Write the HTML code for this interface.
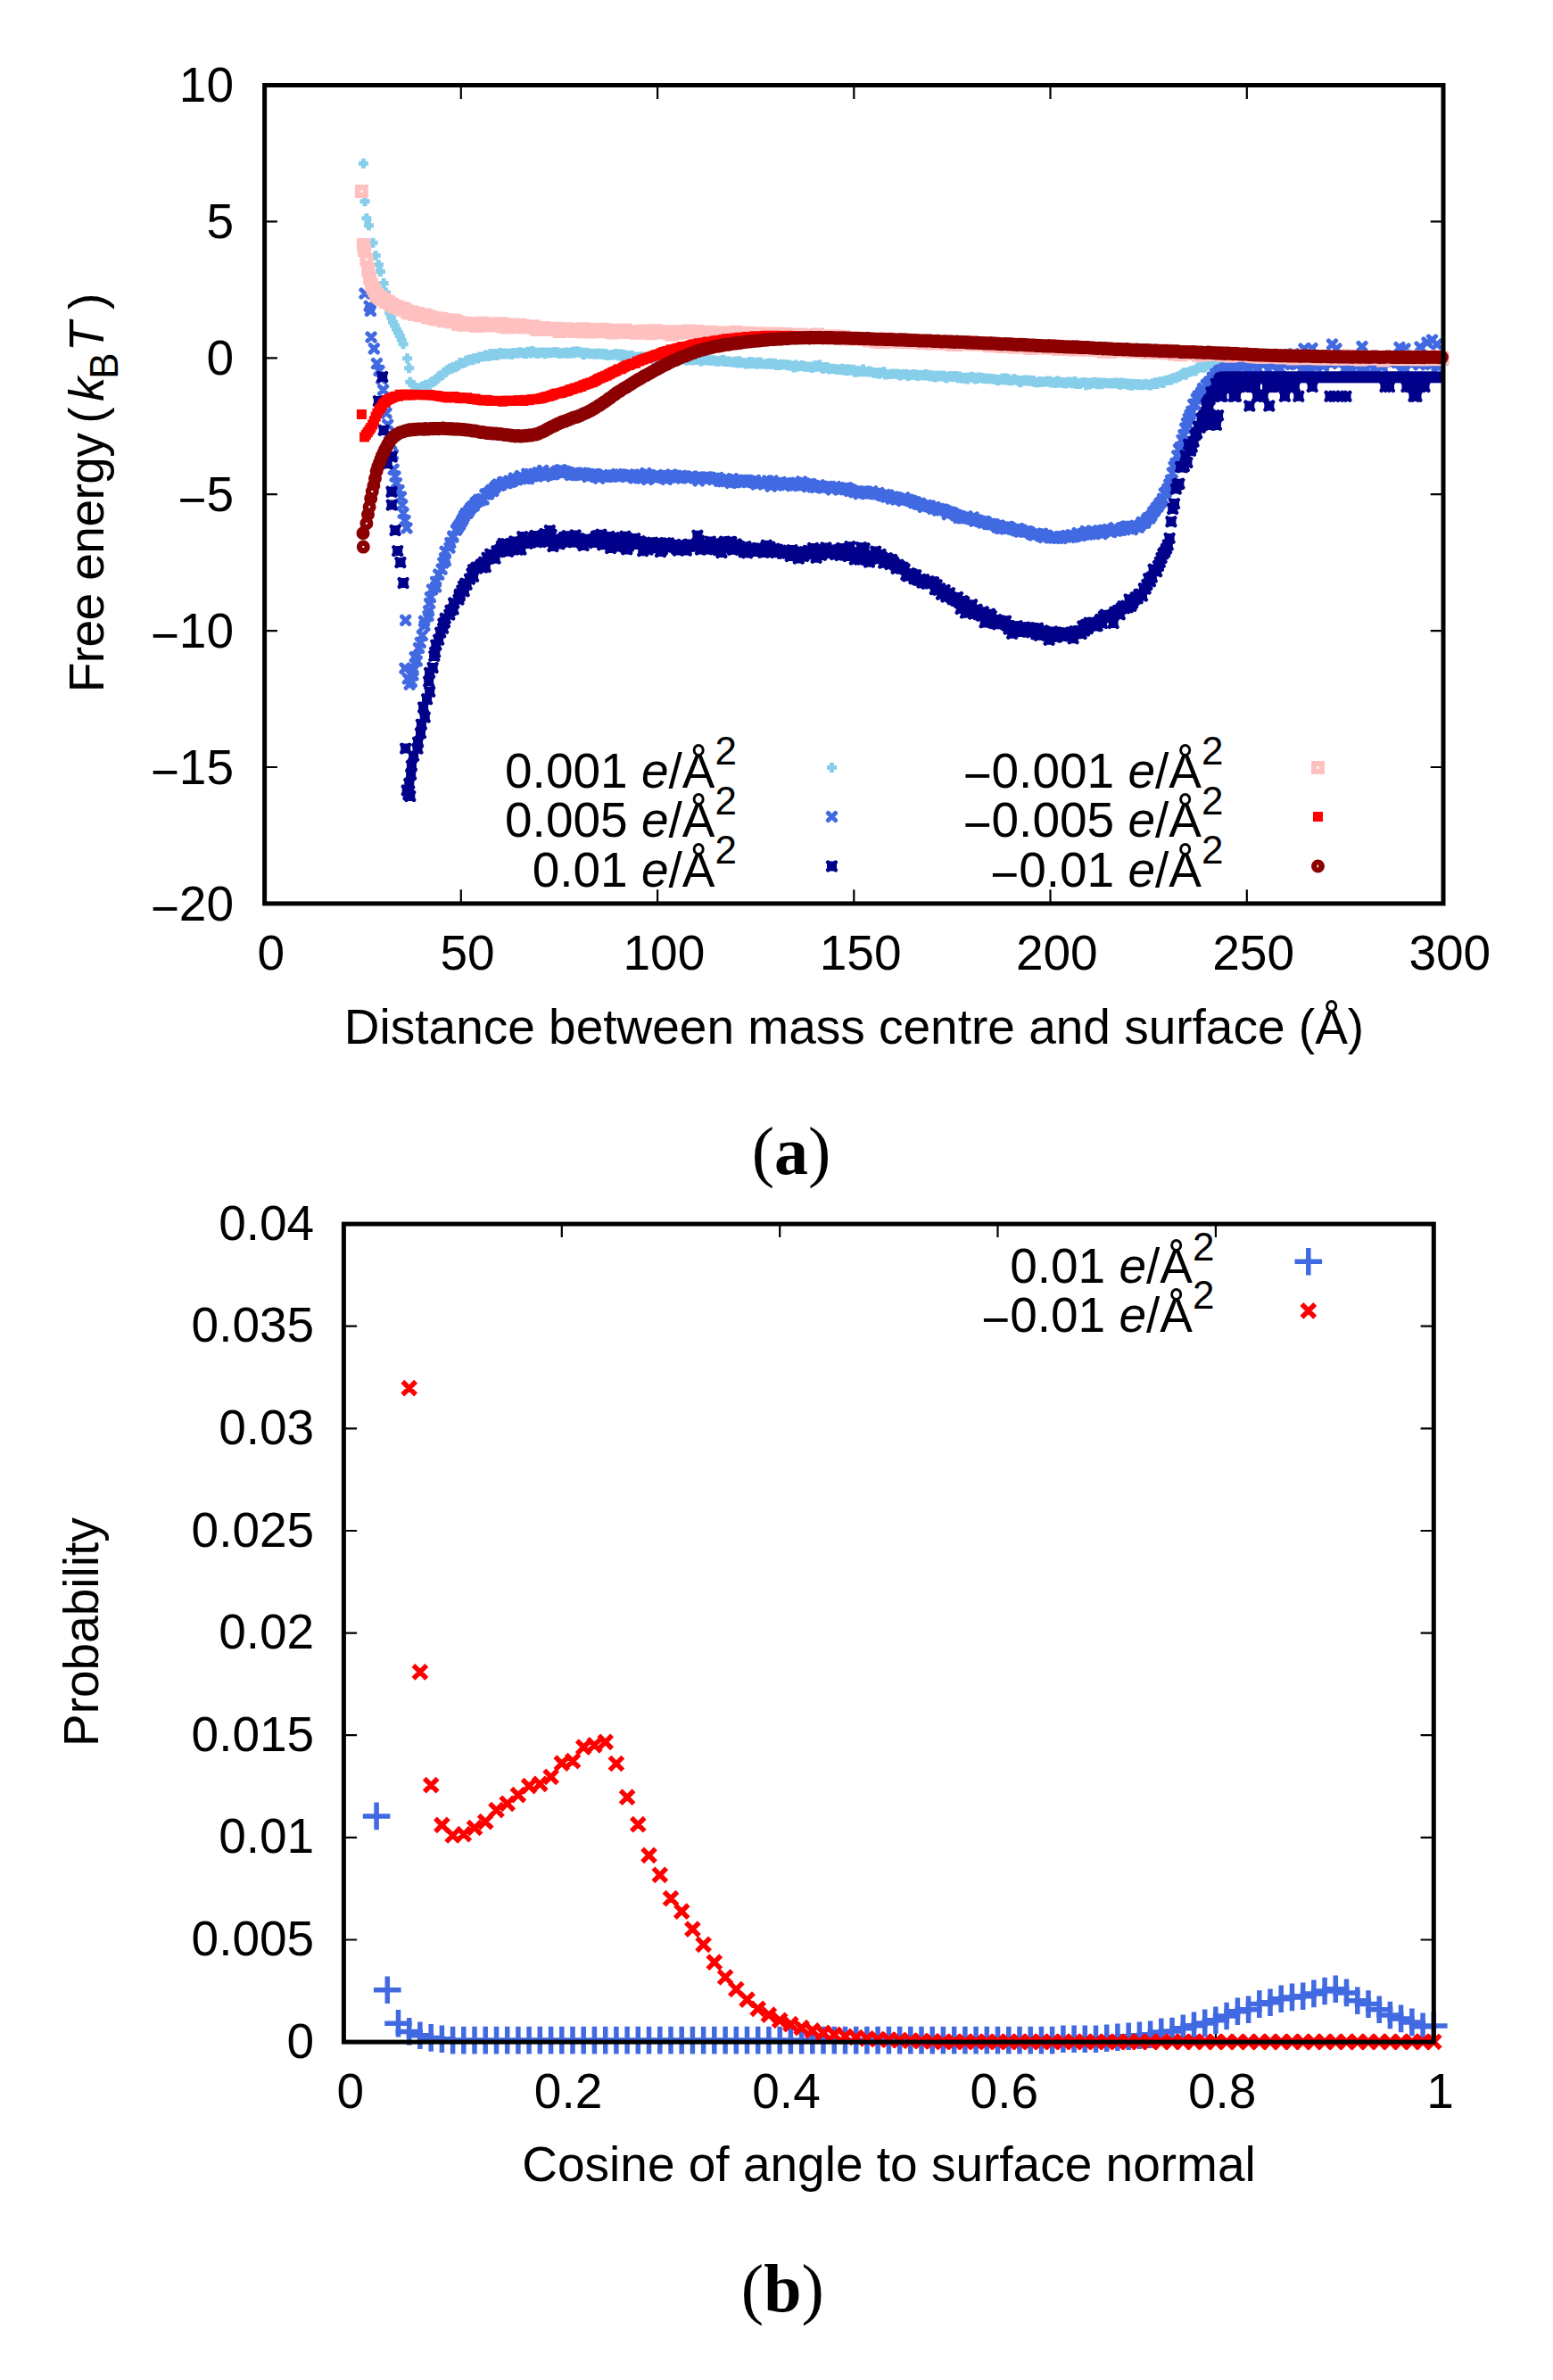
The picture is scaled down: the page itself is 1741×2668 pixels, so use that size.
<!DOCTYPE html>
<html lang="en"><head><meta charset="utf-8"><title>Free energy profiles and orientation distribution</title>
<style>html,body{margin:0;padding:0;background:#fff}svg{display:block}text{font-family:"Liberation Sans",Arial,Helvetica,sans-serif;font-size:55px;fill:#000}.i{font-style:italic}.s{font-size:44px}.cap{font-family:"Liberation Serif","DejaVu Serif",serif;font-size:76px}.b{font-weight:bold}</style></head><body>
<svg width="1741" height="2668" viewBox="0 0 1741 2668">
<rect width="1741" height="2668" fill="#fff"/>
<path stroke="#000" fill="none" stroke-width="2.2" d="M516.8 1012.9v-15.6 M516.8 95.5v15.6M737.1 1012.9v-15.6 M737.1 95.5v15.6M957.3 1012.9v-15.6 M957.3 95.5v15.6M1177.5 1012.9v-15.6 M1177.5 95.5v15.6M1397.8 1012.9v-15.6 M1397.8 95.5v15.6M296.6 248.4h14.3 M1618 248.4h-14.3M296.6 401.3h14.3 M1618 401.3h-14.3M296.6 554.2h14.3 M1618 554.2h-14.3M296.6 707.1h14.3 M1618 707.1h-14.3M296.6 860h14.3 M1618 860h-14.3"/>
<path stroke="#000" fill="none" stroke-width="2.2" d="M629.8 2289.1v-14.9 M629.8 1372.1v14.9M874.2 2289.1v-14.9 M874.2 1372.1v14.9M1118.5 2289.1v-14.9 M1118.5 1372.1v14.9M1362.9 2289.1v-14.9 M1362.9 1372.1v14.9M385.4 2174.5h14.7 M1607.3 2174.5h-14.7M385.4 2059.8h14.7 M1607.3 2059.8h-14.7M385.4 1945.2h14.7 M1607.3 1945.2h-14.7M385.4 1830.6h14.7 M1607.3 1830.6h-14.7M385.4 1716h14.7 M1607.3 1716h-14.7M385.4 1601.3h14.7 M1607.3 1601.3h-14.7M385.4 1486.7h14.7 M1607.3 1486.7h-14.7"/>
<g fill="none">
<path stroke="#87ceeb" stroke-width="5" d="M401.9 183.2h11m-5.5 -5.5v11M403.5 225.7h11m-5.5 -5.5v11M405.4 244.7h11m-5.5 -5.5v11M408 252.8h11m-5.5 -5.5v11M412.5 272.3h11m-5.5 -5.5v11M415.7 286.5h11m-5.5 -5.5v11M418.9 296.8h11m-5.5 -5.5v11M420.9 304.5h11m-5.5 -5.5v11M424.7 317.4h11m-5.5 -5.5v11M427 328h11m-5.5 -5.5v11M429 340h11m-5.5 -5.5v11M431.2 350.9h11m-5.5 -5.5v11M433.1 356h11m-5.5 -5.5v11M435 361.2h11m-5.5 -5.5v11M437 365h11m-5.5 -5.5v11M438.9 368.9h11m-5.5 -5.5v11M440.9 372.8h11m-5.5 -5.5v11M442.8 376.6h11m-5.5 -5.5v11M444.7 381h11m-5.5 -5.5v11M446.6 385.7h11m-5.5 -5.5v11M451.1 401.8h11m-5.5 -5.5v11M453.1 412.7h11m-5.5 -5.5v11M454.3 428.2h11m-5.5 -5.5v11M458.2 432h11m-5.5 -5.5v11M460.5 434.5h11m-5.5 -5.5v11M463.4 435.9h11m-5.5 -5.5v11M465.2 435.5h11m-5.5 -5.5v11M467 434.3h11m-5.5 -5.5v11M468.8 433h11m-5.5 -5.5v11M470.6 432.6h11m-5.5 -5.5v11M472.4 431.3h11m-5.5 -5.5v11M474.2 431.4h11m-5.5 -5.5v11M476 431.6h11m-5.5 -5.5v11M477.8 428.9h11m-5.5 -5.5v11M479.6 427.6h11m-5.5 -5.5v11M481.4 427.3h11m-5.5 -5.5v11M483.2 425.8h11m-5.5 -5.5v11M485 424.1h11m-5.5 -5.5v11M486.8 421.8h11m-5.5 -5.5v11M488.6 421.2h11m-5.5 -5.5v11M490.4 420.6h11m-5.5 -5.5v11M492.2 417.6h11m-5.5 -5.5v11M494 417.3h11m-5.5 -5.5v11M495.8 414.9h11m-5.5 -5.5v11M497.6 414.3h11m-5.5 -5.5v11M499.4 412.8h11m-5.5 -5.5v11M501.2 413.2h11m-5.5 -5.5v11M503 411.3h11m-5.5 -5.5v11M504.8 411.7h11m-5.5 -5.5v11M506.6 410.7h11m-5.5 -5.5v11M508.4 409.5h11m-5.5 -5.5v11M510.2 406.5h11m-5.5 -5.5v11M512 407.4h11m-5.5 -5.5v11M513.8 407h11m-5.5 -5.5v11M515.6 406.4h11m-5.5 -5.5v11M517.4 404.1h11m-5.5 -5.5v11M519.2 404.4h11m-5.5 -5.5v11M521 403.2h11m-5.5 -5.5v11M522.8 402.7h11m-5.5 -5.5v11M524.6 403.7h11m-5.5 -5.5v11M526.4 401.4h11m-5.5 -5.5v11M528.2 401.6h11m-5.5 -5.5v11M530 401.9h11m-5.5 -5.5v11M531.8 400.1h11m-5.5 -5.5v11M533.6 400.1h11m-5.5 -5.5v11M535.4 399.9h11m-5.5 -5.5v11M537.2 399.5h11m-5.5 -5.5v11M539 398h11m-5.5 -5.5v11M540.8 398.8h11m-5.5 -5.5v11M542.6 399.6h11m-5.5 -5.5v11M544.4 396.6h11m-5.5 -5.5v11M546.2 398.4h11m-5.5 -5.5v11M548 397.4h11m-5.5 -5.5v11M549.8 396.4h11m-5.5 -5.5v11M551.6 398.6h11m-5.5 -5.5v11M553.4 397.3h11m-5.5 -5.5v11M555.2 395.4h11m-5.5 -5.5v11M557 396.5h11m-5.5 -5.5v11M558.8 396.9h11m-5.5 -5.5v11M560.6 396.1h11m-5.5 -5.5v11M562.4 396.9h11m-5.5 -5.5v11M564.2 396.2h11m-5.5 -5.5v11M566 396.8h11m-5.5 -5.5v11M567.8 397.5h11m-5.5 -5.5v11M569.6 395.5h11m-5.5 -5.5v11M571.4 396.3h11m-5.5 -5.5v11M573.2 395.6h11m-5.5 -5.5v11M575 396.1h11m-5.5 -5.5v11M576.8 394.8h11m-5.5 -5.5v11M578.6 395.3h11m-5.5 -5.5v11M580.4 395.5h11m-5.5 -5.5v11M582.2 396.4h11m-5.5 -5.5v11M584 396.5h11m-5.5 -5.5v11M585.8 394.2h11m-5.5 -5.5v11M587.6 394.7h11m-5.5 -5.5v11M589.4 396h11m-5.5 -5.5v11M591.2 393.6h11m-5.5 -5.5v11M593 395h11m-5.5 -5.5v11M594.8 395.3h11m-5.5 -5.5v11M596.6 396.5h11m-5.5 -5.5v11M598.4 396h11m-5.5 -5.5v11M600.2 395.1h11m-5.5 -5.5v11M602 395.1h11m-5.5 -5.5v11M603.8 395.2h11m-5.5 -5.5v11M605.6 396.8h11m-5.5 -5.5v11M607.4 395h11m-5.5 -5.5v11M609.2 395.1h11m-5.5 -5.5v11M611 395.7h11m-5.5 -5.5v11M612.8 395.3h11m-5.5 -5.5v11M614.6 395.2h11m-5.5 -5.5v11M616.4 394.4h11m-5.5 -5.5v11M618.2 395.4h11m-5.5 -5.5v11M620 395h11m-5.5 -5.5v11M621.8 396.4h11m-5.5 -5.5v11M623.6 396h11m-5.5 -5.5v11M625.4 395.4h11m-5.5 -5.5v11M627.2 396h11m-5.5 -5.5v11M629 395.1h11m-5.5 -5.5v11M630.8 396.3h11m-5.5 -5.5v11M632.6 395.4h11m-5.5 -5.5v11M634.4 395.9h11m-5.5 -5.5v11M636.2 394.3h11m-5.5 -5.5v11M638 395.8h11m-5.5 -5.5v11M639.8 394h11m-5.5 -5.5v11M641.6 393.7h11m-5.5 -5.5v11M643.4 395.3h11m-5.5 -5.5v11M645.2 394.8h11m-5.5 -5.5v11M647 395.9h11m-5.5 -5.5v11M648.8 397.8h11m-5.5 -5.5v11M650.6 395.2h11m-5.5 -5.5v11M652.4 395.4h11m-5.5 -5.5v11M654.2 396.3h11m-5.5 -5.5v11M656 396.7h11m-5.5 -5.5v11M657.8 396.2h11m-5.5 -5.5v11M659.6 396.3h11m-5.5 -5.5v11M661.4 397.2h11m-5.5 -5.5v11M663.2 397.2h11m-5.5 -5.5v11M665 395.9h11m-5.5 -5.5v11M666.8 396.9h11m-5.5 -5.5v11M668.6 397.2h11m-5.5 -5.5v11M670.4 396.3h11m-5.5 -5.5v11M672.2 397.7h11m-5.5 -5.5v11M674 396.8h11m-5.5 -5.5v11M675.8 398.6h11m-5.5 -5.5v11M677.6 398h11m-5.5 -5.5v11M679.4 398.1h11m-5.5 -5.5v11M681.2 397.6h11m-5.5 -5.5v11M683 398.1h11m-5.5 -5.5v11M684.8 396.6h11m-5.5 -5.5v11M686.6 397.5h11m-5.5 -5.5v11M688.4 398.9h11m-5.5 -5.5v11M690.2 396.8h11m-5.5 -5.5v11M692 399.6h11m-5.5 -5.5v11M693.8 397.4h11m-5.5 -5.5v11M695.6 399.8h11m-5.5 -5.5v11M697.4 398.4h11m-5.5 -5.5v11M699.2 400h11m-5.5 -5.5v11M701 399.6h11m-5.5 -5.5v11M702.8 398.2h11m-5.5 -5.5v11M704.6 400.9h11m-5.5 -5.5v11M706.4 401.2h11m-5.5 -5.5v11M708.2 399.9h11m-5.5 -5.5v11M710 399.9h11m-5.5 -5.5v11M711.8 400.1h11m-5.5 -5.5v11M713.6 399.5h11m-5.5 -5.5v11M715.4 401.5h11m-5.5 -5.5v11M717.2 400.2h11m-5.5 -5.5v11M719 400.8h11m-5.5 -5.5v11M720.8 400.2h11m-5.5 -5.5v11M722.6 400.5h11m-5.5 -5.5v11M724.4 400.1h11m-5.5 -5.5v11M726.2 402.5h11m-5.5 -5.5v11M728 401.4h11m-5.5 -5.5v11M729.8 402.5h11m-5.5 -5.5v11M731.6 401.8h11m-5.5 -5.5v11M733.4 401.3h11m-5.5 -5.5v11M735.2 401.7h11m-5.5 -5.5v11M737 401.6h11m-5.5 -5.5v11M738.8 402.2h11m-5.5 -5.5v11M740.6 402h11m-5.5 -5.5v11M742.4 402.2h11m-5.5 -5.5v11M744.2 401.3h11m-5.5 -5.5v11M746 401.9h11m-5.5 -5.5v11M747.8 404.3h11m-5.5 -5.5v11M749.6 402.3h11m-5.5 -5.5v11M751.4 402h11m-5.5 -5.5v11M753.2 403.3h11m-5.5 -5.5v11M755 404.4h11m-5.5 -5.5v11M756.8 401.9h11m-5.5 -5.5v11M758.6 403.1h11m-5.5 -5.5v11M760.4 402.7h11m-5.5 -5.5v11M762.2 401.8h11m-5.5 -5.5v11M764 404.1h11m-5.5 -5.5v11M765.8 403.4h11m-5.5 -5.5v11M767.6 403.6h11m-5.5 -5.5v11M769.4 402.9h11m-5.5 -5.5v11M771.2 404h11m-5.5 -5.5v11M773 403.2h11m-5.5 -5.5v11M774.8 403.6h11m-5.5 -5.5v11M776.6 402.7h11m-5.5 -5.5v11M778.4 402.7h11m-5.5 -5.5v11M780.2 405h11m-5.5 -5.5v11M782 403.4h11m-5.5 -5.5v11M783.8 404.1h11m-5.5 -5.5v11M785.6 403.9h11m-5.5 -5.5v11M787.4 403.6h11m-5.5 -5.5v11M789.2 403.5h11m-5.5 -5.5v11M791 404.6h11m-5.5 -5.5v11M792.8 403.8h11m-5.5 -5.5v11M794.6 404h11m-5.5 -5.5v11M796.4 404.2h11m-5.5 -5.5v11M798.2 405.3h11m-5.5 -5.5v11M800 404.9h11m-5.5 -5.5v11M801.8 404.7h11m-5.5 -5.5v11M803.6 403.9h11m-5.5 -5.5v11M805.4 403.3h11m-5.5 -5.5v11M807.2 405.5h11m-5.5 -5.5v11M809 405.6h11m-5.5 -5.5v11M810.8 404.7h11m-5.5 -5.5v11M812.6 405.4h11m-5.5 -5.5v11M814.4 405.8h11m-5.5 -5.5v11M816.2 406h11m-5.5 -5.5v11M818 406.2h11m-5.5 -5.5v11M819.8 405.1h11m-5.5 -5.5v11M821.6 407h11m-5.5 -5.5v11M823.4 404.7h11m-5.5 -5.5v11M825.2 406.7h11m-5.5 -5.5v11M827 406.6h11m-5.5 -5.5v11M828.8 407.1h11m-5.5 -5.5v11M830.6 408.1h11m-5.5 -5.5v11M832.4 407.9h11m-5.5 -5.5v11M834.2 405.7h11m-5.5 -5.5v11M836 405.4h11m-5.5 -5.5v11M837.8 407.8h11m-5.5 -5.5v11M839.6 406.3h11m-5.5 -5.5v11M841.4 407.3h11m-5.5 -5.5v11M843.2 408.2h11m-5.5 -5.5v11M845 406.1h11m-5.5 -5.5v11M846.8 405.9h11m-5.5 -5.5v11M848.6 408.1h11m-5.5 -5.5v11M850.4 408h11m-5.5 -5.5v11M852.2 407.9h11m-5.5 -5.5v11M854 408.3h11m-5.5 -5.5v11M855.8 407.6h11m-5.5 -5.5v11M857.6 407.1h11m-5.5 -5.5v11M859.4 408.4h11m-5.5 -5.5v11M861.2 407.8h11m-5.5 -5.5v11M863 407.3h11m-5.5 -5.5v11M864.8 409.4h11m-5.5 -5.5v11M866.6 409h11m-5.5 -5.5v11M868.4 409.5h11m-5.5 -5.5v11M870.2 408.3h11m-5.5 -5.5v11M872 408.8h11m-5.5 -5.5v11M873.8 408.6h11m-5.5 -5.5v11M875.6 408.8h11m-5.5 -5.5v11M877.4 409.8h11m-5.5 -5.5v11M879.2 409.1h11m-5.5 -5.5v11M881 410.2h11m-5.5 -5.5v11M882.8 410.3h11m-5.5 -5.5v11M884.6 411.9h11m-5.5 -5.5v11M886.4 409h11m-5.5 -5.5v11M888.2 411.1h11m-5.5 -5.5v11M890 410.4h11m-5.5 -5.5v11M891.8 410.5h11m-5.5 -5.5v11M893.6 409.4h11m-5.5 -5.5v11M895.4 410.4h11m-5.5 -5.5v11M897.2 411.6h11m-5.5 -5.5v11M899 410.9h11m-5.5 -5.5v11M900.8 411.2h11m-5.5 -5.5v11M902.6 411h11m-5.5 -5.5v11M904.4 412.4h11m-5.5 -5.5v11M906.2 411.5h11m-5.5 -5.5v11M908 409.7h11m-5.5 -5.5v11M909.8 411.2h11m-5.5 -5.5v11M911.6 410.2h11m-5.5 -5.5v11M913.4 409.1h11m-5.5 -5.5v11M915.2 411.7h11m-5.5 -5.5v11M917 413.6h11m-5.5 -5.5v11M918.8 412.6h11m-5.5 -5.5v11M920.6 411.6h11m-5.5 -5.5v11M922.4 412h11m-5.5 -5.5v11M924.2 414h11m-5.5 -5.5v11M926 413.3h11m-5.5 -5.5v11M927.8 413.3h11m-5.5 -5.5v11M929.6 413.4h11m-5.5 -5.5v11M931.4 413.7h11m-5.5 -5.5v11M933.2 414.5h11m-5.5 -5.5v11M935 414.4h11m-5.5 -5.5v11M936.8 414.3h11m-5.5 -5.5v11M938.6 413.3h11m-5.5 -5.5v11M940.4 414.9h11m-5.5 -5.5v11M942.2 414h11m-5.5 -5.5v11M944 415.8h11m-5.5 -5.5v11M945.8 413.8h11m-5.5 -5.5v11M947.6 415h11m-5.5 -5.5v11M949.4 415.3h11m-5.5 -5.5v11M951.2 414.3h11m-5.5 -5.5v11M953 417.2h11m-5.5 -5.5v11M954.8 417.1h11m-5.5 -5.5v11M956.6 415.5h11m-5.5 -5.5v11M958.4 416.8h11m-5.5 -5.5v11M960.2 416.6h11m-5.5 -5.5v11M962 414.1h11m-5.5 -5.5v11M963.8 416.8h11m-5.5 -5.5v11M965.6 416.7h11m-5.5 -5.5v11M967.4 417h11m-5.5 -5.5v11M969.2 416.1h11m-5.5 -5.5v11M971 417h11m-5.5 -5.5v11M972.8 417.2h11m-5.5 -5.5v11M974.6 418.6h11m-5.5 -5.5v11M976.4 418h11m-5.5 -5.5v11M978.2 417.8h11m-5.5 -5.5v11M980 419.3h11m-5.5 -5.5v11M981.8 417.6h11m-5.5 -5.5v11M983.6 417.9h11m-5.5 -5.5v11M985.4 416.7h11m-5.5 -5.5v11M987.2 419.9h11m-5.5 -5.5v11M989 419.5h11m-5.5 -5.5v11M990.8 419.6h11m-5.5 -5.5v11M992.6 419.5h11m-5.5 -5.5v11M994.4 419.1h11m-5.5 -5.5v11M996.2 419.3h11m-5.5 -5.5v11M998 419h11m-5.5 -5.5v11M999.8 419.1h11m-5.5 -5.5v11M1001.6 419.5h11m-5.5 -5.5v11M1003.4 420.9h11m-5.5 -5.5v11M1005.2 420.1h11m-5.5 -5.5v11M1007 419.7h11m-5.5 -5.5v11M1008.8 419.3h11m-5.5 -5.5v11M1010.6 419.4h11m-5.5 -5.5v11M1012.4 421.5h11m-5.5 -5.5v11M1014.2 420.6h11m-5.5 -5.5v11M1016 420.3h11m-5.5 -5.5v11M1017.8 420h11m-5.5 -5.5v11M1019.6 419.4h11m-5.5 -5.5v11M1021.4 420.4h11m-5.5 -5.5v11M1023.2 421.4h11m-5.5 -5.5v11M1025 420.3h11m-5.5 -5.5v11M1026.8 420.5h11m-5.5 -5.5v11M1028.6 420.6h11m-5.5 -5.5v11M1030.4 421h11m-5.5 -5.5v11M1032.2 419.6h11m-5.5 -5.5v11M1034 420.9h11m-5.5 -5.5v11M1035.8 420.4h11m-5.5 -5.5v11M1037.6 422.1h11m-5.5 -5.5v11M1039.4 420.7h11m-5.5 -5.5v11M1041.2 422h11m-5.5 -5.5v11M1043 422.9h11m-5.5 -5.5v11M1044.8 421.3h11m-5.5 -5.5v11M1046.6 421.1h11m-5.5 -5.5v11M1048.4 421.9h11m-5.5 -5.5v11M1050.2 421.8h11m-5.5 -5.5v11M1052 421h11m-5.5 -5.5v11M1053.8 422.4h11m-5.5 -5.5v11M1055.6 423.9h11m-5.5 -5.5v11M1057.4 421.9h11m-5.5 -5.5v11M1059.2 422.1h11m-5.5 -5.5v11M1061 421.4h11m-5.5 -5.5v11M1062.8 422.7h11m-5.5 -5.5v11M1064.6 421.4h11m-5.5 -5.5v11M1066.4 421.6h11m-5.5 -5.5v11M1068.2 423.8h11m-5.5 -5.5v11M1070 421.9h11m-5.5 -5.5v11M1071.8 423.8h11m-5.5 -5.5v11M1073.6 424.3h11m-5.5 -5.5v11M1075.4 423.3h11m-5.5 -5.5v11M1077.2 423.6h11m-5.5 -5.5v11M1079 425h11m-5.5 -5.5v11M1080.8 423.1h11m-5.5 -5.5v11M1082.6 422.9h11m-5.5 -5.5v11M1084.4 422.3h11m-5.5 -5.5v11M1086.2 423.6h11m-5.5 -5.5v11M1088 425h11m-5.5 -5.5v11M1089.8 424.6h11m-5.5 -5.5v11M1091.6 423h11m-5.5 -5.5v11M1093.4 423.2h11m-5.5 -5.5v11M1095.2 423.6h11m-5.5 -5.5v11M1097 424.4h11m-5.5 -5.5v11M1098.8 424.1h11m-5.5 -5.5v11M1100.6 424.6h11m-5.5 -5.5v11M1102.4 424.8h11m-5.5 -5.5v11M1104.2 424.3h11m-5.5 -5.5v11M1106 424.7h11m-5.5 -5.5v11M1107.8 425h11m-5.5 -5.5v11M1109.6 424.9h11m-5.5 -5.5v11M1111.4 425.5h11m-5.5 -5.5v11M1113.2 426.8h11m-5.5 -5.5v11M1115 425.8h11m-5.5 -5.5v11M1116.8 425.4h11m-5.5 -5.5v11M1118.6 424h11m-5.5 -5.5v11M1120.4 426h11m-5.5 -5.5v11M1122.2 424h11m-5.5 -5.5v11M1124 424.6h11m-5.5 -5.5v11M1125.8 426.7h11m-5.5 -5.5v11M1127.6 426.7h11m-5.5 -5.5v11M1129.4 426h11m-5.5 -5.5v11M1131.2 424.7h11m-5.5 -5.5v11M1133 426.1h11m-5.5 -5.5v11M1134.8 425.9h11m-5.5 -5.5v11M1136.6 427.2h11m-5.5 -5.5v11M1138.4 428.8h11m-5.5 -5.5v11M1140.2 427h11m-5.5 -5.5v11M1142 426.2h11m-5.5 -5.5v11M1143.8 426h11m-5.5 -5.5v11M1145.6 427.1h11m-5.5 -5.5v11M1147.4 427.1h11m-5.5 -5.5v11M1149.2 426.3h11m-5.5 -5.5v11M1151 427.5h11m-5.5 -5.5v11M1152.8 426.5h11m-5.5 -5.5v11M1154.6 428.6h11m-5.5 -5.5v11M1156.4 428.7h11m-5.5 -5.5v11M1158.2 428.8h11m-5.5 -5.5v11M1160 427.5h11m-5.5 -5.5v11M1161.8 428.4h11m-5.5 -5.5v11M1163.6 427.9h11m-5.5 -5.5v11M1165.4 427.8h11m-5.5 -5.5v11M1167.2 427.9h11m-5.5 -5.5v11M1169 427.1h11m-5.5 -5.5v11M1170.8 427h11m-5.5 -5.5v11M1172.6 429.1h11m-5.5 -5.5v11M1174.4 428.3h11m-5.5 -5.5v11M1176.2 428.7h11m-5.5 -5.5v11M1178 429.5h11m-5.5 -5.5v11M1179.8 427.1h11m-5.5 -5.5v11M1181.6 428h11m-5.5 -5.5v11M1183.4 428.9h11m-5.5 -5.5v11M1185.2 429.2h11m-5.5 -5.5v11M1187 428.5h11m-5.5 -5.5v11M1188.8 429.9h11m-5.5 -5.5v11M1190.6 429.2h11m-5.5 -5.5v11M1192.4 427.9h11m-5.5 -5.5v11M1194.2 428.2h11m-5.5 -5.5v11M1196 429.8h11m-5.5 -5.5v11M1197.8 429.6h11m-5.5 -5.5v11M1199.6 427.5h11m-5.5 -5.5v11M1201.4 430.5h11m-5.5 -5.5v11M1203.2 429.8h11m-5.5 -5.5v11M1205 430.5h11m-5.5 -5.5v11M1206.8 429h11m-5.5 -5.5v11M1208.6 429.1h11m-5.5 -5.5v11M1210.4 428.4h11m-5.5 -5.5v11M1212.2 431.8h11m-5.5 -5.5v11M1214 429.4h11m-5.5 -5.5v11M1215.8 431h11m-5.5 -5.5v11M1217.6 429h11m-5.5 -5.5v11M1219.4 429.8h11m-5.5 -5.5v11M1221.2 428.2h11m-5.5 -5.5v11M1223 429.4h11m-5.5 -5.5v11M1224.8 430.7h11m-5.5 -5.5v11M1226.6 428.7h11m-5.5 -5.5v11M1228.4 430.8h11m-5.5 -5.5v11M1230.2 430.2h11m-5.5 -5.5v11M1232 429h11m-5.5 -5.5v11M1233.8 429.5h11m-5.5 -5.5v11M1235.6 429.6h11m-5.5 -5.5v11M1237.4 430h11m-5.5 -5.5v11M1239.2 429.6h11m-5.5 -5.5v11M1241 429.4h11m-5.5 -5.5v11M1242.8 429.9h11m-5.5 -5.5v11M1244.6 429.3h11m-5.5 -5.5v11M1246.4 429.1h11m-5.5 -5.5v11M1248.2 430.3h11m-5.5 -5.5v11M1250 431.2h11m-5.5 -5.5v11M1251.8 429h11m-5.5 -5.5v11M1253.6 430.5h11m-5.5 -5.5v11M1255.4 429.9h11m-5.5 -5.5v11M1257.2 429.7h11m-5.5 -5.5v11M1259 431.4h11m-5.5 -5.5v11M1260.8 430.3h11m-5.5 -5.5v11M1262.6 432.2h11m-5.5 -5.5v11M1264.4 430.2h11m-5.5 -5.5v11M1266.2 431.3h11m-5.5 -5.5v11M1268 430.9h11m-5.5 -5.5v11M1269.8 430.4h11m-5.5 -5.5v11M1271.6 431.7h11m-5.5 -5.5v11M1273.4 431.1h11m-5.5 -5.5v11M1275.2 431.8h11m-5.5 -5.5v11M1277 431.3h11m-5.5 -5.5v11M1278.8 430.3h11m-5.5 -5.5v11M1280.6 431.2h11m-5.5 -5.5v11M1282.4 431.2h11m-5.5 -5.5v11M1284.2 431.9h11m-5.5 -5.5v11M1286 430h11m-5.5 -5.5v11M1287.8 430.5h11m-5.5 -5.5v11M1289.6 428.7h11m-5.5 -5.5v11M1291.4 430.6h11m-5.5 -5.5v11M1293.2 428.7h11m-5.5 -5.5v11M1295 427.7h11m-5.5 -5.5v11M1296.8 429h11m-5.5 -5.5v11M1298.6 429.6h11m-5.5 -5.5v11M1300.4 426.8h11m-5.5 -5.5v11M1302.2 426.6h11m-5.5 -5.5v11M1304 426.3h11m-5.5 -5.5v11M1305.8 425.3h11m-5.5 -5.5v11M1307.6 425.9h11m-5.5 -5.5v11M1309.4 424.1h11m-5.5 -5.5v11M1311.2 423.4h11m-5.5 -5.5v11M1313 423.9h11m-5.5 -5.5v11M1314.8 421.9h11m-5.5 -5.5v11M1316.6 422.3h11m-5.5 -5.5v11M1318.4 420.2h11m-5.5 -5.5v11M1320.2 419.2h11m-5.5 -5.5v11M1322 417.8h11m-5.5 -5.5v11M1323.8 420.3h11m-5.5 -5.5v11M1325.6 417.6h11m-5.5 -5.5v11M1327.4 417.3h11m-5.5 -5.5v11M1329.2 416.3h11m-5.5 -5.5v11M1331 415.8h11m-5.5 -5.5v11M1332.8 415.1h11m-5.5 -5.5v11M1334.6 416.1h11m-5.5 -5.5v11M1336.4 412.9h11m-5.5 -5.5v11M1338.2 411.8h11m-5.5 -5.5v11M1340 411.7h11m-5.5 -5.5v11M1341.8 410.9h11m-5.5 -5.5v11M1343.6 412.2h11m-5.5 -5.5v11M1345.4 411.7h11m-5.5 -5.5v11M1347.2 409.6h11m-5.5 -5.5v11M1349 408.8h11m-5.5 -5.5v11M1350.8 409.2h11m-5.5 -5.5v11M1352.6 410.3h11m-5.5 -5.5v11M1354.4 406.1h11m-5.5 -5.5v11M1356.2 408.7h11m-5.5 -5.5v11M1358 406.9h11m-5.5 -5.5v11M1359.8 408.4h11m-5.5 -5.5v11M1361.6 406.1h11m-5.5 -5.5v11M1363.4 406.5h11m-5.5 -5.5v11M1365.2 405.1h11m-5.5 -5.5v11M1367 405.2h11m-5.5 -5.5v11M1368.8 407.1h11m-5.5 -5.5v11M1370.6 406.3h11m-5.5 -5.5v11M1372.4 405h11m-5.5 -5.5v11M1374.2 404.3h11m-5.5 -5.5v11M1376 403.1h11m-5.5 -5.5v11M1377.8 404.2h11m-5.5 -5.5v11M1379.6 404.3h11m-5.5 -5.5v11M1381.4 404.1h11m-5.5 -5.5v11M1383.2 403.8h11m-5.5 -5.5v11M1385 402.7h11m-5.5 -5.5v11M1386.8 403.5h11m-5.5 -5.5v11M1388.6 403.4h11m-5.5 -5.5v11M1390.4 404.4h11m-5.5 -5.5v11M1392.2 404.8h11m-5.5 -5.5v11M1394 402.9h11m-5.5 -5.5v11M1395.8 402.2h11m-5.5 -5.5v11M1397.6 402.8h11m-5.5 -5.5v11M1399.4 402.2h11m-5.5 -5.5v11M1401.2 402h11m-5.5 -5.5v11M1403 402.5h11m-5.5 -5.5v11M1404.8 401.6h11m-5.5 -5.5v11M1406.6 403h11m-5.5 -5.5v11M1408.4 402.3h11m-5.5 -5.5v11M1410.2 402.5h11m-5.5 -5.5v11M1412 402.1h11m-5.5 -5.5v11M1413.8 401.5h11m-5.5 -5.5v11M1415.6 401.2h11m-5.5 -5.5v11M1417.4 401.8h11m-5.5 -5.5v11M1419.2 401.5h11m-5.5 -5.5v11M1421 402.1h11m-5.5 -5.5v11M1422.8 401.9h11m-5.5 -5.5v11M1424.6 400.6h11m-5.5 -5.5v11M1426.4 401.8h11m-5.5 -5.5v11M1428.2 400.5h11m-5.5 -5.5v11M1430 401.1h11m-5.5 -5.5v11M1431.8 401.4h11m-5.5 -5.5v11M1433.6 399.8h11m-5.5 -5.5v11M1435.4 401.7h11m-5.5 -5.5v11M1437.2 401.7h11m-5.5 -5.5v11M1439 401.4h11m-5.5 -5.5v11M1440.8 401.1h11m-5.5 -5.5v11M1442.6 401.2h11m-5.5 -5.5v11M1444.4 400.6h11m-5.5 -5.5v11M1446.2 401.2h11m-5.5 -5.5v11M1448 401h11m-5.5 -5.5v11M1449.8 401.5h11m-5.5 -5.5v11M1451.6 400.4h11m-5.5 -5.5v11M1453.4 401.7h11m-5.5 -5.5v11M1455.2 401.6h11m-5.5 -5.5v11M1457 401.3h11m-5.5 -5.5v11M1458.8 401h11m-5.5 -5.5v11M1460.6 401.9h11m-5.5 -5.5v11M1462.4 399.9h11m-5.5 -5.5v11M1464.2 401.8h11m-5.5 -5.5v11M1466 401.6h11m-5.5 -5.5v11M1467.8 401.6h11m-5.5 -5.5v11M1469.6 401.7h11m-5.5 -5.5v11M1471.4 400.8h11m-5.5 -5.5v11M1473.2 401.1h11m-5.5 -5.5v11M1475 401.9h11m-5.5 -5.5v11M1476.8 401.7h11m-5.5 -5.5v11M1478.6 401.5h11m-5.5 -5.5v11M1480.4 399.9h11m-5.5 -5.5v11M1482.2 401.8h11m-5.5 -5.5v11M1484 402.3h11m-5.5 -5.5v11M1485.8 402.2h11m-5.5 -5.5v11M1487.6 401.5h11m-5.5 -5.5v11M1489.4 399.9h11m-5.5 -5.5v11M1491.2 402.1h11m-5.5 -5.5v11M1493 401.1h11m-5.5 -5.5v11M1494.8 399h11m-5.5 -5.5v11M1496.6 401.6h11m-5.5 -5.5v11M1498.4 399.9h11m-5.5 -5.5v11M1500.2 400h11m-5.5 -5.5v11M1502 400.6h11m-5.5 -5.5v11M1503.8 402.3h11m-5.5 -5.5v11M1505.6 400.9h11m-5.5 -5.5v11M1507.4 401.4h11m-5.5 -5.5v11M1509.2 402.8h11m-5.5 -5.5v11M1511 402.6h11m-5.5 -5.5v11M1512.8 401.1h11m-5.5 -5.5v11M1514.6 400.9h11m-5.5 -5.5v11M1516.4 400h11m-5.5 -5.5v11M1518.2 400.5h11m-5.5 -5.5v11M1520 401.5h11m-5.5 -5.5v11M1521.8 401.5h11m-5.5 -5.5v11M1523.6 401.2h11m-5.5 -5.5v11M1525.4 402h11m-5.5 -5.5v11M1527.2 400.4h11m-5.5 -5.5v11M1529 401.1h11m-5.5 -5.5v11M1530.8 401.8h11m-5.5 -5.5v11M1532.6 401.6h11m-5.5 -5.5v11M1534.4 402.1h11m-5.5 -5.5v11M1536.2 401.5h11m-5.5 -5.5v11M1538 400.8h11m-5.5 -5.5v11M1539.8 401.4h11m-5.5 -5.5v11M1541.6 400.2h11m-5.5 -5.5v11M1543.4 399.6h11m-5.5 -5.5v11M1545.2 401.6h11m-5.5 -5.5v11M1547 401h11m-5.5 -5.5v11M1548.8 401.3h11m-5.5 -5.5v11M1550.6 399.5h11m-5.5 -5.5v11M1552.4 400.7h11m-5.5 -5.5v11M1554.2 400.5h11m-5.5 -5.5v11M1556 400.3h11m-5.5 -5.5v11M1557.8 399h11m-5.5 -5.5v11M1559.6 400.7h11m-5.5 -5.5v11M1561.4 401.8h11m-5.5 -5.5v11M1563.2 401.4h11m-5.5 -5.5v11M1565 400.5h11m-5.5 -5.5v11M1566.8 401h11m-5.5 -5.5v11M1568.6 401.7h11m-5.5 -5.5v11M1570.4 398.5h11m-5.5 -5.5v11M1572.2 400.9h11m-5.5 -5.5v11M1574 401.5h11m-5.5 -5.5v11M1575.8 401.6h11m-5.5 -5.5v11M1577.6 402.5h11m-5.5 -5.5v11M1579.4 402h11m-5.5 -5.5v11M1581.2 401.3h11m-5.5 -5.5v11M1583 401.3h11m-5.5 -5.5v11M1584.8 401.7h11m-5.5 -5.5v11M1586.6 400.5h11m-5.5 -5.5v11M1588.4 401h11m-5.5 -5.5v11M1590.2 401.8h11m-5.5 -5.5v11M1592 402.8h11m-5.5 -5.5v11M1593.8 400.9h11m-5.5 -5.5v11M1595.6 401h11m-5.5 -5.5v11M1597.4 401.2h11m-5.5 -5.5v11M1599.2 402.2h11m-5.5 -5.5v11M1601 401h11m-5.5 -5.5v11M1602.8 402.3h11m-5.5 -5.5v11M1604.6 400.1h11m-5.5 -5.5v11M1606.4 400.8h11m-5.5 -5.5v11M1608.2 400.8h11m-5.5 -5.5v11M1610 401.7h11m-5.5 -5.5v11M1611.8 401.9h11m-5.5 -5.5v11M927 860.5h11m-5.5 -5.5v11"/>
<path stroke="#4169e1" stroke-width="5" stroke-linecap="round" d="M404.9 324.9l8.2 8.2m0 -8.2l-8.2 8.2M410 339.1l8.2 8.2m0 -8.2l-8.2 8.2M411.3 344.2l8.2 8.2m0 -8.2l-8.2 8.2M412 373.9l8.2 8.2m0 -8.2l-8.2 8.2M415.2 386.7l8.2 8.2m0 -8.2l-8.2 8.2M418.4 403.5l8.2 8.2m0 -8.2l-8.2 8.2M420.9 411.4l8.2 8.2m0 -8.2l-8.2 8.2M423.5 420.2l8.2 8.2m0 -8.2l-8.2 8.2M425.5 433.1l8.2 8.2m0 -8.2l-8.2 8.2M427.4 445.9l8.2 8.2m0 -8.2l-8.2 8.2M428.9 458.9l8.2 8.2m0 -8.2l-8.2 8.2M430.6 471.9l8.2 8.2m0 -8.2l-8.2 8.2M432.4 482.9l8.2 8.2m0 -8.2l-8.2 8.2M434.4 493.9l8.2 8.2m0 -8.2l-8.2 8.2M436.4 505.4l8.2 8.2m0 -8.2l-8.2 8.2M437.1 522.1l8.2 8.2m0 -8.2l-8.2 8.2M438.9 529.9l8.2 8.2m0 -8.2l-8.2 8.2M440.3 537.6l8.2 8.2m0 -8.2l-8.2 8.2M442.9 545.4l8.2 8.2m0 -8.2l-8.2 8.2M445.4 553l8.2 8.2m0 -8.2l-8.2 8.2M446.7 561.9l8.2 8.2m0 -8.2l-8.2 8.2M448 571l8.2 8.2m0 -8.2l-8.2 8.2M449.9 579.4l8.2 8.2m0 -8.2l-8.2 8.2M451.9 587.8l8.2 8.2m0 -8.2l-8.2 8.2M450.6 691.2l8.2 8.2m0 -8.2l-8.2 8.2M449.9 745.1l8.2 8.2m0 -8.2l-8.2 8.2M453.2 756.7l8.2 8.2m0 -8.2l-8.2 8.2M455.1 763.1l8.2 8.2m0 -8.2l-8.2 8.2M457.3 760.2l8.2 8.2m0 -8.2l-8.2 8.2M458.8 752.9l8.2 8.2m0 -8.2l-8.2 8.2M459.1 747.2l8.2 8.2m0 -8.2l-8.2 8.2M463.3 736.9l8.2 8.2m0 -8.2l-8.2 8.2M461.1 732.4l8.2 8.2m0 -8.2l-8.2 8.2M465.4 722.4l8.2 8.2m0 -8.2l-8.2 8.2M467.2 716.3l8.2 8.2m0 -8.2l-8.2 8.2M469.2 708.2l8.2 8.2m0 -8.2l-8.2 8.2M471.9 697.2l8.2 8.2m0 -8.2l-8.2 8.2M471.4 692.2l8.2 8.2m0 -8.2l-8.2 8.2M475.9 686.2l8.2 8.2m0 -8.2l-8.2 8.2M476.5 680.8l8.2 8.2m0 -8.2l-8.2 8.2M477.6 672.3l8.2 8.2m0 -8.2l-8.2 8.2M478.3 665.6l8.2 8.2m0 -8.2l-8.2 8.2M480.4 656.8l8.2 8.2m0 -8.2l-8.2 8.2M484.5 653.9l8.2 8.2m0 -8.2l-8.2 8.2M484.4 648.1l8.2 8.2m0 -8.2l-8.2 8.2M487.7 640l8.2 8.2m0 -8.2l-8.2 8.2M491 634l8.2 8.2m0 -8.2l-8.2 8.2M492.7 626.8l8.2 8.2m0 -8.2l-8.2 8.2M495.3 624.5l8.2 8.2m0 -8.2l-8.2 8.2M494.4 621.6l8.2 8.2m0 -8.2l-8.2 8.2M495 614.1l8.2 8.2m0 -8.2l-8.2 8.2M499.9 610l8.2 8.2m0 -8.2l-8.2 8.2M500.7 604.5l8.2 8.2m0 -8.2l-8.2 8.2M503.7 598.1l8.2 8.2m0 -8.2l-8.2 8.2M503.8 596.9l8.2 8.2m0 -8.2l-8.2 8.2M507.4 590.1l8.2 8.2m0 -8.2l-8.2 8.2M508.7 588l8.2 8.2m0 -8.2l-8.2 8.2M510.3 585.6l8.2 8.2m0 -8.2l-8.2 8.2M511.8 583.5l8.2 8.2m0 -8.2l-8.2 8.2M513.4 580.3l8.2 8.2m0 -8.2l-8.2 8.2M514.9 577.8l8.2 8.2m0 -8.2l-8.2 8.2M516.4 574.2l8.2 8.2m0 -8.2l-8.2 8.2M518.2 571.4l8.2 8.2m0 -8.2l-8.2 8.2M520 571.1l8.2 8.2m0 -8.2l-8.2 8.2M521.8 568.2l8.2 8.2m0 -8.2l-8.2 8.2M523.6 565.6l8.2 8.2m0 -8.2l-8.2 8.2M525.4 563.8l8.2 8.2m0 -8.2l-8.2 8.2M527.2 562.9l8.2 8.2m0 -8.2l-8.2 8.2M529 559.4l8.2 8.2m0 -8.2l-8.2 8.2M530.8 558.2l8.2 8.2m0 -8.2l-8.2 8.2M532.6 556.2l8.2 8.2m0 -8.2l-8.2 8.2M534.4 556.8l8.2 8.2m0 -8.2l-8.2 8.2M536.2 555.5l8.2 8.2m0 -8.2l-8.2 8.2M538 555.9l8.2 8.2m0 -8.2l-8.2 8.2M539.8 549.9l8.2 8.2m0 -8.2l-8.2 8.2M541.6 549.4l8.2 8.2m0 -8.2l-8.2 8.2M543.4 549.8l8.2 8.2m0 -8.2l-8.2 8.2M545.2 546.9l8.2 8.2m0 -8.2l-8.2 8.2M547 545.2l8.2 8.2m0 -8.2l-8.2 8.2M548.8 546.4l8.2 8.2m0 -8.2l-8.2 8.2M550.6 542.5l8.2 8.2m0 -8.2l-8.2 8.2M552.4 540.3l8.2 8.2m0 -8.2l-8.2 8.2M554.2 539l8.2 8.2m0 -8.2l-8.2 8.2M556 540.1l8.2 8.2m0 -8.2l-8.2 8.2M557.8 539.3l8.2 8.2m0 -8.2l-8.2 8.2M559.6 536.5l8.2 8.2m0 -8.2l-8.2 8.2M561.4 536.3l8.2 8.2m0 -8.2l-8.2 8.2M563.2 537.6l8.2 8.2m0 -8.2l-8.2 8.2M565 537.1l8.2 8.2m0 -8.2l-8.2 8.2M566.8 535.1l8.2 8.2m0 -8.2l-8.2 8.2M568.6 536.1l8.2 8.2m0 -8.2l-8.2 8.2M570.4 535.4l8.2 8.2m0 -8.2l-8.2 8.2M572.2 531.9l8.2 8.2m0 -8.2l-8.2 8.2M574 533.2l8.2 8.2m0 -8.2l-8.2 8.2M575.8 533.6l8.2 8.2m0 -8.2l-8.2 8.2M577.6 531.8l8.2 8.2m0 -8.2l-8.2 8.2M579.4 529.3l8.2 8.2m0 -8.2l-8.2 8.2M581.2 531.1l8.2 8.2m0 -8.2l-8.2 8.2M583 531.9l8.2 8.2m0 -8.2l-8.2 8.2M584.8 532.4l8.2 8.2m0 -8.2l-8.2 8.2M586.6 527.1l8.2 8.2m0 -8.2l-8.2 8.2M588.4 532.6l8.2 8.2m0 -8.2l-8.2 8.2M590.2 527.4l8.2 8.2m0 -8.2l-8.2 8.2M592 529.6l8.2 8.2m0 -8.2l-8.2 8.2M593.8 529.5l8.2 8.2m0 -8.2l-8.2 8.2M595.6 528.9l8.2 8.2m0 -8.2l-8.2 8.2M597.4 527.6l8.2 8.2m0 -8.2l-8.2 8.2M599.2 525.7l8.2 8.2m0 -8.2l-8.2 8.2M601 527.7l8.2 8.2m0 -8.2l-8.2 8.2M602.8 525.8l8.2 8.2m0 -8.2l-8.2 8.2M604.6 523.3l8.2 8.2m0 -8.2l-8.2 8.2M606.4 529.8l8.2 8.2m0 -8.2l-8.2 8.2M608.2 527l8.2 8.2m0 -8.2l-8.2 8.2M610 528.2l8.2 8.2m0 -8.2l-8.2 8.2M611.8 524.7l8.2 8.2m0 -8.2l-8.2 8.2M613.6 527.5l8.2 8.2m0 -8.2l-8.2 8.2M615.4 527.5l8.2 8.2m0 -8.2l-8.2 8.2M617.2 527.3l8.2 8.2m0 -8.2l-8.2 8.2M619 525.3l8.2 8.2m0 -8.2l-8.2 8.2M620.8 523.8l8.2 8.2m0 -8.2l-8.2 8.2M622.6 525.1l8.2 8.2m0 -8.2l-8.2 8.2M624.4 522.6l8.2 8.2m0 -8.2l-8.2 8.2M626.2 523.3l8.2 8.2m0 -8.2l-8.2 8.2M628 525.6l8.2 8.2m0 -8.2l-8.2 8.2M629.8 524.4l8.2 8.2m0 -8.2l-8.2 8.2M631.6 525.5l8.2 8.2m0 -8.2l-8.2 8.2M633.4 525.7l8.2 8.2m0 -8.2l-8.2 8.2M635.2 528.4l8.2 8.2m0 -8.2l-8.2 8.2M637 527.8l8.2 8.2m0 -8.2l-8.2 8.2M638.8 526.4l8.2 8.2m0 -8.2l-8.2 8.2M640.6 528.2l8.2 8.2m0 -8.2l-8.2 8.2M642.4 526l8.2 8.2m0 -8.2l-8.2 8.2M644.2 526.8l8.2 8.2m0 -8.2l-8.2 8.2M646 528.6l8.2 8.2m0 -8.2l-8.2 8.2M647.8 526.1l8.2 8.2m0 -8.2l-8.2 8.2M649.6 527.5l8.2 8.2m0 -8.2l-8.2 8.2M651.4 526.4l8.2 8.2m0 -8.2l-8.2 8.2M653.2 528.4l8.2 8.2m0 -8.2l-8.2 8.2M655 530.4l8.2 8.2m0 -8.2l-8.2 8.2M656.8 527.6l8.2 8.2m0 -8.2l-8.2 8.2M658.6 529l8.2 8.2m0 -8.2l-8.2 8.2M660.4 527.7l8.2 8.2m0 -8.2l-8.2 8.2M662.2 527.5l8.2 8.2m0 -8.2l-8.2 8.2M664 527.5l8.2 8.2m0 -8.2l-8.2 8.2M665.8 530.9l8.2 8.2m0 -8.2l-8.2 8.2M667.6 532.1l8.2 8.2m0 -8.2l-8.2 8.2M669.4 529.8l8.2 8.2m0 -8.2l-8.2 8.2M671.2 528.4l8.2 8.2m0 -8.2l-8.2 8.2M673 530.2l8.2 8.2m0 -8.2l-8.2 8.2M674.8 528.9l8.2 8.2m0 -8.2l-8.2 8.2M676.6 530.4l8.2 8.2m0 -8.2l-8.2 8.2M678.4 529.8l8.2 8.2m0 -8.2l-8.2 8.2M680.2 529.8l8.2 8.2m0 -8.2l-8.2 8.2M682 530.2l8.2 8.2m0 -8.2l-8.2 8.2M683.8 528.8l8.2 8.2m0 -8.2l-8.2 8.2M685.6 529l8.2 8.2m0 -8.2l-8.2 8.2M687.4 527.4l8.2 8.2m0 -8.2l-8.2 8.2M689.2 529l8.2 8.2m0 -8.2l-8.2 8.2M691 527.8l8.2 8.2m0 -8.2l-8.2 8.2M692.8 529.5l8.2 8.2m0 -8.2l-8.2 8.2M694.6 528.5l8.2 8.2m0 -8.2l-8.2 8.2M696.4 529.8l8.2 8.2m0 -8.2l-8.2 8.2M698.2 530.3l8.2 8.2m0 -8.2l-8.2 8.2M700 527.9l8.2 8.2m0 -8.2l-8.2 8.2M701.8 528.7l8.2 8.2m0 -8.2l-8.2 8.2M703.6 528.6l8.2 8.2m0 -8.2l-8.2 8.2M705.4 530.7l8.2 8.2m0 -8.2l-8.2 8.2M707.2 531.9l8.2 8.2m0 -8.2l-8.2 8.2M709 530.9l8.2 8.2m0 -8.2l-8.2 8.2M710.8 529.4l8.2 8.2m0 -8.2l-8.2 8.2M712.6 531.7l8.2 8.2m0 -8.2l-8.2 8.2M714.4 528l8.2 8.2m0 -8.2l-8.2 8.2M716.2 531.8l8.2 8.2m0 -8.2l-8.2 8.2M718 529.1l8.2 8.2m0 -8.2l-8.2 8.2M719.8 526.5l8.2 8.2m0 -8.2l-8.2 8.2M721.6 533.3l8.2 8.2m0 -8.2l-8.2 8.2M723.4 532l8.2 8.2m0 -8.2l-8.2 8.2M725.2 528.8l8.2 8.2m0 -8.2l-8.2 8.2M727 530.3l8.2 8.2m0 -8.2l-8.2 8.2M728.8 529.8l8.2 8.2m0 -8.2l-8.2 8.2M730.6 530.2l8.2 8.2m0 -8.2l-8.2 8.2M732.4 528.3l8.2 8.2m0 -8.2l-8.2 8.2M734.2 529.3l8.2 8.2m0 -8.2l-8.2 8.2M736 530.7l8.2 8.2m0 -8.2l-8.2 8.2M737.8 530.5l8.2 8.2m0 -8.2l-8.2 8.2M739.6 531.7l8.2 8.2m0 -8.2l-8.2 8.2M741.4 530.3l8.2 8.2m0 -8.2l-8.2 8.2M743.2 533.2l8.2 8.2m0 -8.2l-8.2 8.2M745 529.4l8.2 8.2m0 -8.2l-8.2 8.2M746.8 530.6l8.2 8.2m0 -8.2l-8.2 8.2M748.6 527.9l8.2 8.2m0 -8.2l-8.2 8.2M750.4 528.8l8.2 8.2m0 -8.2l-8.2 8.2M752.2 532l8.2 8.2m0 -8.2l-8.2 8.2M754 529.2l8.2 8.2m0 -8.2l-8.2 8.2M755.8 531.1l8.2 8.2m0 -8.2l-8.2 8.2M757.6 530.4l8.2 8.2m0 -8.2l-8.2 8.2M759.4 529.2l8.2 8.2m0 -8.2l-8.2 8.2M761.2 530.1l8.2 8.2m0 -8.2l-8.2 8.2M763 530l8.2 8.2m0 -8.2l-8.2 8.2M764.8 530.1l8.2 8.2m0 -8.2l-8.2 8.2M766.6 531.7l8.2 8.2m0 -8.2l-8.2 8.2M768.4 531.7l8.2 8.2m0 -8.2l-8.2 8.2M770.2 530.2l8.2 8.2m0 -8.2l-8.2 8.2M772 529.9l8.2 8.2m0 -8.2l-8.2 8.2M773.8 531.5l8.2 8.2m0 -8.2l-8.2 8.2M775.6 531.1l8.2 8.2m0 -8.2l-8.2 8.2M777.4 532.6l8.2 8.2m0 -8.2l-8.2 8.2M779.2 534.8l8.2 8.2m0 -8.2l-8.2 8.2M781 532.6l8.2 8.2m0 -8.2l-8.2 8.2M782.8 531.7l8.2 8.2m0 -8.2l-8.2 8.2M784.6 531.6l8.2 8.2m0 -8.2l-8.2 8.2M786.4 530.9l8.2 8.2m0 -8.2l-8.2 8.2M788.2 531l8.2 8.2m0 -8.2l-8.2 8.2M790 531l8.2 8.2m0 -8.2l-8.2 8.2M791.8 531.9l8.2 8.2m0 -8.2l-8.2 8.2M793.6 531.9l8.2 8.2m0 -8.2l-8.2 8.2M795.4 533.5l8.2 8.2m0 -8.2l-8.2 8.2M797.2 532.2l8.2 8.2m0 -8.2l-8.2 8.2M799 532.6l8.2 8.2m0 -8.2l-8.2 8.2M800.8 531.5l8.2 8.2m0 -8.2l-8.2 8.2M802.6 535.2l8.2 8.2m0 -8.2l-8.2 8.2M804.4 533.9l8.2 8.2m0 -8.2l-8.2 8.2M806.2 535.6l8.2 8.2m0 -8.2l-8.2 8.2M808 534.5l8.2 8.2m0 -8.2l-8.2 8.2M809.8 535.5l8.2 8.2m0 -8.2l-8.2 8.2M811.6 533.4l8.2 8.2m0 -8.2l-8.2 8.2M813.4 534.8l8.2 8.2m0 -8.2l-8.2 8.2M815.2 537.4l8.2 8.2m0 -8.2l-8.2 8.2M817 532.6l8.2 8.2m0 -8.2l-8.2 8.2M818.8 535.8l8.2 8.2m0 -8.2l-8.2 8.2M820.6 536.6l8.2 8.2m0 -8.2l-8.2 8.2M822.4 535.1l8.2 8.2m0 -8.2l-8.2 8.2M824.2 535.7l8.2 8.2m0 -8.2l-8.2 8.2M826 536.5l8.2 8.2m0 -8.2l-8.2 8.2M827.8 534.2l8.2 8.2m0 -8.2l-8.2 8.2M829.6 535.7l8.2 8.2m0 -8.2l-8.2 8.2M831.4 534.2l8.2 8.2m0 -8.2l-8.2 8.2M833.2 534.6l8.2 8.2m0 -8.2l-8.2 8.2M835 534.8l8.2 8.2m0 -8.2l-8.2 8.2M836.8 535.5l8.2 8.2m0 -8.2l-8.2 8.2M838.6 536l8.2 8.2m0 -8.2l-8.2 8.2M840.4 536.6l8.2 8.2m0 -8.2l-8.2 8.2M842.2 534.3l8.2 8.2m0 -8.2l-8.2 8.2M844 538.8l8.2 8.2m0 -8.2l-8.2 8.2M845.8 537.9l8.2 8.2m0 -8.2l-8.2 8.2M847.6 537.4l8.2 8.2m0 -8.2l-8.2 8.2M849.4 536.2l8.2 8.2m0 -8.2l-8.2 8.2M851.2 536.6l8.2 8.2m0 -8.2l-8.2 8.2M853 537.6l8.2 8.2m0 -8.2l-8.2 8.2M854.8 537.5l8.2 8.2m0 -8.2l-8.2 8.2M856.6 534.9l8.2 8.2m0 -8.2l-8.2 8.2M858.4 538.1l8.2 8.2m0 -8.2l-8.2 8.2M860.2 541l8.2 8.2m0 -8.2l-8.2 8.2M862 535l8.2 8.2m0 -8.2l-8.2 8.2M863.8 538.8l8.2 8.2m0 -8.2l-8.2 8.2M865.6 538.1l8.2 8.2m0 -8.2l-8.2 8.2M867.4 537.5l8.2 8.2m0 -8.2l-8.2 8.2M869.2 539.5l8.2 8.2m0 -8.2l-8.2 8.2M871 536.3l8.2 8.2m0 -8.2l-8.2 8.2M872.8 538.2l8.2 8.2m0 -8.2l-8.2 8.2M874.6 539.9l8.2 8.2m0 -8.2l-8.2 8.2M876.4 537.9l8.2 8.2m0 -8.2l-8.2 8.2M878.2 537.7l8.2 8.2m0 -8.2l-8.2 8.2M880 538.5l8.2 8.2m0 -8.2l-8.2 8.2M881.8 537.9l8.2 8.2m0 -8.2l-8.2 8.2M883.6 540.5l8.2 8.2m0 -8.2l-8.2 8.2M885.4 537.5l8.2 8.2m0 -8.2l-8.2 8.2M887.2 539.8l8.2 8.2m0 -8.2l-8.2 8.2M889 537.2l8.2 8.2m0 -8.2l-8.2 8.2M890.8 539.8l8.2 8.2m0 -8.2l-8.2 8.2M892.6 538.9l8.2 8.2m0 -8.2l-8.2 8.2M894.4 535.8l8.2 8.2m0 -8.2l-8.2 8.2M896.2 539.3l8.2 8.2m0 -8.2l-8.2 8.2M898 538l8.2 8.2m0 -8.2l-8.2 8.2M899.8 539l8.2 8.2m0 -8.2l-8.2 8.2M901.6 541.6l8.2 8.2m0 -8.2l-8.2 8.2M903.4 538.4l8.2 8.2m0 -8.2l-8.2 8.2M905.2 538.6l8.2 8.2m0 -8.2l-8.2 8.2M907 541.9l8.2 8.2m0 -8.2l-8.2 8.2M908.8 540.4l8.2 8.2m0 -8.2l-8.2 8.2M910.6 542.4l8.2 8.2m0 -8.2l-8.2 8.2M912.4 541l8.2 8.2m0 -8.2l-8.2 8.2M914.2 539.6l8.2 8.2m0 -8.2l-8.2 8.2M916 540.9l8.2 8.2m0 -8.2l-8.2 8.2M917.8 542.7l8.2 8.2m0 -8.2l-8.2 8.2M919.6 542.6l8.2 8.2m0 -8.2l-8.2 8.2M921.4 541.6l8.2 8.2m0 -8.2l-8.2 8.2M923.2 541.8l8.2 8.2m0 -8.2l-8.2 8.2M925 541.9l8.2 8.2m0 -8.2l-8.2 8.2M926.8 541.5l8.2 8.2m0 -8.2l-8.2 8.2M928.6 544.9l8.2 8.2m0 -8.2l-8.2 8.2M930.4 542.7l8.2 8.2m0 -8.2l-8.2 8.2M932.2 541.5l8.2 8.2m0 -8.2l-8.2 8.2M934 542.6l8.2 8.2m0 -8.2l-8.2 8.2M935.8 544.4l8.2 8.2m0 -8.2l-8.2 8.2M937.6 544.5l8.2 8.2m0 -8.2l-8.2 8.2M939.4 543.8l8.2 8.2m0 -8.2l-8.2 8.2M941.2 543.3l8.2 8.2m0 -8.2l-8.2 8.2M943 544.5l8.2 8.2m0 -8.2l-8.2 8.2M944.8 542.6l8.2 8.2m0 -8.2l-8.2 8.2M946.6 543.3l8.2 8.2m0 -8.2l-8.2 8.2M948.4 546.2l8.2 8.2m0 -8.2l-8.2 8.2M950.2 544.9l8.2 8.2m0 -8.2l-8.2 8.2M952 546.2l8.2 8.2m0 -8.2l-8.2 8.2M953.8 547.6l8.2 8.2m0 -8.2l-8.2 8.2M955.6 547.1l8.2 8.2m0 -8.2l-8.2 8.2M957.4 546.6l8.2 8.2m0 -8.2l-8.2 8.2M959.2 549.6l8.2 8.2m0 -8.2l-8.2 8.2M961 548l8.2 8.2m0 -8.2l-8.2 8.2M962.8 546.9l8.2 8.2m0 -8.2l-8.2 8.2M964.6 548.6l8.2 8.2m0 -8.2l-8.2 8.2M966.4 548.5l8.2 8.2m0 -8.2l-8.2 8.2M968.2 547.2l8.2 8.2m0 -8.2l-8.2 8.2M970 548.7l8.2 8.2m0 -8.2l-8.2 8.2M971.8 548.7l8.2 8.2m0 -8.2l-8.2 8.2M973.6 546.7l8.2 8.2m0 -8.2l-8.2 8.2M975.4 549.3l8.2 8.2m0 -8.2l-8.2 8.2M977.2 549.5l8.2 8.2m0 -8.2l-8.2 8.2M979 549.6l8.2 8.2m0 -8.2l-8.2 8.2M980.8 548.4l8.2 8.2m0 -8.2l-8.2 8.2M982.6 550.4l8.2 8.2m0 -8.2l-8.2 8.2M984.4 551.1l8.2 8.2m0 -8.2l-8.2 8.2M986.2 551.7l8.2 8.2m0 -8.2l-8.2 8.2M988 550.4l8.2 8.2m0 -8.2l-8.2 8.2M989.8 553l8.2 8.2m0 -8.2l-8.2 8.2M991.6 551l8.2 8.2m0 -8.2l-8.2 8.2M993.4 552.7l8.2 8.2m0 -8.2l-8.2 8.2M995.2 555l8.2 8.2m0 -8.2l-8.2 8.2M997 552.8l8.2 8.2m0 -8.2l-8.2 8.2M998.8 553.4l8.2 8.2m0 -8.2l-8.2 8.2M1000.6 555.8l8.2 8.2m0 -8.2l-8.2 8.2M1002.4 554.4l8.2 8.2m0 -8.2l-8.2 8.2M1004.2 554.9l8.2 8.2m0 -8.2l-8.2 8.2M1006 556l8.2 8.2m0 -8.2l-8.2 8.2M1007.8 557.4l8.2 8.2m0 -8.2l-8.2 8.2M1009.6 553.7l8.2 8.2m0 -8.2l-8.2 8.2M1011.4 555.9l8.2 8.2m0 -8.2l-8.2 8.2M1013.2 556.1l8.2 8.2m0 -8.2l-8.2 8.2M1015 556.5l8.2 8.2m0 -8.2l-8.2 8.2M1016.8 557.2l8.2 8.2m0 -8.2l-8.2 8.2M1018.6 557.7l8.2 8.2m0 -8.2l-8.2 8.2M1020.4 559.6l8.2 8.2m0 -8.2l-8.2 8.2M1022.2 558.6l8.2 8.2m0 -8.2l-8.2 8.2M1024 560.3l8.2 8.2m0 -8.2l-8.2 8.2M1025.8 561.2l8.2 8.2m0 -8.2l-8.2 8.2M1027.6 560.2l8.2 8.2m0 -8.2l-8.2 8.2M1029.4 561.8l8.2 8.2m0 -8.2l-8.2 8.2M1031.2 564.2l8.2 8.2m0 -8.2l-8.2 8.2M1033 563l8.2 8.2m0 -8.2l-8.2 8.2M1034.8 562.3l8.2 8.2m0 -8.2l-8.2 8.2M1036.6 563.5l8.2 8.2m0 -8.2l-8.2 8.2M1038.4 562.9l8.2 8.2m0 -8.2l-8.2 8.2M1040.2 564.9l8.2 8.2m0 -8.2l-8.2 8.2M1042 566.2l8.2 8.2m0 -8.2l-8.2 8.2M1043.8 564.5l8.2 8.2m0 -8.2l-8.2 8.2M1045.6 565.8l8.2 8.2m0 -8.2l-8.2 8.2M1047.4 568l8.2 8.2m0 -8.2l-8.2 8.2M1049.2 566.5l8.2 8.2m0 -8.2l-8.2 8.2M1051 567.9l8.2 8.2m0 -8.2l-8.2 8.2M1052.8 566.9l8.2 8.2m0 -8.2l-8.2 8.2M1054.6 567.7l8.2 8.2m0 -8.2l-8.2 8.2M1056.4 568.6l8.2 8.2m0 -8.2l-8.2 8.2M1058.2 572.6l8.2 8.2m0 -8.2l-8.2 8.2M1060 569.9l8.2 8.2m0 -8.2l-8.2 8.2M1061.8 570.3l8.2 8.2m0 -8.2l-8.2 8.2M1063.6 570.8l8.2 8.2m0 -8.2l-8.2 8.2M1065.4 571.9l8.2 8.2m0 -8.2l-8.2 8.2M1067.2 573.5l8.2 8.2m0 -8.2l-8.2 8.2M1069 573.5l8.2 8.2m0 -8.2l-8.2 8.2M1070.8 576.3l8.2 8.2m0 -8.2l-8.2 8.2M1072.6 574.6l8.2 8.2m0 -8.2l-8.2 8.2M1074.4 576.7l8.2 8.2m0 -8.2l-8.2 8.2M1076.2 575.8l8.2 8.2m0 -8.2l-8.2 8.2M1078 576.7l8.2 8.2m0 -8.2l-8.2 8.2M1079.8 574.7l8.2 8.2m0 -8.2l-8.2 8.2M1081.6 576.9l8.2 8.2m0 -8.2l-8.2 8.2M1083.4 577.4l8.2 8.2m0 -8.2l-8.2 8.2M1085.2 577.7l8.2 8.2m0 -8.2l-8.2 8.2M1087 575.8l8.2 8.2m0 -8.2l-8.2 8.2M1088.8 580.1l8.2 8.2m0 -8.2l-8.2 8.2M1090.6 579l8.2 8.2m0 -8.2l-8.2 8.2M1092.4 579.4l8.2 8.2m0 -8.2l-8.2 8.2M1094.2 580.2l8.2 8.2m0 -8.2l-8.2 8.2M1096 580.7l8.2 8.2m0 -8.2l-8.2 8.2M1097.8 582l8.2 8.2m0 -8.2l-8.2 8.2M1099.6 580.3l8.2 8.2m0 -8.2l-8.2 8.2M1101.4 581.2l8.2 8.2m0 -8.2l-8.2 8.2M1103.2 583.2l8.2 8.2m0 -8.2l-8.2 8.2M1105 583.5l8.2 8.2m0 -8.2l-8.2 8.2M1106.8 583.4l8.2 8.2m0 -8.2l-8.2 8.2M1108.6 583.6l8.2 8.2m0 -8.2l-8.2 8.2M1110.4 583.7l8.2 8.2m0 -8.2l-8.2 8.2M1112.2 585.1l8.2 8.2m0 -8.2l-8.2 8.2M1114 587.1l8.2 8.2m0 -8.2l-8.2 8.2M1115.8 584.8l8.2 8.2m0 -8.2l-8.2 8.2M1117.6 588.4l8.2 8.2m0 -8.2l-8.2 8.2M1119.4 588l8.2 8.2m0 -8.2l-8.2 8.2M1121.2 586.8l8.2 8.2m0 -8.2l-8.2 8.2M1123 588.8l8.2 8.2m0 -8.2l-8.2 8.2M1124.8 586.4l8.2 8.2m0 -8.2l-8.2 8.2M1126.6 586.4l8.2 8.2m0 -8.2l-8.2 8.2M1128.4 587.4l8.2 8.2m0 -8.2l-8.2 8.2M1130.2 588.9l8.2 8.2m0 -8.2l-8.2 8.2M1132 589.3l8.2 8.2m0 -8.2l-8.2 8.2M1133.8 589.5l8.2 8.2m0 -8.2l-8.2 8.2M1135.6 590.7l8.2 8.2m0 -8.2l-8.2 8.2M1137.4 588.3l8.2 8.2m0 -8.2l-8.2 8.2M1139.2 592l8.2 8.2m0 -8.2l-8.2 8.2M1141 590l8.2 8.2m0 -8.2l-8.2 8.2M1142.8 591.4l8.2 8.2m0 -8.2l-8.2 8.2M1144.6 592.1l8.2 8.2m0 -8.2l-8.2 8.2M1146.4 591.6l8.2 8.2m0 -8.2l-8.2 8.2M1148.2 591.7l8.2 8.2m0 -8.2l-8.2 8.2M1150 592.6l8.2 8.2m0 -8.2l-8.2 8.2M1151.8 594.3l8.2 8.2m0 -8.2l-8.2 8.2M1153.6 595.4l8.2 8.2m0 -8.2l-8.2 8.2M1155.4 595.7l8.2 8.2m0 -8.2l-8.2 8.2M1157.2 594.1l8.2 8.2m0 -8.2l-8.2 8.2M1159 594.7l8.2 8.2m0 -8.2l-8.2 8.2M1160.8 594.9l8.2 8.2m0 -8.2l-8.2 8.2M1162.6 596.9l8.2 8.2m0 -8.2l-8.2 8.2M1164.4 594.1l8.2 8.2m0 -8.2l-8.2 8.2M1166.2 598.4l8.2 8.2m0 -8.2l-8.2 8.2M1168 596.4l8.2 8.2m0 -8.2l-8.2 8.2M1169.8 596.2l8.2 8.2m0 -8.2l-8.2 8.2M1171.6 597.8l8.2 8.2m0 -8.2l-8.2 8.2M1173.4 598.7l8.2 8.2m0 -8.2l-8.2 8.2M1175.2 597.9l8.2 8.2m0 -8.2l-8.2 8.2M1177 598.8l8.2 8.2m0 -8.2l-8.2 8.2M1178.8 597.7l8.2 8.2m0 -8.2l-8.2 8.2M1180.6 599l8.2 8.2m0 -8.2l-8.2 8.2M1182.4 599.1l8.2 8.2m0 -8.2l-8.2 8.2M1184.2 597.4l8.2 8.2m0 -8.2l-8.2 8.2M1186 599.3l8.2 8.2m0 -8.2l-8.2 8.2M1187.8 597.7l8.2 8.2m0 -8.2l-8.2 8.2M1189.6 597.6l8.2 8.2m0 -8.2l-8.2 8.2M1191.4 596.3l8.2 8.2m0 -8.2l-8.2 8.2M1193.2 597.1l8.2 8.2m0 -8.2l-8.2 8.2M1195 598.4l8.2 8.2m0 -8.2l-8.2 8.2M1196.8 595.6l8.2 8.2m0 -8.2l-8.2 8.2M1198.6 597.9l8.2 8.2m0 -8.2l-8.2 8.2M1200.4 597.3l8.2 8.2m0 -8.2l-8.2 8.2M1202.2 596.9l8.2 8.2m0 -8.2l-8.2 8.2M1204 593.5l8.2 8.2m0 -8.2l-8.2 8.2M1205.8 595.8l8.2 8.2m0 -8.2l-8.2 8.2M1207.6 596.4l8.2 8.2m0 -8.2l-8.2 8.2M1209.4 594.3l8.2 8.2m0 -8.2l-8.2 8.2M1211.2 595l8.2 8.2m0 -8.2l-8.2 8.2M1213 591.5l8.2 8.2m0 -8.2l-8.2 8.2M1214.8 595l8.2 8.2m0 -8.2l-8.2 8.2M1216.6 593l8.2 8.2m0 -8.2l-8.2 8.2M1218.4 594.6l8.2 8.2m0 -8.2l-8.2 8.2M1220.2 590.9l8.2 8.2m0 -8.2l-8.2 8.2M1222 593.8l8.2 8.2m0 -8.2l-8.2 8.2M1223.8 592.4l8.2 8.2m0 -8.2l-8.2 8.2M1225.6 593.4l8.2 8.2m0 -8.2l-8.2 8.2M1227.4 591l8.2 8.2m0 -8.2l-8.2 8.2M1229.2 591.1l8.2 8.2m0 -8.2l-8.2 8.2M1231 594.5l8.2 8.2m0 -8.2l-8.2 8.2M1232.8 590.4l8.2 8.2m0 -8.2l-8.2 8.2M1234.6 590.3l8.2 8.2m0 -8.2l-8.2 8.2M1236.4 590.6l8.2 8.2m0 -8.2l-8.2 8.2M1238.2 589.4l8.2 8.2m0 -8.2l-8.2 8.2M1240 592l8.2 8.2m0 -8.2l-8.2 8.2M1241.8 592.4l8.2 8.2m0 -8.2l-8.2 8.2M1243.6 589.1l8.2 8.2m0 -8.2l-8.2 8.2M1245.4 587.6l8.2 8.2m0 -8.2l-8.2 8.2M1247.2 591l8.2 8.2m0 -8.2l-8.2 8.2M1249 590.6l8.2 8.2m0 -8.2l-8.2 8.2M1250.8 590l8.2 8.2m0 -8.2l-8.2 8.2M1252.6 590.2l8.2 8.2m0 -8.2l-8.2 8.2M1254.4 587.4l8.2 8.2m0 -8.2l-8.2 8.2M1256.2 587.9l8.2 8.2m0 -8.2l-8.2 8.2M1258 586.1l8.2 8.2m0 -8.2l-8.2 8.2M1259.8 585.8l8.2 8.2m0 -8.2l-8.2 8.2M1261.6 588.6l8.2 8.2m0 -8.2l-8.2 8.2M1263.4 586.2l8.2 8.2m0 -8.2l-8.2 8.2M1265.2 589.6l8.2 8.2m0 -8.2l-8.2 8.2M1267 586.5l8.2 8.2m0 -8.2l-8.2 8.2M1268.8 585.2l8.2 8.2m0 -8.2l-8.2 8.2M1270.6 586.5l8.2 8.2m0 -8.2l-8.2 8.2M1272.4 587.1l8.2 8.2m0 -8.2l-8.2 8.2M1274.2 584.5l8.2 8.2m0 -8.2l-8.2 8.2M1276 581.3l8.2 8.2m0 -8.2l-8.2 8.2M1277.8 582.1l8.2 8.2m0 -8.2l-8.2 8.2M1279.6 582l8.2 8.2m0 -8.2l-8.2 8.2M1281.4 578.2l8.2 8.2m0 -8.2l-8.2 8.2M1283.2 576.3l8.2 8.2m0 -8.2l-8.2 8.2M1285 576.9l8.2 8.2m0 -8.2l-8.2 8.2M1286.8 573.9l8.2 8.2m0 -8.2l-8.2 8.2M1288.6 570.1l8.2 8.2m0 -8.2l-8.2 8.2M1290.4 568.5l8.2 8.2m0 -8.2l-8.2 8.2M1292.2 565.3l8.2 8.2m0 -8.2l-8.2 8.2M1294 563.7l8.2 8.2m0 -8.2l-8.2 8.2M1295.8 560.5l8.2 8.2m0 -8.2l-8.2 8.2M1297.6 558.8l8.2 8.2m0 -8.2l-8.2 8.2M1299.4 555.1l8.2 8.2m0 -8.2l-8.2 8.2M1301.2 548.8l8.2 8.2m0 -8.2l-8.2 8.2M1303 547.6l8.2 8.2m0 -8.2l-8.2 8.2M1304.8 544.1l8.2 8.2m0 -8.2l-8.2 8.2M1306.6 539l8.2 8.2m0 -8.2l-8.2 8.2M1308.4 534.2l8.2 8.2m0 -8.2l-8.2 8.2M1310.2 526l8.2 8.2m0 -8.2l-8.2 8.2M1312 519.1l8.2 8.2m0 -8.2l-8.2 8.2M1313.8 515.3l8.2 8.2m0 -8.2l-8.2 8.2M1315.6 506.8l8.2 8.2m0 -8.2l-8.2 8.2M1317.4 499.4l8.2 8.2m0 -8.2l-8.2 8.2M1319.2 497.3l8.2 8.2m0 -8.2l-8.2 8.2M1321 489.1l8.2 8.2m0 -8.2l-8.2 8.2M1322.8 483.4l8.2 8.2m0 -8.2l-8.2 8.2M1324.6 475.9l8.2 8.2m0 -8.2l-8.2 8.2M1326.4 470.2l8.2 8.2m0 -8.2l-8.2 8.2M1328.2 465.2l8.2 8.2m0 -8.2l-8.2 8.2M1330 461.1l8.2 8.2m0 -8.2l-8.2 8.2M1331.8 457.1l8.2 8.2m0 -8.2l-8.2 8.2M1333.6 449.3l8.2 8.2m0 -8.2l-8.2 8.2M1335.4 449l8.2 8.2m0 -8.2l-8.2 8.2M1337.2 443l8.2 8.2m0 -8.2l-8.2 8.2M1339 440l8.2 8.2m0 -8.2l-8.2 8.2M1340.8 439.3l8.2 8.2m0 -8.2l-8.2 8.2M1342.6 435.8l8.2 8.2m0 -8.2l-8.2 8.2M1344.4 431.5l8.2 8.2m0 -8.2l-8.2 8.2M1346.2 433.3l8.2 8.2m0 -8.2l-8.2 8.2M1348 427.4l8.2 8.2m0 -8.2l-8.2 8.2M1349.8 426.4l8.2 8.2m0 -8.2l-8.2 8.2M1351.6 424l8.2 8.2m0 -8.2l-8.2 8.2M1353.4 423.4l8.2 8.2m0 -8.2l-8.2 8.2M1355.2 419l8.2 8.2m0 -8.2l-8.2 8.2M1357 419.1l8.2 8.2m0 -8.2l-8.2 8.2M1358.8 415.1l8.2 8.2m0 -8.2l-8.2 8.2M1360.6 415.8l8.2 8.2m0 -8.2l-8.2 8.2M1362.4 411.8l8.2 8.2m0 -8.2l-8.2 8.2M1364.2 410.9l8.2 8.2m0 -8.2l-8.2 8.2M1366 412.6l8.2 8.2m0 -8.2l-8.2 8.2M1367.8 409.7l8.2 8.2m0 -8.2l-8.2 8.2M1369.6 408.8l8.2 8.2m0 -8.2l-8.2 8.2M1371.4 410.8l8.2 8.2m0 -8.2l-8.2 8.2M1373.2 407.9l8.2 8.2m0 -8.2l-8.2 8.2M1375 405.9l8.2 8.2m0 -8.2l-8.2 8.2M1376.8 407.3l8.2 8.2m0 -8.2l-8.2 8.2M1378.6 404.4l8.2 8.2m0 -8.2l-8.2 8.2M1380.4 407l8.2 8.2m0 -8.2l-8.2 8.2M1382.2 406.8l8.2 8.2m0 -8.2l-8.2 8.2M1384 404.3l8.2 8.2m0 -8.2l-8.2 8.2M1385.8 404.1l8.2 8.2m0 -8.2l-8.2 8.2M1389.1 402.8l8.2 8.2m0 -8.2l-8.2 8.2M1391.3 405.9l8.2 8.2m0 -8.2l-8.2 8.2M1393.5 399.9l8.2 8.2m0 -8.2l-8.2 8.2M1395.7 408.8l8.2 8.2m0 -8.2l-8.2 8.2M1397.9 401.5l8.2 8.2m0 -8.2l-8.2 8.2M1400.1 405.8l8.2 8.2m0 -8.2l-8.2 8.2M1402.3 401.5l8.2 8.2m0 -8.2l-8.2 8.2M1404.5 400.9l8.2 8.2m0 -8.2l-8.2 8.2M1406.7 410l8.2 8.2m0 -8.2l-8.2 8.2M1408.9 400.7l8.2 8.2m0 -8.2l-8.2 8.2M1411.1 396.8l8.2 8.2m0 -8.2l-8.2 8.2M1413.3 399l8.2 8.2m0 -8.2l-8.2 8.2M1415.5 400.6l8.2 8.2m0 -8.2l-8.2 8.2M1417.7 410.5l8.2 8.2m0 -8.2l-8.2 8.2M1419.9 402.7l8.2 8.2m0 -8.2l-8.2 8.2M1422.1 405.6l8.2 8.2m0 -8.2l-8.2 8.2M1424.3 397.9l8.2 8.2m0 -8.2l-8.2 8.2M1426.5 403.3l8.2 8.2m0 -8.2l-8.2 8.2M1428.7 404.6l8.2 8.2m0 -8.2l-8.2 8.2M1430.9 409.1l8.2 8.2m0 -8.2l-8.2 8.2M1433.1 399.1l8.2 8.2m0 -8.2l-8.2 8.2M1435.3 404.3l8.2 8.2m0 -8.2l-8.2 8.2M1437.5 403.1l8.2 8.2m0 -8.2l-8.2 8.2M1439.7 397.8l8.2 8.2m0 -8.2l-8.2 8.2M1441.9 401.8l8.2 8.2m0 -8.2l-8.2 8.2M1444.1 400.8l8.2 8.2m0 -8.2l-8.2 8.2M1446.3 392.6l8.2 8.2m0 -8.2l-8.2 8.2M1448.5 404.3l8.2 8.2m0 -8.2l-8.2 8.2M1450.7 404.1l8.2 8.2m0 -8.2l-8.2 8.2M1452.9 400.1l8.2 8.2m0 -8.2l-8.2 8.2M1455.1 396.5l8.2 8.2m0 -8.2l-8.2 8.2M1457.3 407.8l8.2 8.2m0 -8.2l-8.2 8.2M1459.5 403l8.2 8.2m0 -8.2l-8.2 8.2M1461.7 406l8.2 8.2m0 -8.2l-8.2 8.2M1463.9 407.5l8.2 8.2m0 -8.2l-8.2 8.2M1466.1 399.8l8.2 8.2m0 -8.2l-8.2 8.2M1468.3 405.1l8.2 8.2m0 -8.2l-8.2 8.2M1470.5 400.9l8.2 8.2m0 -8.2l-8.2 8.2M1472.7 401.6l8.2 8.2m0 -8.2l-8.2 8.2M1474.9 401.6l8.2 8.2m0 -8.2l-8.2 8.2M1477.1 401.9l8.2 8.2m0 -8.2l-8.2 8.2M1479.3 406.4l8.2 8.2m0 -8.2l-8.2 8.2M1481.5 402.4l8.2 8.2m0 -8.2l-8.2 8.2M1483.7 401.3l8.2 8.2m0 -8.2l-8.2 8.2M1485.9 400.8l8.2 8.2m0 -8.2l-8.2 8.2M1488.1 403.3l8.2 8.2m0 -8.2l-8.2 8.2M1490.3 398.3l8.2 8.2m0 -8.2l-8.2 8.2M1492.5 399.9l8.2 8.2m0 -8.2l-8.2 8.2M1494.7 401.7l8.2 8.2m0 -8.2l-8.2 8.2M1496.9 399.6l8.2 8.2m0 -8.2l-8.2 8.2M1499.1 401.4l8.2 8.2m0 -8.2l-8.2 8.2M1501.3 399.5l8.2 8.2m0 -8.2l-8.2 8.2M1503.5 409.9l8.2 8.2m0 -8.2l-8.2 8.2M1505.7 407.2l8.2 8.2m0 -8.2l-8.2 8.2M1507.9 403.7l8.2 8.2m0 -8.2l-8.2 8.2M1510.1 401.7l8.2 8.2m0 -8.2l-8.2 8.2M1512.3 410.7l8.2 8.2m0 -8.2l-8.2 8.2M1514.5 403.2l8.2 8.2m0 -8.2l-8.2 8.2M1516.7 401.6l8.2 8.2m0 -8.2l-8.2 8.2M1518.9 403.1l8.2 8.2m0 -8.2l-8.2 8.2M1521.1 403.1l8.2 8.2m0 -8.2l-8.2 8.2M1523.3 407.5l8.2 8.2m0 -8.2l-8.2 8.2M1525.5 401.8l8.2 8.2m0 -8.2l-8.2 8.2M1527.7 410.3l8.2 8.2m0 -8.2l-8.2 8.2M1529.9 398.4l8.2 8.2m0 -8.2l-8.2 8.2M1532.1 404.7l8.2 8.2m0 -8.2l-8.2 8.2M1534.3 397.9l8.2 8.2m0 -8.2l-8.2 8.2M1536.5 409.2l8.2 8.2m0 -8.2l-8.2 8.2M1538.7 400.6l8.2 8.2m0 -8.2l-8.2 8.2M1540.9 401.7l8.2 8.2m0 -8.2l-8.2 8.2M1543.1 405.6l8.2 8.2m0 -8.2l-8.2 8.2M1545.3 406.9l8.2 8.2m0 -8.2l-8.2 8.2M1547.5 397.5l8.2 8.2m0 -8.2l-8.2 8.2M1549.7 400.5l8.2 8.2m0 -8.2l-8.2 8.2M1551.9 396.3l8.2 8.2m0 -8.2l-8.2 8.2M1554.1 402.4l8.2 8.2m0 -8.2l-8.2 8.2M1556.3 401.5l8.2 8.2m0 -8.2l-8.2 8.2M1558.5 400.5l8.2 8.2m0 -8.2l-8.2 8.2M1560.7 399.2l8.2 8.2m0 -8.2l-8.2 8.2M1562.9 400.4l8.2 8.2m0 -8.2l-8.2 8.2M1565.1 398.9l8.2 8.2m0 -8.2l-8.2 8.2M1567.3 404l8.2 8.2m0 -8.2l-8.2 8.2M1569.5 408l8.2 8.2m0 -8.2l-8.2 8.2M1571.7 394.2l8.2 8.2m0 -8.2l-8.2 8.2M1573.9 401.4l8.2 8.2m0 -8.2l-8.2 8.2M1576.1 400.2l8.2 8.2m0 -8.2l-8.2 8.2M1578.3 403.9l8.2 8.2m0 -8.2l-8.2 8.2M1580.5 398.1l8.2 8.2m0 -8.2l-8.2 8.2M1582.7 401.3l8.2 8.2m0 -8.2l-8.2 8.2M1584.9 397.7l8.2 8.2m0 -8.2l-8.2 8.2M1587.1 404.7l8.2 8.2m0 -8.2l-8.2 8.2M1589.3 402.3l8.2 8.2m0 -8.2l-8.2 8.2M1591.5 401.3l8.2 8.2m0 -8.2l-8.2 8.2M1593.7 403.4l8.2 8.2m0 -8.2l-8.2 8.2M1595.9 400.9l8.2 8.2m0 -8.2l-8.2 8.2M1598.1 395.7l8.2 8.2m0 -8.2l-8.2 8.2M1600.3 404.3l8.2 8.2m0 -8.2l-8.2 8.2M1602.5 403.1l8.2 8.2m0 -8.2l-8.2 8.2M1604.7 401.3l8.2 8.2m0 -8.2l-8.2 8.2M1606.9 405.8l8.2 8.2m0 -8.2l-8.2 8.2M1609.1 406.8l8.2 8.2m0 -8.2l-8.2 8.2M1611.3 397.5l8.2 8.2m0 -8.2l-8.2 8.2M1613.5 398.8l8.2 8.2m0 -8.2l-8.2 8.2M1457.9 386.9l8.2 8.2m0 -8.2l-8.2 8.2M1466.9 386.4l8.2 8.2m0 -8.2l-8.2 8.2M1489.4 381.9l8.2 8.2m0 -8.2l-8.2 8.2M1493.9 386.9l8.2 8.2m0 -8.2l-8.2 8.2M1522.9 384.4l8.2 8.2m0 -8.2l-8.2 8.2M1564.9 385.4l8.2 8.2m0 -8.2l-8.2 8.2M1570.9 386.9l8.2 8.2m0 -8.2l-8.2 8.2M1587.9 384.9l8.2 8.2m0 -8.2l-8.2 8.2M1595.9 379.9l8.2 8.2m0 -8.2l-8.2 8.2M1601.4 377.1l8.2 8.2m0 -8.2l-8.2 8.2M1606.9 381.9l8.2 8.2m0 -8.2l-8.2 8.2M928.4 911.4l8.2 8.2m0 -8.2l-8.2 8.2"/>
<path stroke="#00008b" stroke-width="11" stroke-linecap="square" d="M428.7 422.5h0M424.4 449.6h0M430.2 482.4h0M434.1 519.8h0M439.2 512h0M439 551.3h0M439.2 566.1h0M443.1 594.5h0M445.7 617.6h0M448.9 630.5h0M452.1 653.5h0M454.7 839.1h0M457.9 890.8h0M456.2 886h0M459.8 892.5h0M458.8 878.4h0M460.7 868.3h0M461.4 858.3h0M463.6 847.4h0M468 839.2h0M468.6 832.1h0M471.5 821.9h0M472.4 812.1h0M476.2 804h0M474.6 793h0M478.6 783.8h0M481.7 775.4h0M480.7 764h0M481.6 754.3h0M485.1 748.5h0M486.8 735.4h0M487.7 731.2h0M488.8 723.1h0M491.7 717.2h0M493.7 709.1h0M496.6 704.4h0M496.9 699.2h0M498.4 697.9h0M499.2 693.3h0M503.8 689.1h0M505 684.3h0M508.1 683.1h0M508.6 676.1h0M508.8 676h0M514 672.1h0M515.2 668.2h0M515.3 666.3h0M517.8 661.9h0M520.2 662.9h0M519.5 657.1h0M523.1 655.3h0M521.7 654.1h0M526.5 649.2h0M530.6 646.4h0M529 642.8h0M530.5 638.6h0M534 636.2h0M534.8 637.1h0M538.1 634.6h0M539.5 633h0M540.7 636.2h0M542.5 630.3h0M544.3 635.5h0M546.1 625.2h0M547.9 626.2h0M549.7 621.2h0M551.5 623.2h0M553.3 624.6h0M555.1 626.2h0M556.9 617.8h0M558.7 618.7h0M560.5 616.4h0M562.3 612.5h0M564.1 609.5h0M565.9 614.1h0M567.7 609.7h0M569.5 618.3h0M571.3 616.5h0M573.1 609.6h0M574.9 613.8h0M576.7 607h0M578.5 613.3h0M580.3 616.2h0M582.1 611.2h0M583.9 616.1h0M585.7 601.6h0M587.5 608h0M589.3 606.8h0M591.1 609.4h0M592.9 606.6h0M594.7 608h0M596.5 606h0M598.3 602.4h0M600.1 600.5h0M601.9 607.9h0M603.7 601.9h0M605.5 605.8h0M607.3 604.9h0M609.1 602h0M610.9 598.5h0M612.7 604.2h0M614.5 607.6h0M616.3 594.6h0M618.1 599.3h0M619.9 612.5h0M621.7 604.7h0M623.5 605.7h0M625.3 608.9h0M627.1 609.9h0M628.9 605.7h0M630.7 607.1h0M632.5 602.5h0M634.3 604.7h0M636.1 600.7h0M637.9 607h0M639.7 606.8h0M641.5 607.2h0M643.3 607.8h0M645.1 600h0M646.9 605.7h0M648.7 603.6h0M650.5 605.6h0M652.3 608.5h0M654.1 611.6h0M655.9 606h0M657.7 604.2h0M659.5 605h0M661.3 606.1h0M663.1 605.8h0M664.9 607.1h0M666.7 608.6h0M668.5 601.1h0M670.3 600.8h0M672.1 603.8h0M673.9 599.2h0M675.7 610.8h0M677.5 605.1h0M679.3 609h0M681.1 602.4h0M682.9 601.5h0M684.7 614.6h0M686.5 609.3h0M688.3 602.6h0M690.1 605.7h0M691.9 613h0M693.7 608.1h0M695.5 605.2h0M697.3 610.3h0M699.1 609.1h0M700.9 601.3h0M702.7 615.9h0M704.5 612h0M706.3 608.6h0M708.1 607.4h0M709.9 607h0M711.7 603.6h0M713.5 610.5h0M715.3 608h0M717.1 606.6h0M718.9 608h0M720.7 617.7h0M722.5 608.6h0M724.3 614.6h0M726.1 616h0M727.9 611.6h0M729.7 613.9h0M731.5 608.1h0M733.3 610.5h0M735.1 612.1h0M736.9 608.7h0M738.7 608.9h0M740.5 618.6h0M742.3 616.1h0M744.1 612.1h0M745.9 608.8h0M747.7 612.8h0M749.5 609h0M751.3 611.7h0M753.1 612.6h0M754.9 613.1h0M756.7 610.5h0M758.5 615.2h0M760.3 617h0M762.1 611.5h0M763.9 613.4h0M765.7 611.1h0M767.5 613.4h0M769.3 617.1h0M771.1 610.8h0M772.9 610.2h0M774.7 611.9h0M776.5 611.3h0M778.3 613.1h0M780.1 612.6h0M781.9 600.3h0M783.7 606.1h0M785.5 616h0M787.3 610.9h0M789.1 611.7h0M790.9 610.1h0M792.7 615.9h0M794.5 615.1h0M796.3 607.1h0M798.1 613.4h0M799.9 612.6h0M801.7 609.2h0M803.5 610.8h0M805.3 616.5h0M807.1 613.5h0M808.9 619.5h0M810.7 613.5h0M812.5 607.1h0M814.3 608.2h0M816.1 611.2h0M817.9 607.4h0M819.7 607.5h0M821.5 616.3h0M823.3 615.5h0M825.1 610h0M826.9 611.8h0M828.7 612.7h0M830.5 615.5h0M832.3 614.4h0M834.1 618.8h0M835.9 612.7h0M837.7 619.8h0M839.5 617.2h0M841.3 615.5h0M843.1 615.4h0M844.9 617.1h0M846.7 618.4h0M848.5 614.8h0M850.3 614.5h0M852.1 615.2h0M853.9 615h0M855.7 619.4h0M857.5 618.8h0M859.3 611.3h0M861.1 615.2h0M862.9 613.1h0M864.7 616.4h0M866.5 616h0M868.3 615.1h0M870.1 619.6h0M871.9 616.3h0M873.7 618.6h0M875.5 617.3h0M877.3 620.3h0M879.1 620.3h0M880.9 617.6h0M882.7 620h0M884.5 619.3h0M886.3 623.6h0M888.1 616.6h0M889.9 619.8h0M891.7 619.2h0M893.5 618.8h0M895.3 626.1h0M897.1 620.6h0M898.9 623.1h0M900.7 623.4h0M902.5 620.7h0M904.3 620.9h0M906.1 617.4h0M907.9 617.8h0M909.7 620.2h0M911.5 614.5h0M913.3 617.8h0M915.1 625.3h0M916.9 615.7h0M918.7 621h0M920.5 622.4h0M922.3 617.2h0M924.1 616.5h0M925.9 614h0M927.7 620.6h0M929.5 618.4h0M931.3 619.8h0M933.1 615.9h0M934.9 618.6h0M936.7 621.6h0M938.5 618.7h0M940.3 621h0M942.1 622.5h0M943.9 614.4h0M945.7 620.7h0M947.5 622.2h0M949.3 622.1h0M951.1 623.5h0M952.9 612.7h0M954.7 620.1h0M956.5 619.3h0M958.3 627.1h0M960.1 620.9h0M961.9 622.4h0M963.7 627.2h0M965.5 613.7h0M967.3 620.2h0M969.1 614.6h0M970.9 627.4h0M972.7 626.1h0M974.5 630.2h0M976.3 622.2h0M978.1 624.8h0M979.9 625.8h0M981.7 618.1h0M983.5 623.4h0M985.3 626.3h0M987.1 621.5h0M988.9 625h0M990.7 631.2h0M992.5 630h0M994.3 625.7h0M996.1 627h0M997.9 632.5h0M999.7 627.4h0M1001.5 630.1h0M1003.3 633h0M1005.1 637.3h0M1006.9 633.2h0M1008.7 635h0M1010.5 637.3h0M1012.3 636.3h0M1014.1 637.9h0M1015.9 644.6h0M1017.7 645.9h0M1019.5 642.8h0M1021.3 643.5h0M1023.1 644.3h0M1024.9 648.8h0M1026.7 644.6h0M1028.5 649.9h0M1030.3 650.3h0M1032.1 649.4h0M1033.9 653h0M1035.7 649.8h0M1037.5 653.4h0M1039.3 654.4h0M1041.1 651.6h0M1042.9 654.1h0M1044.7 652.8h0M1046.5 652.6h0M1048.3 660.7h0M1050.1 655.7h0M1051.9 661.3h0M1053.7 659.8h0M1055.5 666.3h0M1057.3 665.3h0M1059.1 661.5h0M1060.9 669h0M1062.7 667.7h0M1064.5 664.7h0M1066.3 669.6h0M1068.1 671.8h0M1069.9 671.3h0M1071.7 673.4h0M1073.5 669.5h0M1075.3 675.3h0M1077.1 682.5h0M1078.9 673.6h0M1080.7 674.7h0M1082.5 687.1h0M1084.3 681.8h0M1086.1 686.4h0M1087.9 685.4h0M1089.7 677.8h0M1091.5 688.2h0M1093.3 685.1h0M1095.1 683.2h0M1096.9 688.7h0M1098.7 688.8h0M1100.5 690.3h0M1102.3 685.8h0M1104.1 697.9h0M1105.9 691.3h0M1107.7 695.8h0M1109.5 688.2h0M1111.3 690.5h0M1113.1 697h0M1114.9 698.7h0M1116.7 694.6h0M1118.5 699.8h0M1120.3 696h0M1122.1 697h0M1123.9 697.2h0M1125.7 696.7h0M1127.5 696.1h0M1129.3 701.4h0M1131.1 705.2h0M1132.9 704.5h0M1134.7 710.3h0M1136.5 702.6h0M1138.3 705.1h0M1140.1 701.7h0M1141.9 705h0M1143.7 708.4h0M1145.5 706.7h0M1147.3 703.4h0M1149.1 703.3h0M1150.9 705.1h0M1152.7 703.8h0M1154.5 703.9h0M1156.3 708.8h0M1158.1 704.4h0M1159.9 706.4h0M1161.7 710.8h0M1163.5 704.1h0M1165.3 712.3h0M1167.1 707.6h0M1168.9 706.9h0M1170.7 710.7h0M1172.5 710.5h0M1174.3 711.5h0M1176.1 717.3h0M1177.9 713.1h0M1179.7 708h0M1181.5 711.5h0M1183.3 714.3h0M1185.1 713.8h0M1186.9 709.8h0M1188.7 711.4h0M1190.5 710.9h0M1192.3 709h0M1194.1 712.8h0M1195.9 710.9h0M1197.7 712.3h0M1199.5 712.8h0M1201.3 709.8h0M1203.1 715.8h0M1204.9 707.7h0M1206.7 709.8h0M1208.5 707.6h0M1210.3 707.5h0M1212.1 710.6h0M1213.9 702h0M1215.7 707h0M1217.5 700.4h0M1219.3 704.7h0M1221.1 698.2h0M1222.9 700.6h0M1224.7 698.3h0M1226.5 698.3h0M1228.3 701.9h0M1230.1 701.5h0M1231.9 697.2h0M1233.7 694.4h0M1235.5 698.5h0M1237.3 691.1h0M1239.1 689.2h0M1240.9 692.7h0M1242.7 691.8h0M1244.5 692h0M1246.3 690.4h0M1248.1 698.6h0M1249.9 686.1h0M1251.7 686.4h0M1253.5 684.5h0M1255.3 688.8h0M1257.1 682.2h0M1258.9 679.8h0M1260.7 681.8h0M1262.5 679.2h0M1264.3 680.8h0M1266.1 671.9h0M1267.9 679.4h0M1269.7 676h0M1271.5 672.3h0M1273.3 669.6h0M1275.1 670.9h0M1276.9 666.5h0M1278.7 666.2h0M1280.5 668.1h0M1282.3 659.7h0M1284.1 660.1h0M1285.9 655.5h0M1287.7 648.7h0M1289.5 651.8h0M1291.3 647h0M1293.1 638.3h0M1294.9 639.1h0M1296.7 640.7h0M1298.5 634.4h0M1300.3 630.3h0M1302.1 625.5h0M1303.9 620.8h0M1305.7 618.8h0M1307.5 615.2h0M1309.3 611h0M1311.1 603.4h0M1312.9 584.8h0M1314.7 570.5h0M1316.5 564.6h0M1318.3 548.1h0M1320.1 543h0M1321.9 542.3h0M1323.7 523.4h0M1325.5 523.9h0M1327.3 522.9h0M1329.1 510.8h0M1330.9 518.5h0M1332.7 498.1h0M1334.5 505.4h0M1336.3 501.2h0M1338.1 495.1h0M1339.9 487.7h0M1341.7 485.7h0M1343.5 478.1h0M1345.3 479.3h0M1347.1 469.4h0M1348.9 467.3h0M1350.7 465.6h0M1352.5 453.5h0M1354.3 450.5h0M1356.1 447.9h0M1357.9 439.8h0M1359.7 444.2h0M1361.5 438.7h0M1363.3 430.1h0M1365.1 431.5h0M1366.9 426.4h0M1368.7 424h0M1348 476.4h0M1350.2 465.7h0M1352.4 465.7h0M1354.6 455h0M1356.8 476.4h0M1359 444.3h0M1361.2 465.7h0M1363.4 476.4h0M1365.6 465.7h0M1367.8 444.3h0M1370 444.3h0M1372.2 422.9h0M1372.2 433.6h0M1374.4 422.9h0M1374.4 433.6h0M1376.6 422.9h0M1376.6 433.6h0M1378.8 422.9h0M1381 422.9h0M1381 433.6h0M1383.2 422.9h0M1383.2 444.3h0M1385.4 422.9h0M1385.4 444.3h0M1387.6 422.9h0M1387.6 433.6h0M1389.8 422.9h0M1389.8 433.6h0M1392 422.9h0M1394.2 422.9h0M1394.2 433.6h0M1396.4 422.9h0M1396.4 433.6h0M1398.6 422.9h0M1398.6 433.6h0M1400.8 422.9h0M1400.8 455h0M1403 422.9h0M1405.2 422.9h0M1405.2 433.6h0M1407.4 422.9h0M1407.4 433.6h0M1409.6 422.9h0M1409.6 444.3h0M1411.8 422.9h0M1411.8 444.3h0M1414 422.9h0M1416.2 422.9h0M1416.2 444.3h0M1418.4 422.9h0M1420.6 422.9h0M1420.6 433.6h0M1422.8 422.9h0M1422.8 455h0M1425 422.9h0M1425 433.6h0M1427.2 422.9h0M1427.2 433.6h0M1429.4 422.9h0M1431.6 422.9h0M1431.6 433.6h0M1433.8 422.9h0M1436 422.9h0M1438.2 422.9h0M1440.4 422.9h0M1440.4 444.3h0M1442.6 422.9h0M1442.6 433.6h0M1444.8 422.9h0M1444.8 433.6h0M1447 422.9h0M1449.2 422.9h0M1451.4 422.9h0M1451.4 433.6h0M1453.6 422.9h0M1455.8 422.9h0M1455.8 444.3h0M1458 422.9h0M1460.2 422.9h0M1462.4 422.9h0M1464.6 422.9h0M1466.8 422.9h0M1469 422.9h0M1471.2 422.9h0M1471.2 433.6h0M1473.4 422.9h0M1475.6 422.9h0M1477.8 422.9h0M1480 422.9h0M1482.2 422.9h0M1484.4 422.9h0M1486.6 422.9h0M1488.8 422.9h0M1491 422.9h0M1493.2 422.9h0M1495.4 422.9h0M1497.6 422.9h0M1499.8 422.9h0M1502 422.9h0M1504.2 422.9h0M1506.4 422.9h0M1508.6 422.9h0M1510.8 422.9h0M1513 422.9h0M1515.2 422.9h0M1517.4 422.9h0M1519.6 422.9h0M1521.8 422.9h0M1524 422.9h0M1526.2 422.9h0M1528.4 422.9h0M1530.6 422.9h0M1532.8 422.9h0M1535 422.9h0M1537.2 422.9h0M1539.4 422.9h0M1541.6 422.9h0M1543.8 422.9h0M1546 422.9h0M1548.2 422.9h0M1550.4 422.9h0M1552.6 422.9h0M1554.8 422.9h0M1557 422.9h0M1559.2 422.9h0M1561.4 422.9h0M1563.6 422.9h0M1565.8 422.9h0M1568 422.9h0M1570.2 422.9h0M1572.4 422.9h0M1574.6 422.9h0M1576.8 422.9h0M1579 422.9h0M1581.2 422.9h0M1583.4 422.9h0M1585.6 422.9h0M1587.8 422.9h0M1590 422.9h0M1592.2 422.9h0M1594.4 422.9h0M1596.6 422.9h0M1598.8 422.9h0M1601 422.9h0M1603.2 422.9h0M1605.4 422.9h0M1607.6 422.9h0M1609.8 422.9h0M1612 422.9h0M1491 444.3h0M1496 444.3h0M1504 444.3h0M1509 444.3h0M1553 433.6h0M1557.5 433.6h0M1577 433.6h0M1581 433.6h0M1585 444.3h0M1588 444.3h0M1592 433.6h0M1597 433.6h0M1586.4 433.6h0M932.5 971h0"/>
<path stroke="#00008b" stroke-width="4.5" stroke-linecap="round" d="M424.4 418.2l8.6 8.6m0 -8.6l-8.6 8.6M420.1 445.3l8.6 8.6m0 -8.6l-8.6 8.6M425.9 478.1l8.6 8.6m0 -8.6l-8.6 8.6M429.8 515.5l8.6 8.6m0 -8.6l-8.6 8.6M434.9 507.7l8.6 8.6m0 -8.6l-8.6 8.6M434.7 547l8.6 8.6m0 -8.6l-8.6 8.6M434.9 561.8l8.6 8.6m0 -8.6l-8.6 8.6M438.8 590.2l8.6 8.6m0 -8.6l-8.6 8.6M441.4 613.3l8.6 8.6m0 -8.6l-8.6 8.6M444.6 626.2l8.6 8.6m0 -8.6l-8.6 8.6M447.8 649.2l8.6 8.6m0 -8.6l-8.6 8.6M450.4 834.8l8.6 8.6m0 -8.6l-8.6 8.6M453.6 886.5l8.6 8.6m0 -8.6l-8.6 8.6M451.9 881.7l8.6 8.6m0 -8.6l-8.6 8.6M455.5 888.2l8.6 8.6m0 -8.6l-8.6 8.6M454.5 874.1l8.6 8.6m0 -8.6l-8.6 8.6M456.4 864l8.6 8.6m0 -8.6l-8.6 8.6M457.1 854l8.6 8.6m0 -8.6l-8.6 8.6M459.3 843.1l8.6 8.6m0 -8.6l-8.6 8.6M463.7 834.9l8.6 8.6m0 -8.6l-8.6 8.6M464.3 827.8l8.6 8.6m0 -8.6l-8.6 8.6M467.2 817.6l8.6 8.6m0 -8.6l-8.6 8.6M468.1 807.8l8.6 8.6m0 -8.6l-8.6 8.6M471.9 799.7l8.6 8.6m0 -8.6l-8.6 8.6M470.3 788.7l8.6 8.6m0 -8.6l-8.6 8.6M474.3 779.5l8.6 8.6m0 -8.6l-8.6 8.6M477.4 771.1l8.6 8.6m0 -8.6l-8.6 8.6M476.4 759.7l8.6 8.6m0 -8.6l-8.6 8.6M477.3 750l8.6 8.6m0 -8.6l-8.6 8.6M480.8 744.2l8.6 8.6m0 -8.6l-8.6 8.6M482.5 731.1l8.6 8.6m0 -8.6l-8.6 8.6M483.4 726.9l8.6 8.6m0 -8.6l-8.6 8.6M484.5 718.8l8.6 8.6m0 -8.6l-8.6 8.6M487.4 712.9l8.6 8.6m0 -8.6l-8.6 8.6M489.4 704.8l8.6 8.6m0 -8.6l-8.6 8.6M492.3 700.1l8.6 8.6m0 -8.6l-8.6 8.6M492.6 694.9l8.6 8.6m0 -8.6l-8.6 8.6M494.1 693.6l8.6 8.6m0 -8.6l-8.6 8.6M494.9 689l8.6 8.6m0 -8.6l-8.6 8.6M499.5 684.8l8.6 8.6m0 -8.6l-8.6 8.6M500.7 680l8.6 8.6m0 -8.6l-8.6 8.6M503.8 678.8l8.6 8.6m0 -8.6l-8.6 8.6M504.3 671.8l8.6 8.6m0 -8.6l-8.6 8.6M504.5 671.7l8.6 8.6m0 -8.6l-8.6 8.6M509.7 667.8l8.6 8.6m0 -8.6l-8.6 8.6M510.9 663.9l8.6 8.6m0 -8.6l-8.6 8.6M511 662l8.6 8.6m0 -8.6l-8.6 8.6M513.5 657.6l8.6 8.6m0 -8.6l-8.6 8.6M515.9 658.6l8.6 8.6m0 -8.6l-8.6 8.6M515.2 652.8l8.6 8.6m0 -8.6l-8.6 8.6M518.8 651l8.6 8.6m0 -8.6l-8.6 8.6M517.4 649.8l8.6 8.6m0 -8.6l-8.6 8.6M522.2 644.9l8.6 8.6m0 -8.6l-8.6 8.6M526.3 642.1l8.6 8.6m0 -8.6l-8.6 8.6M524.7 638.5l8.6 8.6m0 -8.6l-8.6 8.6M526.2 634.3l8.6 8.6m0 -8.6l-8.6 8.6M529.7 631.9l8.6 8.6m0 -8.6l-8.6 8.6M530.5 632.8l8.6 8.6m0 -8.6l-8.6 8.6M533.8 630.3l8.6 8.6m0 -8.6l-8.6 8.6M535.2 628.7l8.6 8.6m0 -8.6l-8.6 8.6M536.4 631.9l8.6 8.6m0 -8.6l-8.6 8.6M538.2 626l8.6 8.6m0 -8.6l-8.6 8.6M540 631.2l8.6 8.6m0 -8.6l-8.6 8.6M541.8 620.9l8.6 8.6m0 -8.6l-8.6 8.6M543.6 621.9l8.6 8.6m0 -8.6l-8.6 8.6M545.4 616.9l8.6 8.6m0 -8.6l-8.6 8.6M547.2 618.9l8.6 8.6m0 -8.6l-8.6 8.6M549 620.3l8.6 8.6m0 -8.6l-8.6 8.6M550.8 621.9l8.6 8.6m0 -8.6l-8.6 8.6M552.6 613.5l8.6 8.6m0 -8.6l-8.6 8.6M554.4 614.4l8.6 8.6m0 -8.6l-8.6 8.6M556.2 612.1l8.6 8.6m0 -8.6l-8.6 8.6M558 608.2l8.6 8.6m0 -8.6l-8.6 8.6M559.8 605.2l8.6 8.6m0 -8.6l-8.6 8.6M561.6 609.8l8.6 8.6m0 -8.6l-8.6 8.6M563.4 605.4l8.6 8.6m0 -8.6l-8.6 8.6M565.2 614l8.6 8.6m0 -8.6l-8.6 8.6M567 612.2l8.6 8.6m0 -8.6l-8.6 8.6M568.8 605.3l8.6 8.6m0 -8.6l-8.6 8.6M570.6 609.5l8.6 8.6m0 -8.6l-8.6 8.6M572.4 602.7l8.6 8.6m0 -8.6l-8.6 8.6M574.2 609l8.6 8.6m0 -8.6l-8.6 8.6M576 611.9l8.6 8.6m0 -8.6l-8.6 8.6M577.8 606.9l8.6 8.6m0 -8.6l-8.6 8.6M579.6 611.8l8.6 8.6m0 -8.6l-8.6 8.6M581.4 597.3l8.6 8.6m0 -8.6l-8.6 8.6M583.2 603.7l8.6 8.6m0 -8.6l-8.6 8.6M585 602.5l8.6 8.6m0 -8.6l-8.6 8.6M586.8 605.1l8.6 8.6m0 -8.6l-8.6 8.6M588.6 602.3l8.6 8.6m0 -8.6l-8.6 8.6M590.4 603.7l8.6 8.6m0 -8.6l-8.6 8.6M592.2 601.7l8.6 8.6m0 -8.6l-8.6 8.6M594 598.1l8.6 8.6m0 -8.6l-8.6 8.6M595.8 596.2l8.6 8.6m0 -8.6l-8.6 8.6M597.6 603.6l8.6 8.6m0 -8.6l-8.6 8.6M599.4 597.6l8.6 8.6m0 -8.6l-8.6 8.6M601.2 601.5l8.6 8.6m0 -8.6l-8.6 8.6M603 600.6l8.6 8.6m0 -8.6l-8.6 8.6M604.8 597.7l8.6 8.6m0 -8.6l-8.6 8.6M606.6 594.2l8.6 8.6m0 -8.6l-8.6 8.6M608.4 599.9l8.6 8.6m0 -8.6l-8.6 8.6M610.2 603.3l8.6 8.6m0 -8.6l-8.6 8.6M612 590.3l8.6 8.6m0 -8.6l-8.6 8.6M613.8 595l8.6 8.6m0 -8.6l-8.6 8.6M615.6 608.2l8.6 8.6m0 -8.6l-8.6 8.6M617.4 600.4l8.6 8.6m0 -8.6l-8.6 8.6M619.2 601.4l8.6 8.6m0 -8.6l-8.6 8.6M621 604.6l8.6 8.6m0 -8.6l-8.6 8.6M622.8 605.6l8.6 8.6m0 -8.6l-8.6 8.6M624.6 601.4l8.6 8.6m0 -8.6l-8.6 8.6M626.4 602.8l8.6 8.6m0 -8.6l-8.6 8.6M628.2 598.2l8.6 8.6m0 -8.6l-8.6 8.6M630 600.4l8.6 8.6m0 -8.6l-8.6 8.6M631.8 596.4l8.6 8.6m0 -8.6l-8.6 8.6M633.6 602.7l8.6 8.6m0 -8.6l-8.6 8.6M635.4 602.5l8.6 8.6m0 -8.6l-8.6 8.6M637.2 602.9l8.6 8.6m0 -8.6l-8.6 8.6M639 603.5l8.6 8.6m0 -8.6l-8.6 8.6M640.8 595.7l8.6 8.6m0 -8.6l-8.6 8.6M642.6 601.4l8.6 8.6m0 -8.6l-8.6 8.6M644.4 599.3l8.6 8.6m0 -8.6l-8.6 8.6M646.2 601.3l8.6 8.6m0 -8.6l-8.6 8.6M648 604.2l8.6 8.6m0 -8.6l-8.6 8.6M649.8 607.3l8.6 8.6m0 -8.6l-8.6 8.6M651.6 601.7l8.6 8.6m0 -8.6l-8.6 8.6M653.4 599.9l8.6 8.6m0 -8.6l-8.6 8.6M655.2 600.7l8.6 8.6m0 -8.6l-8.6 8.6M657 601.8l8.6 8.6m0 -8.6l-8.6 8.6M658.8 601.5l8.6 8.6m0 -8.6l-8.6 8.6M660.6 602.8l8.6 8.6m0 -8.6l-8.6 8.6M662.4 604.3l8.6 8.6m0 -8.6l-8.6 8.6M664.2 596.8l8.6 8.6m0 -8.6l-8.6 8.6M666 596.5l8.6 8.6m0 -8.6l-8.6 8.6M667.8 599.5l8.6 8.6m0 -8.6l-8.6 8.6M669.6 594.9l8.6 8.6m0 -8.6l-8.6 8.6M671.4 606.5l8.6 8.6m0 -8.6l-8.6 8.6M673.2 600.8l8.6 8.6m0 -8.6l-8.6 8.6M675 604.7l8.6 8.6m0 -8.6l-8.6 8.6M676.8 598.1l8.6 8.6m0 -8.6l-8.6 8.6M678.6 597.2l8.6 8.6m0 -8.6l-8.6 8.6M680.4 610.3l8.6 8.6m0 -8.6l-8.6 8.6M682.2 605l8.6 8.6m0 -8.6l-8.6 8.6M684 598.3l8.6 8.6m0 -8.6l-8.6 8.6M685.8 601.4l8.6 8.6m0 -8.6l-8.6 8.6M687.6 608.7l8.6 8.6m0 -8.6l-8.6 8.6M689.4 603.8l8.6 8.6m0 -8.6l-8.6 8.6M691.2 600.9l8.6 8.6m0 -8.6l-8.6 8.6M693 606l8.6 8.6m0 -8.6l-8.6 8.6M694.8 604.8l8.6 8.6m0 -8.6l-8.6 8.6M696.6 597l8.6 8.6m0 -8.6l-8.6 8.6M698.4 611.6l8.6 8.6m0 -8.6l-8.6 8.6M700.2 607.7l8.6 8.6m0 -8.6l-8.6 8.6M702 604.3l8.6 8.6m0 -8.6l-8.6 8.6M703.8 603.1l8.6 8.6m0 -8.6l-8.6 8.6M705.6 602.7l8.6 8.6m0 -8.6l-8.6 8.6M707.4 599.3l8.6 8.6m0 -8.6l-8.6 8.6M709.2 606.2l8.6 8.6m0 -8.6l-8.6 8.6M711 603.7l8.6 8.6m0 -8.6l-8.6 8.6M712.8 602.3l8.6 8.6m0 -8.6l-8.6 8.6M714.6 603.7l8.6 8.6m0 -8.6l-8.6 8.6M716.4 613.4l8.6 8.6m0 -8.6l-8.6 8.6M718.2 604.3l8.6 8.6m0 -8.6l-8.6 8.6M720 610.3l8.6 8.6m0 -8.6l-8.6 8.6M721.8 611.7l8.6 8.6m0 -8.6l-8.6 8.6M723.6 607.3l8.6 8.6m0 -8.6l-8.6 8.6M725.4 609.6l8.6 8.6m0 -8.6l-8.6 8.6M727.2 603.8l8.6 8.6m0 -8.6l-8.6 8.6M729 606.2l8.6 8.6m0 -8.6l-8.6 8.6M730.8 607.8l8.6 8.6m0 -8.6l-8.6 8.6M732.6 604.4l8.6 8.6m0 -8.6l-8.6 8.6M734.4 604.6l8.6 8.6m0 -8.6l-8.6 8.6M736.2 614.3l8.6 8.6m0 -8.6l-8.6 8.6M738 611.8l8.6 8.6m0 -8.6l-8.6 8.6M739.8 607.8l8.6 8.6m0 -8.6l-8.6 8.6M741.6 604.5l8.6 8.6m0 -8.6l-8.6 8.6M743.4 608.5l8.6 8.6m0 -8.6l-8.6 8.6M745.2 604.7l8.6 8.6m0 -8.6l-8.6 8.6M747 607.4l8.6 8.6m0 -8.6l-8.6 8.6M748.8 608.3l8.6 8.6m0 -8.6l-8.6 8.6M750.6 608.8l8.6 8.6m0 -8.6l-8.6 8.6M752.4 606.2l8.6 8.6m0 -8.6l-8.6 8.6M754.2 610.9l8.6 8.6m0 -8.6l-8.6 8.6M756 612.7l8.6 8.6m0 -8.6l-8.6 8.6M757.8 607.2l8.6 8.6m0 -8.6l-8.6 8.6M759.6 609.1l8.6 8.6m0 -8.6l-8.6 8.6M761.4 606.8l8.6 8.6m0 -8.6l-8.6 8.6M763.2 609.1l8.6 8.6m0 -8.6l-8.6 8.6M765 612.8l8.6 8.6m0 -8.6l-8.6 8.6M766.8 606.5l8.6 8.6m0 -8.6l-8.6 8.6M768.6 605.9l8.6 8.6m0 -8.6l-8.6 8.6M770.4 607.6l8.6 8.6m0 -8.6l-8.6 8.6M772.2 607l8.6 8.6m0 -8.6l-8.6 8.6M774 608.8l8.6 8.6m0 -8.6l-8.6 8.6M775.8 608.3l8.6 8.6m0 -8.6l-8.6 8.6M777.6 596l8.6 8.6m0 -8.6l-8.6 8.6M779.4 601.8l8.6 8.6m0 -8.6l-8.6 8.6M781.2 611.7l8.6 8.6m0 -8.6l-8.6 8.6M783 606.6l8.6 8.6m0 -8.6l-8.6 8.6M784.8 607.4l8.6 8.6m0 -8.6l-8.6 8.6M786.6 605.8l8.6 8.6m0 -8.6l-8.6 8.6M788.4 611.6l8.6 8.6m0 -8.6l-8.6 8.6M790.2 610.8l8.6 8.6m0 -8.6l-8.6 8.6M792 602.8l8.6 8.6m0 -8.6l-8.6 8.6M793.8 609.1l8.6 8.6m0 -8.6l-8.6 8.6M795.6 608.3l8.6 8.6m0 -8.6l-8.6 8.6M797.4 604.9l8.6 8.6m0 -8.6l-8.6 8.6M799.2 606.5l8.6 8.6m0 -8.6l-8.6 8.6M801 612.2l8.6 8.6m0 -8.6l-8.6 8.6M802.8 609.2l8.6 8.6m0 -8.6l-8.6 8.6M804.6 615.2l8.6 8.6m0 -8.6l-8.6 8.6M806.4 609.2l8.6 8.6m0 -8.6l-8.6 8.6M808.2 602.8l8.6 8.6m0 -8.6l-8.6 8.6M810 603.9l8.6 8.6m0 -8.6l-8.6 8.6M811.8 606.9l8.6 8.6m0 -8.6l-8.6 8.6M813.6 603.1l8.6 8.6m0 -8.6l-8.6 8.6M815.4 603.2l8.6 8.6m0 -8.6l-8.6 8.6M817.2 612l8.6 8.6m0 -8.6l-8.6 8.6M819 611.2l8.6 8.6m0 -8.6l-8.6 8.6M820.8 605.7l8.6 8.6m0 -8.6l-8.6 8.6M822.6 607.5l8.6 8.6m0 -8.6l-8.6 8.6M824.4 608.4l8.6 8.6m0 -8.6l-8.6 8.6M826.2 611.2l8.6 8.6m0 -8.6l-8.6 8.6M828 610.1l8.6 8.6m0 -8.6l-8.6 8.6M829.8 614.5l8.6 8.6m0 -8.6l-8.6 8.6M831.6 608.4l8.6 8.6m0 -8.6l-8.6 8.6M833.4 615.5l8.6 8.6m0 -8.6l-8.6 8.6M835.2 612.9l8.6 8.6m0 -8.6l-8.6 8.6M837 611.2l8.6 8.6m0 -8.6l-8.6 8.6M838.8 611.1l8.6 8.6m0 -8.6l-8.6 8.6M840.6 612.8l8.6 8.6m0 -8.6l-8.6 8.6M842.4 614.1l8.6 8.6m0 -8.6l-8.6 8.6M844.2 610.5l8.6 8.6m0 -8.6l-8.6 8.6M846 610.2l8.6 8.6m0 -8.6l-8.6 8.6M847.8 610.9l8.6 8.6m0 -8.6l-8.6 8.6M849.6 610.7l8.6 8.6m0 -8.6l-8.6 8.6M851.4 615.1l8.6 8.6m0 -8.6l-8.6 8.6M853.2 614.5l8.6 8.6m0 -8.6l-8.6 8.6M855 607l8.6 8.6m0 -8.6l-8.6 8.6M856.8 610.9l8.6 8.6m0 -8.6l-8.6 8.6M858.6 608.8l8.6 8.6m0 -8.6l-8.6 8.6M860.4 612.1l8.6 8.6m0 -8.6l-8.6 8.6M862.2 611.7l8.6 8.6m0 -8.6l-8.6 8.6M864 610.8l8.6 8.6m0 -8.6l-8.6 8.6M865.8 615.3l8.6 8.6m0 -8.6l-8.6 8.6M867.6 612l8.6 8.6m0 -8.6l-8.6 8.6M869.4 614.3l8.6 8.6m0 -8.6l-8.6 8.6M871.2 613l8.6 8.6m0 -8.6l-8.6 8.6M873 616l8.6 8.6m0 -8.6l-8.6 8.6M874.8 616l8.6 8.6m0 -8.6l-8.6 8.6M876.6 613.3l8.6 8.6m0 -8.6l-8.6 8.6M878.4 615.7l8.6 8.6m0 -8.6l-8.6 8.6M880.2 615l8.6 8.6m0 -8.6l-8.6 8.6M882 619.3l8.6 8.6m0 -8.6l-8.6 8.6M883.8 612.3l8.6 8.6m0 -8.6l-8.6 8.6M885.6 615.5l8.6 8.6m0 -8.6l-8.6 8.6M887.4 614.9l8.6 8.6m0 -8.6l-8.6 8.6M889.2 614.5l8.6 8.6m0 -8.6l-8.6 8.6M891 621.8l8.6 8.6m0 -8.6l-8.6 8.6M892.8 616.3l8.6 8.6m0 -8.6l-8.6 8.6M894.6 618.8l8.6 8.6m0 -8.6l-8.6 8.6M896.4 619.1l8.6 8.6m0 -8.6l-8.6 8.6M898.2 616.4l8.6 8.6m0 -8.6l-8.6 8.6M900 616.6l8.6 8.6m0 -8.6l-8.6 8.6M901.8 613.1l8.6 8.6m0 -8.6l-8.6 8.6M903.6 613.5l8.6 8.6m0 -8.6l-8.6 8.6M905.4 615.9l8.6 8.6m0 -8.6l-8.6 8.6M907.2 610.2l8.6 8.6m0 -8.6l-8.6 8.6M909 613.5l8.6 8.6m0 -8.6l-8.6 8.6M910.8 621l8.6 8.6m0 -8.6l-8.6 8.6M912.6 611.4l8.6 8.6m0 -8.6l-8.6 8.6M914.4 616.7l8.6 8.6m0 -8.6l-8.6 8.6M916.2 618.1l8.6 8.6m0 -8.6l-8.6 8.6M918 612.9l8.6 8.6m0 -8.6l-8.6 8.6M919.8 612.2l8.6 8.6m0 -8.6l-8.6 8.6M921.6 609.7l8.6 8.6m0 -8.6l-8.6 8.6M923.4 616.3l8.6 8.6m0 -8.6l-8.6 8.6M925.2 614.1l8.6 8.6m0 -8.6l-8.6 8.6M927 615.5l8.6 8.6m0 -8.6l-8.6 8.6M928.8 611.6l8.6 8.6m0 -8.6l-8.6 8.6M930.6 614.3l8.6 8.6m0 -8.6l-8.6 8.6M932.4 617.3l8.6 8.6m0 -8.6l-8.6 8.6M934.2 614.4l8.6 8.6m0 -8.6l-8.6 8.6M936 616.7l8.6 8.6m0 -8.6l-8.6 8.6M937.8 618.2l8.6 8.6m0 -8.6l-8.6 8.6M939.6 610.1l8.6 8.6m0 -8.6l-8.6 8.6M941.4 616.4l8.6 8.6m0 -8.6l-8.6 8.6M943.2 617.9l8.6 8.6m0 -8.6l-8.6 8.6M945 617.8l8.6 8.6m0 -8.6l-8.6 8.6M946.8 619.2l8.6 8.6m0 -8.6l-8.6 8.6M948.6 608.4l8.6 8.6m0 -8.6l-8.6 8.6M950.4 615.8l8.6 8.6m0 -8.6l-8.6 8.6M952.2 615l8.6 8.6m0 -8.6l-8.6 8.6M954 622.8l8.6 8.6m0 -8.6l-8.6 8.6M955.8 616.6l8.6 8.6m0 -8.6l-8.6 8.6M957.6 618.1l8.6 8.6m0 -8.6l-8.6 8.6M959.4 622.9l8.6 8.6m0 -8.6l-8.6 8.6M961.2 609.4l8.6 8.6m0 -8.6l-8.6 8.6M963 615.9l8.6 8.6m0 -8.6l-8.6 8.6M964.8 610.3l8.6 8.6m0 -8.6l-8.6 8.6M966.6 623.1l8.6 8.6m0 -8.6l-8.6 8.6M968.4 621.8l8.6 8.6m0 -8.6l-8.6 8.6M970.2 625.9l8.6 8.6m0 -8.6l-8.6 8.6M972 617.9l8.6 8.6m0 -8.6l-8.6 8.6M973.8 620.5l8.6 8.6m0 -8.6l-8.6 8.6M975.6 621.5l8.6 8.6m0 -8.6l-8.6 8.6M977.4 613.8l8.6 8.6m0 -8.6l-8.6 8.6M979.2 619.1l8.6 8.6m0 -8.6l-8.6 8.6M981 622l8.6 8.6m0 -8.6l-8.6 8.6M982.8 617.2l8.6 8.6m0 -8.6l-8.6 8.6M984.6 620.7l8.6 8.6m0 -8.6l-8.6 8.6M986.4 626.9l8.6 8.6m0 -8.6l-8.6 8.6M988.2 625.7l8.6 8.6m0 -8.6l-8.6 8.6M990 621.4l8.6 8.6m0 -8.6l-8.6 8.6M991.8 622.7l8.6 8.6m0 -8.6l-8.6 8.6M993.6 628.2l8.6 8.6m0 -8.6l-8.6 8.6M995.4 623.1l8.6 8.6m0 -8.6l-8.6 8.6M997.2 625.8l8.6 8.6m0 -8.6l-8.6 8.6M999 628.7l8.6 8.6m0 -8.6l-8.6 8.6M1000.8 633l8.6 8.6m0 -8.6l-8.6 8.6M1002.6 628.9l8.6 8.6m0 -8.6l-8.6 8.6M1004.4 630.7l8.6 8.6m0 -8.6l-8.6 8.6M1006.2 633l8.6 8.6m0 -8.6l-8.6 8.6M1008 632l8.6 8.6m0 -8.6l-8.6 8.6M1009.8 633.6l8.6 8.6m0 -8.6l-8.6 8.6M1011.6 640.3l8.6 8.6m0 -8.6l-8.6 8.6M1013.4 641.6l8.6 8.6m0 -8.6l-8.6 8.6M1015.2 638.5l8.6 8.6m0 -8.6l-8.6 8.6M1017 639.2l8.6 8.6m0 -8.6l-8.6 8.6M1018.8 640l8.6 8.6m0 -8.6l-8.6 8.6M1020.6 644.5l8.6 8.6m0 -8.6l-8.6 8.6M1022.4 640.3l8.6 8.6m0 -8.6l-8.6 8.6M1024.2 645.6l8.6 8.6m0 -8.6l-8.6 8.6M1026 646l8.6 8.6m0 -8.6l-8.6 8.6M1027.8 645.1l8.6 8.6m0 -8.6l-8.6 8.6M1029.6 648.7l8.6 8.6m0 -8.6l-8.6 8.6M1031.4 645.5l8.6 8.6m0 -8.6l-8.6 8.6M1033.2 649.1l8.6 8.6m0 -8.6l-8.6 8.6M1035 650.1l8.6 8.6m0 -8.6l-8.6 8.6M1036.8 647.3l8.6 8.6m0 -8.6l-8.6 8.6M1038.6 649.8l8.6 8.6m0 -8.6l-8.6 8.6M1040.4 648.5l8.6 8.6m0 -8.6l-8.6 8.6M1042.2 648.3l8.6 8.6m0 -8.6l-8.6 8.6M1044 656.4l8.6 8.6m0 -8.6l-8.6 8.6M1045.8 651.4l8.6 8.6m0 -8.6l-8.6 8.6M1047.6 657l8.6 8.6m0 -8.6l-8.6 8.6M1049.4 655.5l8.6 8.6m0 -8.6l-8.6 8.6M1051.2 662l8.6 8.6m0 -8.6l-8.6 8.6M1053 661l8.6 8.6m0 -8.6l-8.6 8.6M1054.8 657.2l8.6 8.6m0 -8.6l-8.6 8.6M1056.6 664.7l8.6 8.6m0 -8.6l-8.6 8.6M1058.4 663.4l8.6 8.6m0 -8.6l-8.6 8.6M1060.2 660.4l8.6 8.6m0 -8.6l-8.6 8.6M1062 665.3l8.6 8.6m0 -8.6l-8.6 8.6M1063.8 667.5l8.6 8.6m0 -8.6l-8.6 8.6M1065.6 667l8.6 8.6m0 -8.6l-8.6 8.6M1067.4 669.1l8.6 8.6m0 -8.6l-8.6 8.6M1069.2 665.2l8.6 8.6m0 -8.6l-8.6 8.6M1071 671l8.6 8.6m0 -8.6l-8.6 8.6M1072.8 678.2l8.6 8.6m0 -8.6l-8.6 8.6M1074.6 669.3l8.6 8.6m0 -8.6l-8.6 8.6M1076.4 670.4l8.6 8.6m0 -8.6l-8.6 8.6M1078.2 682.8l8.6 8.6m0 -8.6l-8.6 8.6M1080 677.5l8.6 8.6m0 -8.6l-8.6 8.6M1081.8 682.1l8.6 8.6m0 -8.6l-8.6 8.6M1083.6 681.1l8.6 8.6m0 -8.6l-8.6 8.6M1085.4 673.5l8.6 8.6m0 -8.6l-8.6 8.6M1087.2 683.9l8.6 8.6m0 -8.6l-8.6 8.6M1089 680.8l8.6 8.6m0 -8.6l-8.6 8.6M1090.8 678.9l8.6 8.6m0 -8.6l-8.6 8.6M1092.6 684.4l8.6 8.6m0 -8.6l-8.6 8.6M1094.4 684.5l8.6 8.6m0 -8.6l-8.6 8.6M1096.2 686l8.6 8.6m0 -8.6l-8.6 8.6M1098 681.5l8.6 8.6m0 -8.6l-8.6 8.6M1099.8 693.6l8.6 8.6m0 -8.6l-8.6 8.6M1101.6 687l8.6 8.6m0 -8.6l-8.6 8.6M1103.4 691.5l8.6 8.6m0 -8.6l-8.6 8.6M1105.2 683.9l8.6 8.6m0 -8.6l-8.6 8.6M1107 686.2l8.6 8.6m0 -8.6l-8.6 8.6M1108.8 692.7l8.6 8.6m0 -8.6l-8.6 8.6M1110.6 694.4l8.6 8.6m0 -8.6l-8.6 8.6M1112.4 690.3l8.6 8.6m0 -8.6l-8.6 8.6M1114.2 695.5l8.6 8.6m0 -8.6l-8.6 8.6M1116 691.7l8.6 8.6m0 -8.6l-8.6 8.6M1117.8 692.7l8.6 8.6m0 -8.6l-8.6 8.6M1119.6 692.9l8.6 8.6m0 -8.6l-8.6 8.6M1121.4 692.4l8.6 8.6m0 -8.6l-8.6 8.6M1123.2 691.8l8.6 8.6m0 -8.6l-8.6 8.6M1125 697.1l8.6 8.6m0 -8.6l-8.6 8.6M1126.8 700.9l8.6 8.6m0 -8.6l-8.6 8.6M1128.6 700.2l8.6 8.6m0 -8.6l-8.6 8.6M1130.4 706l8.6 8.6m0 -8.6l-8.6 8.6M1132.2 698.3l8.6 8.6m0 -8.6l-8.6 8.6M1134 700.8l8.6 8.6m0 -8.6l-8.6 8.6M1135.8 697.4l8.6 8.6m0 -8.6l-8.6 8.6M1137.6 700.7l8.6 8.6m0 -8.6l-8.6 8.6M1139.4 704.1l8.6 8.6m0 -8.6l-8.6 8.6M1141.2 702.4l8.6 8.6m0 -8.6l-8.6 8.6M1143 699.1l8.6 8.6m0 -8.6l-8.6 8.6M1144.8 699l8.6 8.6m0 -8.6l-8.6 8.6M1146.6 700.8l8.6 8.6m0 -8.6l-8.6 8.6M1148.4 699.5l8.6 8.6m0 -8.6l-8.6 8.6M1150.2 699.6l8.6 8.6m0 -8.6l-8.6 8.6M1152 704.5l8.6 8.6m0 -8.6l-8.6 8.6M1153.8 700.1l8.6 8.6m0 -8.6l-8.6 8.6M1155.6 702.1l8.6 8.6m0 -8.6l-8.6 8.6M1157.4 706.5l8.6 8.6m0 -8.6l-8.6 8.6M1159.2 699.8l8.6 8.6m0 -8.6l-8.6 8.6M1161 708l8.6 8.6m0 -8.6l-8.6 8.6M1162.8 703.3l8.6 8.6m0 -8.6l-8.6 8.6M1164.6 702.6l8.6 8.6m0 -8.6l-8.6 8.6M1166.4 706.4l8.6 8.6m0 -8.6l-8.6 8.6M1168.2 706.2l8.6 8.6m0 -8.6l-8.6 8.6M1170 707.2l8.6 8.6m0 -8.6l-8.6 8.6M1171.8 713l8.6 8.6m0 -8.6l-8.6 8.6M1173.6 708.8l8.6 8.6m0 -8.6l-8.6 8.6M1175.4 703.7l8.6 8.6m0 -8.6l-8.6 8.6M1177.2 707.2l8.6 8.6m0 -8.6l-8.6 8.6M1179 710l8.6 8.6m0 -8.6l-8.6 8.6M1180.8 709.5l8.6 8.6m0 -8.6l-8.6 8.6M1182.6 705.5l8.6 8.6m0 -8.6l-8.6 8.6M1184.4 707.1l8.6 8.6m0 -8.6l-8.6 8.6M1186.2 706.6l8.6 8.6m0 -8.6l-8.6 8.6M1188 704.7l8.6 8.6m0 -8.6l-8.6 8.6M1189.8 708.5l8.6 8.6m0 -8.6l-8.6 8.6M1191.6 706.6l8.6 8.6m0 -8.6l-8.6 8.6M1193.4 708l8.6 8.6m0 -8.6l-8.6 8.6M1195.2 708.5l8.6 8.6m0 -8.6l-8.6 8.6M1197 705.5l8.6 8.6m0 -8.6l-8.6 8.6M1198.8 711.5l8.6 8.6m0 -8.6l-8.6 8.6M1200.6 703.4l8.6 8.6m0 -8.6l-8.6 8.6M1202.4 705.5l8.6 8.6m0 -8.6l-8.6 8.6M1204.2 703.3l8.6 8.6m0 -8.6l-8.6 8.6M1206 703.2l8.6 8.6m0 -8.6l-8.6 8.6M1207.8 706.3l8.6 8.6m0 -8.6l-8.6 8.6M1209.6 697.7l8.6 8.6m0 -8.6l-8.6 8.6M1211.4 702.7l8.6 8.6m0 -8.6l-8.6 8.6M1213.2 696.1l8.6 8.6m0 -8.6l-8.6 8.6M1215 700.4l8.6 8.6m0 -8.6l-8.6 8.6M1216.8 693.9l8.6 8.6m0 -8.6l-8.6 8.6M1218.6 696.3l8.6 8.6m0 -8.6l-8.6 8.6M1220.4 694l8.6 8.6m0 -8.6l-8.6 8.6M1222.2 694l8.6 8.6m0 -8.6l-8.6 8.6M1224 697.6l8.6 8.6m0 -8.6l-8.6 8.6M1225.8 697.2l8.6 8.6m0 -8.6l-8.6 8.6M1227.6 692.9l8.6 8.6m0 -8.6l-8.6 8.6M1229.4 690.1l8.6 8.6m0 -8.6l-8.6 8.6M1231.2 694.2l8.6 8.6m0 -8.6l-8.6 8.6M1233 686.8l8.6 8.6m0 -8.6l-8.6 8.6M1234.8 684.9l8.6 8.6m0 -8.6l-8.6 8.6M1236.6 688.4l8.6 8.6m0 -8.6l-8.6 8.6M1238.4 687.5l8.6 8.6m0 -8.6l-8.6 8.6M1240.2 687.7l8.6 8.6m0 -8.6l-8.6 8.6M1242 686.1l8.6 8.6m0 -8.6l-8.6 8.6M1243.8 694.3l8.6 8.6m0 -8.6l-8.6 8.6M1245.6 681.8l8.6 8.6m0 -8.6l-8.6 8.6M1247.4 682.1l8.6 8.6m0 -8.6l-8.6 8.6M1249.2 680.2l8.6 8.6m0 -8.6l-8.6 8.6M1251 684.5l8.6 8.6m0 -8.6l-8.6 8.6M1252.8 677.9l8.6 8.6m0 -8.6l-8.6 8.6M1254.6 675.5l8.6 8.6m0 -8.6l-8.6 8.6M1256.4 677.5l8.6 8.6m0 -8.6l-8.6 8.6M1258.2 674.9l8.6 8.6m0 -8.6l-8.6 8.6M1260 676.5l8.6 8.6m0 -8.6l-8.6 8.6M1261.8 667.6l8.6 8.6m0 -8.6l-8.6 8.6M1263.6 675.1l8.6 8.6m0 -8.6l-8.6 8.6M1265.4 671.7l8.6 8.6m0 -8.6l-8.6 8.6M1267.2 668l8.6 8.6m0 -8.6l-8.6 8.6M1269 665.3l8.6 8.6m0 -8.6l-8.6 8.6M1270.8 666.6l8.6 8.6m0 -8.6l-8.6 8.6M1272.6 662.2l8.6 8.6m0 -8.6l-8.6 8.6M1274.4 661.9l8.6 8.6m0 -8.6l-8.6 8.6M1276.2 663.8l8.6 8.6m0 -8.6l-8.6 8.6M1278 655.4l8.6 8.6m0 -8.6l-8.6 8.6M1279.8 655.8l8.6 8.6m0 -8.6l-8.6 8.6M1281.6 651.2l8.6 8.6m0 -8.6l-8.6 8.6M1283.4 644.4l8.6 8.6m0 -8.6l-8.6 8.6M1285.2 647.5l8.6 8.6m0 -8.6l-8.6 8.6M1287 642.7l8.6 8.6m0 -8.6l-8.6 8.6M1288.8 634l8.6 8.6m0 -8.6l-8.6 8.6M1290.6 634.8l8.6 8.6m0 -8.6l-8.6 8.6M1292.4 636.4l8.6 8.6m0 -8.6l-8.6 8.6M1294.2 630.1l8.6 8.6m0 -8.6l-8.6 8.6M1296 626l8.6 8.6m0 -8.6l-8.6 8.6M1297.8 621.2l8.6 8.6m0 -8.6l-8.6 8.6M1299.6 616.5l8.6 8.6m0 -8.6l-8.6 8.6M1301.4 614.5l8.6 8.6m0 -8.6l-8.6 8.6M1303.2 610.9l8.6 8.6m0 -8.6l-8.6 8.6M1305 606.7l8.6 8.6m0 -8.6l-8.6 8.6M1306.8 599.1l8.6 8.6m0 -8.6l-8.6 8.6M1308.6 580.5l8.6 8.6m0 -8.6l-8.6 8.6M1310.4 566.2l8.6 8.6m0 -8.6l-8.6 8.6M1312.2 560.3l8.6 8.6m0 -8.6l-8.6 8.6M1314 543.8l8.6 8.6m0 -8.6l-8.6 8.6M1315.8 538.7l8.6 8.6m0 -8.6l-8.6 8.6M1317.6 538l8.6 8.6m0 -8.6l-8.6 8.6M1319.4 519.1l8.6 8.6m0 -8.6l-8.6 8.6M1321.2 519.6l8.6 8.6m0 -8.6l-8.6 8.6M1323 518.6l8.6 8.6m0 -8.6l-8.6 8.6M1324.8 506.5l8.6 8.6m0 -8.6l-8.6 8.6M1326.6 514.2l8.6 8.6m0 -8.6l-8.6 8.6M1328.4 493.8l8.6 8.6m0 -8.6l-8.6 8.6M1330.2 501.1l8.6 8.6m0 -8.6l-8.6 8.6M1332 496.9l8.6 8.6m0 -8.6l-8.6 8.6M1333.8 490.8l8.6 8.6m0 -8.6l-8.6 8.6M1335.6 483.4l8.6 8.6m0 -8.6l-8.6 8.6M1337.4 481.4l8.6 8.6m0 -8.6l-8.6 8.6M1339.2 473.8l8.6 8.6m0 -8.6l-8.6 8.6M1341 475l8.6 8.6m0 -8.6l-8.6 8.6M1342.8 465.1l8.6 8.6m0 -8.6l-8.6 8.6M1344.6 463l8.6 8.6m0 -8.6l-8.6 8.6M1346.4 461.3l8.6 8.6m0 -8.6l-8.6 8.6M1348.2 449.2l8.6 8.6m0 -8.6l-8.6 8.6M1350 446.2l8.6 8.6m0 -8.6l-8.6 8.6M1351.8 443.6l8.6 8.6m0 -8.6l-8.6 8.6M1353.6 435.5l8.6 8.6m0 -8.6l-8.6 8.6M1355.4 439.9l8.6 8.6m0 -8.6l-8.6 8.6M1357.2 434.4l8.6 8.6m0 -8.6l-8.6 8.6M1359 425.8l8.6 8.6m0 -8.6l-8.6 8.6M1360.8 427.2l8.6 8.6m0 -8.6l-8.6 8.6M1362.6 422.1l8.6 8.6m0 -8.6l-8.6 8.6M1364.4 419.7l8.6 8.6m0 -8.6l-8.6 8.6M1343.7 472.1l8.6 8.6m0 -8.6l-8.6 8.6M1345.9 461.4l8.6 8.6m0 -8.6l-8.6 8.6M1348.1 461.4l8.6 8.6m0 -8.6l-8.6 8.6M1350.3 450.7l8.6 8.6m0 -8.6l-8.6 8.6M1352.5 472.1l8.6 8.6m0 -8.6l-8.6 8.6M1354.7 440l8.6 8.6m0 -8.6l-8.6 8.6M1356.9 461.4l8.6 8.6m0 -8.6l-8.6 8.6M1359.1 472.1l8.6 8.6m0 -8.6l-8.6 8.6M1361.3 461.4l8.6 8.6m0 -8.6l-8.6 8.6M1363.5 440l8.6 8.6m0 -8.6l-8.6 8.6M1365.7 440l8.6 8.6m0 -8.6l-8.6 8.6M1367.9 418.6l8.6 8.6m0 -8.6l-8.6 8.6M1367.9 429.3l8.6 8.6m0 -8.6l-8.6 8.6M1370.1 418.6l8.6 8.6m0 -8.6l-8.6 8.6M1370.1 429.3l8.6 8.6m0 -8.6l-8.6 8.6M1372.3 418.6l8.6 8.6m0 -8.6l-8.6 8.6M1372.3 429.3l8.6 8.6m0 -8.6l-8.6 8.6M1374.5 418.6l8.6 8.6m0 -8.6l-8.6 8.6M1376.7 418.6l8.6 8.6m0 -8.6l-8.6 8.6M1376.7 429.3l8.6 8.6m0 -8.6l-8.6 8.6M1378.9 418.6l8.6 8.6m0 -8.6l-8.6 8.6M1378.9 440l8.6 8.6m0 -8.6l-8.6 8.6M1381.1 418.6l8.6 8.6m0 -8.6l-8.6 8.6M1381.1 440l8.6 8.6m0 -8.6l-8.6 8.6M1383.3 418.6l8.6 8.6m0 -8.6l-8.6 8.6M1383.3 429.3l8.6 8.6m0 -8.6l-8.6 8.6M1385.5 418.6l8.6 8.6m0 -8.6l-8.6 8.6M1385.5 429.3l8.6 8.6m0 -8.6l-8.6 8.6M1387.7 418.6l8.6 8.6m0 -8.6l-8.6 8.6M1389.9 418.6l8.6 8.6m0 -8.6l-8.6 8.6M1389.9 429.3l8.6 8.6m0 -8.6l-8.6 8.6M1392.1 418.6l8.6 8.6m0 -8.6l-8.6 8.6M1392.1 429.3l8.6 8.6m0 -8.6l-8.6 8.6M1394.3 418.6l8.6 8.6m0 -8.6l-8.6 8.6M1394.3 429.3l8.6 8.6m0 -8.6l-8.6 8.6M1396.5 418.6l8.6 8.6m0 -8.6l-8.6 8.6M1396.5 450.7l8.6 8.6m0 -8.6l-8.6 8.6M1398.7 418.6l8.6 8.6m0 -8.6l-8.6 8.6M1400.9 418.6l8.6 8.6m0 -8.6l-8.6 8.6M1400.9 429.3l8.6 8.6m0 -8.6l-8.6 8.6M1403.1 418.6l8.6 8.6m0 -8.6l-8.6 8.6M1403.1 429.3l8.6 8.6m0 -8.6l-8.6 8.6M1405.3 418.6l8.6 8.6m0 -8.6l-8.6 8.6M1405.3 440l8.6 8.6m0 -8.6l-8.6 8.6M1407.5 418.6l8.6 8.6m0 -8.6l-8.6 8.6M1407.5 440l8.6 8.6m0 -8.6l-8.6 8.6M1409.7 418.6l8.6 8.6m0 -8.6l-8.6 8.6M1411.9 418.6l8.6 8.6m0 -8.6l-8.6 8.6M1411.9 440l8.6 8.6m0 -8.6l-8.6 8.6M1414.1 418.6l8.6 8.6m0 -8.6l-8.6 8.6M1416.3 418.6l8.6 8.6m0 -8.6l-8.6 8.6M1416.3 429.3l8.6 8.6m0 -8.6l-8.6 8.6M1418.5 418.6l8.6 8.6m0 -8.6l-8.6 8.6M1418.5 450.7l8.6 8.6m0 -8.6l-8.6 8.6M1420.7 418.6l8.6 8.6m0 -8.6l-8.6 8.6M1420.7 429.3l8.6 8.6m0 -8.6l-8.6 8.6M1422.9 418.6l8.6 8.6m0 -8.6l-8.6 8.6M1422.9 429.3l8.6 8.6m0 -8.6l-8.6 8.6M1425.1 418.6l8.6 8.6m0 -8.6l-8.6 8.6M1427.3 418.6l8.6 8.6m0 -8.6l-8.6 8.6M1427.3 429.3l8.6 8.6m0 -8.6l-8.6 8.6M1429.5 418.6l8.6 8.6m0 -8.6l-8.6 8.6M1431.7 418.6l8.6 8.6m0 -8.6l-8.6 8.6M1433.9 418.6l8.6 8.6m0 -8.6l-8.6 8.6M1436.1 418.6l8.6 8.6m0 -8.6l-8.6 8.6M1436.1 440l8.6 8.6m0 -8.6l-8.6 8.6M1438.3 418.6l8.6 8.6m0 -8.6l-8.6 8.6M1438.3 429.3l8.6 8.6m0 -8.6l-8.6 8.6M1440.5 418.6l8.6 8.6m0 -8.6l-8.6 8.6M1440.5 429.3l8.6 8.6m0 -8.6l-8.6 8.6M1442.7 418.6l8.6 8.6m0 -8.6l-8.6 8.6M1444.9 418.6l8.6 8.6m0 -8.6l-8.6 8.6M1447.1 418.6l8.6 8.6m0 -8.6l-8.6 8.6M1447.1 429.3l8.6 8.6m0 -8.6l-8.6 8.6M1449.3 418.6l8.6 8.6m0 -8.6l-8.6 8.6M1451.5 418.6l8.6 8.6m0 -8.6l-8.6 8.6M1451.5 440l8.6 8.6m0 -8.6l-8.6 8.6M1453.7 418.6l8.6 8.6m0 -8.6l-8.6 8.6M1455.9 418.6l8.6 8.6m0 -8.6l-8.6 8.6M1458.1 418.6l8.6 8.6m0 -8.6l-8.6 8.6M1460.3 418.6l8.6 8.6m0 -8.6l-8.6 8.6M1462.5 418.6l8.6 8.6m0 -8.6l-8.6 8.6M1464.7 418.6l8.6 8.6m0 -8.6l-8.6 8.6M1466.9 418.6l8.6 8.6m0 -8.6l-8.6 8.6M1466.9 429.3l8.6 8.6m0 -8.6l-8.6 8.6M1469.1 418.6l8.6 8.6m0 -8.6l-8.6 8.6M1471.3 418.6l8.6 8.6m0 -8.6l-8.6 8.6M1473.5 418.6l8.6 8.6m0 -8.6l-8.6 8.6M1475.7 418.6l8.6 8.6m0 -8.6l-8.6 8.6M1477.9 418.6l8.6 8.6m0 -8.6l-8.6 8.6M1480.1 418.6l8.6 8.6m0 -8.6l-8.6 8.6M1482.3 418.6l8.6 8.6m0 -8.6l-8.6 8.6M1484.5 418.6l8.6 8.6m0 -8.6l-8.6 8.6M1486.7 418.6l8.6 8.6m0 -8.6l-8.6 8.6M1488.9 418.6l8.6 8.6m0 -8.6l-8.6 8.6M1491.1 418.6l8.6 8.6m0 -8.6l-8.6 8.6M1493.3 418.6l8.6 8.6m0 -8.6l-8.6 8.6M1495.5 418.6l8.6 8.6m0 -8.6l-8.6 8.6M1497.7 418.6l8.6 8.6m0 -8.6l-8.6 8.6M1499.9 418.6l8.6 8.6m0 -8.6l-8.6 8.6M1502.1 418.6l8.6 8.6m0 -8.6l-8.6 8.6M1504.3 418.6l8.6 8.6m0 -8.6l-8.6 8.6M1506.5 418.6l8.6 8.6m0 -8.6l-8.6 8.6M1508.7 418.6l8.6 8.6m0 -8.6l-8.6 8.6M1510.9 418.6l8.6 8.6m0 -8.6l-8.6 8.6M1513.1 418.6l8.6 8.6m0 -8.6l-8.6 8.6M1515.3 418.6l8.6 8.6m0 -8.6l-8.6 8.6M1517.5 418.6l8.6 8.6m0 -8.6l-8.6 8.6M1519.7 418.6l8.6 8.6m0 -8.6l-8.6 8.6M1521.9 418.6l8.6 8.6m0 -8.6l-8.6 8.6M1524.1 418.6l8.6 8.6m0 -8.6l-8.6 8.6M1526.3 418.6l8.6 8.6m0 -8.6l-8.6 8.6M1528.5 418.6l8.6 8.6m0 -8.6l-8.6 8.6M1530.7 418.6l8.6 8.6m0 -8.6l-8.6 8.6M1532.9 418.6l8.6 8.6m0 -8.6l-8.6 8.6M1535.1 418.6l8.6 8.6m0 -8.6l-8.6 8.6M1537.3 418.6l8.6 8.6m0 -8.6l-8.6 8.6M1539.5 418.6l8.6 8.6m0 -8.6l-8.6 8.6M1541.7 418.6l8.6 8.6m0 -8.6l-8.6 8.6M1543.9 418.6l8.6 8.6m0 -8.6l-8.6 8.6M1546.1 418.6l8.6 8.6m0 -8.6l-8.6 8.6M1548.3 418.6l8.6 8.6m0 -8.6l-8.6 8.6M1550.5 418.6l8.6 8.6m0 -8.6l-8.6 8.6M1552.7 418.6l8.6 8.6m0 -8.6l-8.6 8.6M1554.9 418.6l8.6 8.6m0 -8.6l-8.6 8.6M1557.1 418.6l8.6 8.6m0 -8.6l-8.6 8.6M1559.3 418.6l8.6 8.6m0 -8.6l-8.6 8.6M1561.5 418.6l8.6 8.6m0 -8.6l-8.6 8.6M1563.7 418.6l8.6 8.6m0 -8.6l-8.6 8.6M1565.9 418.6l8.6 8.6m0 -8.6l-8.6 8.6M1568.1 418.6l8.6 8.6m0 -8.6l-8.6 8.6M1570.3 418.6l8.6 8.6m0 -8.6l-8.6 8.6M1572.5 418.6l8.6 8.6m0 -8.6l-8.6 8.6M1574.7 418.6l8.6 8.6m0 -8.6l-8.6 8.6M1576.9 418.6l8.6 8.6m0 -8.6l-8.6 8.6M1579.1 418.6l8.6 8.6m0 -8.6l-8.6 8.6M1581.3 418.6l8.6 8.6m0 -8.6l-8.6 8.6M1583.5 418.6l8.6 8.6m0 -8.6l-8.6 8.6M1585.7 418.6l8.6 8.6m0 -8.6l-8.6 8.6M1587.9 418.6l8.6 8.6m0 -8.6l-8.6 8.6M1590.1 418.6l8.6 8.6m0 -8.6l-8.6 8.6M1592.3 418.6l8.6 8.6m0 -8.6l-8.6 8.6M1594.5 418.6l8.6 8.6m0 -8.6l-8.6 8.6M1596.7 418.6l8.6 8.6m0 -8.6l-8.6 8.6M1598.9 418.6l8.6 8.6m0 -8.6l-8.6 8.6M1601.1 418.6l8.6 8.6m0 -8.6l-8.6 8.6M1603.3 418.6l8.6 8.6m0 -8.6l-8.6 8.6M1605.5 418.6l8.6 8.6m0 -8.6l-8.6 8.6M1607.7 418.6l8.6 8.6m0 -8.6l-8.6 8.6M1486.7 440l8.6 8.6m0 -8.6l-8.6 8.6M1491.7 440l8.6 8.6m0 -8.6l-8.6 8.6M1499.7 440l8.6 8.6m0 -8.6l-8.6 8.6M1504.7 440l8.6 8.6m0 -8.6l-8.6 8.6M1548.7 429.3l8.6 8.6m0 -8.6l-8.6 8.6M1553.2 429.3l8.6 8.6m0 -8.6l-8.6 8.6M1572.7 429.3l8.6 8.6m0 -8.6l-8.6 8.6M1576.7 429.3l8.6 8.6m0 -8.6l-8.6 8.6M1580.7 440l8.6 8.6m0 -8.6l-8.6 8.6M1583.7 440l8.6 8.6m0 -8.6l-8.6 8.6M1587.7 429.3l8.6 8.6m0 -8.6l-8.6 8.6M1592.7 429.3l8.6 8.6m0 -8.6l-8.6 8.6M1582.1 429.3l8.6 8.6m0 -8.6l-8.6 8.6M928.2 966.7l8.6 8.6m0 -8.6l-8.6 8.6"/>
<path stroke="#ffc0c0" stroke-width="15" stroke-linecap="square" d="M405.4 214.4h0M407.4 274.5h0M408.6 280.5h0M410.9 291h0M412.8 303.1h0M414.6 311.7h0M416.4 318.9h0M418.2 322.8h0M420 325.8h0M421.8 330.6h0M423.6 331.9h0M425.4 333.3h0M427.2 333.6h0M429 336h0M430.8 336h0M432.6 338.4h0M434.4 337.9h0M436.2 339.2h0M438 341.3h0M439.8 341.6h0M441.6 343.7h0M443.4 344.1h0M445.2 343.7h0M447 345.2h0M448.8 345.4h0M450.6 347.1h0M452.4 346.2h0M454.2 346.9h0M456 349h0M457.8 350.5h0M459.6 350.9h0M461.4 349.8h0M463.2 350.6h0M465 352.5h0M466.8 351.6h0M468.6 351.5h0M470.4 353h0M472.2 353.8h0M474 353.1h0M475.8 352.9h0M477.6 353.5h0M479.4 355.8h0M481.2 354.9h0M483 355.9h0M484.8 356.6h0M486.6 357.3h0M488.4 356.8h0M490.2 357.9h0M492 357h0M493.8 357.8h0M495.6 357.5h0M497.4 359.8h0M499.2 359.1h0M501 358.7h0M502.8 359.4h0M504.6 359.8h0M506.4 360.9h0M508.2 359.1h0M510 359.8h0M511.8 360.7h0M513.6 363.6h0M515.4 362.4h0M517.2 361.7h0M519 362.8h0M520.8 364.2h0M522.6 362.4h0M524.4 362.5h0M526.2 364.1h0M528 363.7h0M529.8 364h0M531.6 363.1h0M533.4 365.5h0M535.2 365.4h0M537 364.4h0M538.8 364.6h0M540.6 362.3h0M542.4 364.7h0M544.2 364.1h0M546 364.7h0M547.8 365h0M549.6 364.1h0M551.4 362.9h0M553.2 364.9h0M555 363.9h0M556.8 364.4h0M558.6 364.2h0M560.4 364.5h0M562.2 362.8h0M564 366.1h0M565.8 365.3h0M567.6 366.2h0M569.4 367.1h0M571.2 365.5h0M573 363.9h0M574.8 364.9h0M576.6 364.7h0M578.4 365.4h0M580.2 366.1h0M582 364.3h0M583.8 366.6h0M585.6 365h0M587.4 366.8h0M589.2 366.6h0M591 366.5h0M592.8 366.9h0M594.6 366.6h0M596.4 366.7h0M598.2 365.8h0M600 367.5h0M601.8 369.3h0M603.6 369.6h0M605.4 369.1h0M607.2 368.7h0M609 367.6h0M610.8 369.6h0M612.6 368.4h0M614.4 368.5h0M616.2 368.5h0M618 368.9h0M619.8 368.6h0M621.6 369h0M623.4 368.2h0M625.2 368.9h0M627 371.4h0M628.8 369.4h0M630.6 369.3h0M632.4 370.1h0M634.2 370.3h0M636 368.8h0M637.8 369.7h0M639.6 370.8h0M641.4 370.3h0M643.2 370.2h0M645 371.6h0M646.8 369.6h0M648.6 370.4h0M650.4 369.9h0M652.2 371.8h0M654 368.7h0M655.8 370h0M657.6 370.2h0M659.4 371.3h0M661.2 371.3h0M663 372.1h0M664.8 369.5h0M666.6 371.6h0M668.4 370.7h0M670.2 370.4h0M672 371.6h0M673.8 370.3h0M675.6 369.3h0M677.4 370.9h0M679.2 370h0M681 370.8h0M682.8 371.7h0M684.6 371.7h0M686.4 372.9h0M688.2 371.4h0M690 370.2h0M691.8 370.9h0M693.6 370.8h0M695.4 370.6h0M697.2 372.1h0M699 371.2h0M700.8 370h0M702.6 372.5h0M704.4 371.8h0M706.2 372.2h0M708 372.1h0M709.8 372.6h0M711.6 372.1h0M713.4 373.2h0M715.2 372.5h0M717 372.5h0M718.8 372.5h0M720.6 370.9h0M722.4 372h0M724.2 372h0M726 372.4h0M727.8 371.1h0M729.6 373.8h0M731.4 372.4h0M733.2 371.3h0M735 370.8h0M736.8 372.2h0M738.6 372.4h0M740.4 371.8h0M742.2 372.6h0M744 371.9h0M745.8 373h0M747.6 371.9h0M749.4 372.6h0M751.2 373.5h0M753 375h0M754.8 371.8h0M756.6 372.3h0M758.4 372h0M760.2 373.5h0M762 371.8h0M763.8 372.4h0M765.6 372.8h0M767.4 372h0M769.2 372h0M771 372.5h0M772.8 371.1h0M774.6 371.7h0M776.4 372.7h0M778.2 373.2h0M780 372.9h0M781.8 371.5h0M783.6 372.7h0M785.4 373.9h0M787.2 373.7h0M789 373.2h0M790.8 372.5h0M792.6 373.9h0M794.4 372.8h0M796.2 372.3h0M798 372.7h0M799.8 374.7h0M801.6 373.6h0M803.4 374.5h0M805.2 373.1h0M807 374.4h0M808.8 373h0M810.6 373.5h0M812.4 375.9h0M814.2 374.4h0M816 373.2h0M817.8 373.7h0M819.6 374.1h0M821.4 374.9h0M823.2 373.4h0M825 372.3h0M826.8 373.7h0M828.6 374h0M830.4 374.1h0M832.2 375.2h0M834 374.4h0M835.8 374.9h0M837.6 373.2h0M839.4 375h0M841.2 376.1h0M843 375h0M844.8 374.6h0M846.6 374.5h0M848.4 376.1h0M850.2 373.7h0M852 374.4h0M853.8 375h0M855.6 375.3h0M857.4 374.3h0M859.2 375h0M861 374.6h0M862.8 375h0M864.6 374.8h0M866.4 374h0M868.2 375h0M870 375.9h0M871.8 374.3h0M873.6 375h0M875.4 375.9h0M877.2 374.4h0M879 375.6h0M880.8 374.5h0M882.6 376.5h0M884.4 377.7h0M886.2 377.5h0M888 375.5h0M889.8 376.5h0M891.6 376h0M893.4 376h0M895.2 377.4h0M897 374.9h0M898.8 377.1h0M900.6 376.2h0M902.4 377.6h0M904.2 376.5h0M906 375.8h0M907.8 376.8h0M909.6 377.2h0M911.4 376.7h0M913.2 377.2h0M915 376.4h0M916.8 375h0M918.6 377.8h0M920.4 377.7h0M922.2 377.3h0M924 377.4h0M925.8 378.3h0M927.6 377.1h0M929.4 377h0M931.2 377.6h0M933 378.9h0M934.8 376.7h0M936.6 379.1h0M938.4 377.6h0M940.2 377.3h0M942 379.6h0M943.8 378.5h0M945.6 377.5h0M947.4 378.5h0M949.2 379.8h0M951 380.1h0M952.8 378.8h0M954.6 379.7h0M956.4 380.1h0M958.2 379h0M960 380h0M961.8 379.8h0M963.6 379.5h0M965.4 379.6h0M967.2 380.3h0M969 380.4h0M970.8 379.9h0M972.6 380.2h0M974.4 381.7h0M976.2 381h0M978 381.7h0M979.8 382.1h0M981.6 381.7h0M983.4 383.3h0M985.2 380.6h0M987 382.2h0M988.8 381.3h0M990.6 383.4h0M992.4 383.3h0M994.2 380.1h0M996 381.1h0M997.8 382.7h0M999.6 382.9h0M1001.4 382.9h0M1003.2 382.3h0M1005 382.8h0M1006.8 383.1h0M1008.6 382.5h0M1010.4 383.6h0M1012.2 380.7h0M1014 383.4h0M1015.8 381.9h0M1017.6 383.8h0M1019.4 382.8h0M1021.2 382.3h0M1023 383.5h0M1024.8 382.4h0M1026.6 382.5h0M1028.4 382h0M1030.2 383.4h0M1032 383.9h0M1033.8 384.5h0M1035.6 383.5h0M1037.4 384.6h0M1039.2 383.8h0M1041 383.7h0M1042.8 384.4h0M1044.6 384.9h0M1046.4 383.7h0M1048.2 383.9h0M1050 384h0M1051.8 384.3h0M1053.6 383.4h0M1055.4 385.2h0M1057.2 384h0M1059 384.9h0M1060.8 383.8h0M1062.6 384.9h0M1064.4 385h0M1066.2 384.3h0M1068 386.6h0M1069.8 385.2h0M1071.6 386.5h0M1073.4 385.8h0M1075.2 384.4h0M1077 384.7h0M1078.8 385.5h0M1080.6 385.3h0M1082.4 385.3h0M1084.2 385.1h0M1086 383.8h0M1087.8 385.3h0M1089.6 383.6h0M1091.4 386h0M1093.2 385.1h0M1095 385.1h0M1096.8 385.7h0M1098.6 386.2h0M1100.4 384.7h0M1102.2 384.5h0M1104 385.2h0M1105.8 384.4h0M1107.6 385.5h0M1109.4 387.8h0M1111.2 385.5h0M1113 387.2h0M1114.8 385.4h0M1116.6 387h0M1118.4 386.5h0M1120.2 386.8h0M1122 387.5h0M1123.8 388.6h0M1125.6 387.3h0M1127.4 387.3h0M1129.2 386.4h0M1131 387.9h0M1132.8 387.2h0M1134.6 388.3h0M1136.4 387.6h0M1138.2 389.3h0M1140 386h0M1141.8 387.6h0M1143.6 388.7h0M1145.4 387.7h0M1147.2 387.4h0M1149 387.9h0M1150.8 387h0M1152.6 388.5h0M1154.4 390.6h0M1156.2 389.5h0M1158 387.6h0M1159.8 387.9h0M1161.6 388.4h0M1163.4 389.7h0M1165.2 388.2h0M1167 388.4h0M1168.8 389.9h0M1170.6 389.9h0M1172.4 388.9h0M1174.2 388.3h0M1176 388h0M1177.8 388.9h0M1179.6 387.6h0M1181.4 390.3h0M1183.2 389.2h0M1185 390.2h0M1186.8 391.6h0M1188.6 391h0M1190.4 389h0M1192.2 390.9h0M1194 391.2h0M1195.8 389.6h0M1197.6 389.5h0M1199.4 390.3h0M1201.2 389.1h0M1203 391.9h0M1204.8 388.5h0M1206.6 389.7h0M1208.4 390.6h0M1210.2 390.7h0M1212 391.1h0M1213.8 391.3h0M1215.6 390.9h0M1217.4 392.2h0M1219.2 389.4h0M1221 391.4h0M1222.8 390.8h0M1224.6 391.6h0M1226.4 391.8h0M1228.2 390.8h0M1230 391.2h0M1231.8 392.5h0M1233.6 392.2h0M1235.4 391.4h0M1237.2 393.9h0M1239 394.2h0M1240.8 390.9h0M1242.6 392.5h0M1244.4 394.6h0M1246.2 393.1h0M1248 392.7h0M1249.8 392.4h0M1251.6 392.2h0M1253.4 392.5h0M1255.2 392.3h0M1257 393.5h0M1258.8 392.6h0M1260.6 392.6h0M1262.4 392h0M1264.2 393.1h0M1266 392.4h0M1267.8 393.2h0M1269.6 394.3h0M1271.4 393.8h0M1273.2 394h0M1275 393.9h0M1276.8 393.7h0M1278.6 393.6h0M1280.4 393.6h0M1282.2 394.6h0M1284 393h0M1285.8 395.3h0M1287.6 394.2h0M1289.4 393.5h0M1291.2 393.8h0M1293 393.7h0M1294.8 394.6h0M1296.6 393.8h0M1298.4 395.6h0M1300.2 393.9h0M1302 392.7h0M1303.8 394.1h0M1305.6 393h0M1307.4 394.9h0M1309.2 395.9h0M1311 395.6h0M1312.8 393.9h0M1314.6 394.5h0M1316.4 396.9h0M1318.2 395.6h0M1320 395.4h0M1321.8 396.4h0M1323.6 397.8h0M1325.4 396.8h0M1327.2 395.8h0M1329 396.1h0M1330.8 396.4h0M1332.6 395.4h0M1334.4 395h0M1336.2 396.1h0M1338 395.3h0M1339.8 396.1h0M1341.6 396.4h0M1343.4 398.4h0M1345.2 395.6h0M1347 396.4h0M1348.8 396.4h0M1350.6 397h0M1352.4 397.6h0M1354.2 396.3h0M1356 396.1h0M1357.8 395.4h0M1359.6 396.1h0M1361.4 397.5h0M1363.2 397.2h0M1365 396.3h0M1366.8 396.9h0M1368.6 397.4h0M1370.4 397.9h0M1372.2 397h0M1374 397.4h0M1375.8 396h0M1377.6 396.7h0M1379.4 399.3h0M1381.2 395.9h0M1383 397.7h0M1384.8 398.3h0M1386.6 397.8h0M1388.4 397.5h0M1390.2 398.2h0M1392 398.4h0M1393.8 398.4h0M1395.6 396.8h0M1397.4 398.5h0M1399.2 397.9h0M1401 398.3h0M1402.8 399h0M1404.6 399.5h0M1406.4 399.8h0M1408.2 398.6h0M1410 400h0M1411.8 400.3h0M1413.6 400.3h0M1415.4 400.6h0M1417.2 399.3h0M1419 399.3h0M1420.8 400.3h0M1422.6 398.4h0M1424.4 399.9h0M1426.2 399.3h0M1428 399.5h0M1429.8 398.3h0M1431.6 399.1h0M1433.4 400h0M1435.2 400.8h0M1437 401h0M1438.8 400.1h0M1440.6 400h0M1442.4 399.5h0M1444.2 400.6h0M1446 400.1h0M1447.8 400.9h0M1449.6 402h0M1451.4 400.4h0M1453.2 399.1h0M1455 399.7h0M1456.8 399.2h0M1458.6 399.5h0M1460.4 401.7h0M1462.2 400.8h0M1464 399.3h0M1465.8 401.3h0M1467.6 401.8h0M1469.4 400.4h0M1471.2 400.1h0M1473 400.5h0M1474.8 401.1h0M1476.6 401.4h0M1478.4 401.9h0M1480.2 402h0M1482 402h0M1483.8 402.2h0M1485.6 401.6h0M1487.4 399.6h0M1489.2 400.9h0M1491 401.3h0M1492.8 400.7h0M1494.6 401.9h0M1496.4 400.8h0M1498.2 400.3h0M1500 402.5h0M1501.8 401.8h0M1503.6 401.4h0M1505.4 402.1h0M1507.2 402.2h0M1509 401.6h0M1510.8 399.1h0M1512.6 400.7h0M1514.4 400.9h0M1516.2 400.5h0M1518 401.6h0M1519.8 402.5h0M1521.6 401h0M1523.4 400.4h0M1525.2 403.3h0M1527 401h0M1528.8 400.3h0M1530.6 401.7h0M1532.4 401.9h0M1534.2 400.8h0M1536 402.2h0M1537.8 401.1h0M1539.6 400.7h0M1541.4 401.7h0M1543.2 402.2h0M1545 400.9h0M1546.8 401.8h0M1548.6 401.4h0M1550.4 404h0M1552.2 400.9h0M1554 402.7h0M1555.8 401.5h0M1557.6 401.4h0M1559.4 402.1h0M1561.2 402.3h0M1563 402.6h0M1564.8 401.8h0M1566.6 401h0M1568.4 401h0M1570.2 402h0M1572 402h0M1573.8 402.7h0M1575.6 401.9h0M1577.4 402.4h0M1579.2 402.8h0M1581 401.6h0M1582.8 400.1h0M1584.6 400.4h0M1586.4 400.2h0M1588.2 402.9h0M1590 400.7h0M1591.8 402.6h0M1593.6 402h0M1595.4 403h0M1597.2 402.3h0M1599 401.3h0M1600.8 401.2h0M1602.6 401.5h0M1604.4 401.6h0M1606.2 400.9h0M1608 401.3h0M1609.8 402.8h0M1611.6 399.8h0M1613.4 401.6h0M1615.2 400.5h0M1617 401.5h0M1477.5 860.5h0"/>
<path stroke="#ff0000" stroke-width="11" stroke-linecap="square" d="M405.4 464.4h0M408.6 490h0M410.4 487.3h0M412.2 484.8h0M414 481.9h0M415.8 479.5h0M417.6 476.1h0M419.4 471.7h0M421.2 467.1h0M423 463.2h0M424.8 459.5h0M426.6 457.6h0M428.4 454.4h0M430.2 451.8h0M432 450.8h0M433.8 448.6h0M435.6 447.8h0M437.4 446.7h0M439.2 446h0M441 445.3h0M442.8 444.5h0M444.6 444.2h0M446.4 444.3h0M448.2 442.3h0M450 442.7h0M451.8 442.7h0M453.6 442.1h0M455.4 441.9h0M457.2 443.2h0M459 442.2h0M460.8 443.1h0M462.6 442.5h0M464.4 442.3h0M466.2 442.5h0M468 442.5h0M469.8 442.7h0M471.6 442.5h0M473.4 442.4h0M475.2 442.5h0M477 443h0M478.8 443h0M480.6 442.5h0M482.4 442.8h0M484.2 443.3h0M486 443.2h0M487.8 443.5h0M489.6 443.5h0M491.4 443.9h0M493.2 444.3h0M495 444.7h0M496.8 444.5h0M498.6 445.3h0M500.4 444.7h0M502.2 446h0M504 445.4h0M505.8 445.3h0M507.6 445.1h0M509.4 444.4h0M511.2 445.5h0M513 445.8h0M514.8 446.5h0M516.6 445.5h0M518.4 446.8h0M520.2 446.2h0M522 446.7h0M523.8 445.7h0M525.6 446.8h0M527.4 446.8h0M529.2 447.4h0M531 447.4h0M532.8 447.1h0M534.6 448.1h0M536.4 448.2h0M538.2 448.3h0M540 448.7h0M541.8 448.9h0M543.6 448.6h0M545.4 448.3h0M547.2 448.4h0M549 449.5h0M550.8 449.4h0M552.6 449.3h0M554.4 449.2h0M556.2 449.4h0M558 449.5h0M559.8 449.4h0M561.6 449.3h0M563.4 450.2h0M565.2 449.5h0M567 449.2h0M568.8 448.9h0M570.6 449.1h0M572.4 449.6h0M574.2 449.5h0M576 449.1h0M577.8 449.1h0M579.6 448.9h0M581.4 448.6h0M583.2 449.3h0M585 448.9h0M586.8 449.6h0M588.6 448.3h0M590.4 448.5h0M592.2 448.7h0M594 448.2h0M595.8 447.7h0M597.6 447.6h0M599.4 447.7h0M601.2 447.5h0M603 447h0M604.8 447h0M606.6 446.6h0M608.4 446h0M610.2 445.4h0M612 444.8h0M613.8 444.6h0M615.6 444.2h0M617.4 443.4h0M619.2 443h0M621 442.2h0M622.8 441.3h0M624.6 440.9h0M626.4 441h0M628.2 440.4h0M630 440.3h0M631.8 439.2h0M633.6 439h0M635.4 438.6h0M637.2 438h0M639 436.8h0M640.8 436.4h0M642.6 435.9h0M644.4 435h0M646.2 434.9h0M648 434.5h0M649.8 433.3h0M651.6 433.5h0M653.4 432.1h0M655.2 431.5h0M657 430.8h0M658.8 429.9h0M660.6 429.7h0M662.4 428.8h0M664.2 428.7h0M666 427.5h0M667.8 426.7h0M669.6 425.6h0M671.4 424.3h0M673.2 424h0M675 422.8h0M676.8 422.6h0M678.6 421.3h0M680.4 421h0M682.2 419.8h0M684 418.9h0M685.8 417.8h0M687.6 417h0M689.4 416.3h0M691.2 415.5h0M693 414.1h0M694.8 413.7h0M696.6 413.7h0M698.4 412h0M700.2 411.2h0M702 410.2h0M703.8 409.2h0M705.6 409.4h0M707.4 408.2h0M709.2 407.6h0M711 407.4h0M712.8 406.9h0M714.6 405h0M716.4 404.9h0M718.2 404.1h0M720 403.3h0M721.8 402.7h0M723.6 401.8h0M725.4 401.7h0M727.2 400.7h0M729 400h0M730.8 399.7h0M732.6 399h0M734.4 398.2h0M736.2 397.6h0M738 397.5h0M739.8 396.5h0M741.6 395.7h0M743.4 394.8h0M745.2 394.5h0M747 393.7h0M748.8 393.5h0M750.6 393h0M752.4 391.7h0M754.2 391.9h0M756 391.7h0M757.8 391h0M759.6 390.2h0M761.4 390.5h0M763.2 389.4h0M765 388.8h0M766.8 388.4h0M768.6 388.4h0M770.4 388.3h0M772.2 388h0M774 387.3h0M775.8 386.4h0M777.6 386.2h0M779.4 385.8h0M781.2 385.7h0M783 384.8h0M784.8 385.1h0M786.6 384.9h0M788.4 384.3h0M790.2 384.2h0M792 383.4h0M793.8 382.9h0M795.6 382.9h0M797.4 383.3h0M799.2 382.9h0M801 382.1h0M802.8 382.4h0M804.6 381.6h0M806.4 382h0M808.2 381.4h0M810 380.8h0M811.8 380.9h0M813.6 380.1h0M815.4 379.8h0M817.2 379.4h0M819 379.8h0M820.8 379.5h0M822.6 379.2h0M824.4 378.9h0M826.2 379.4h0M828 378.6h0M829.8 378.3h0M831.6 378.8h0M833.4 378.8h0M835.2 378.2h0M837 377.4h0M838.8 377.6h0M840.6 377.9h0M842.4 377.6h0M844.2 378h0M846 376.8h0M847.8 377.4h0M849.6 376.9h0M851.4 377.4h0M853.2 376.9h0M855 377.2h0M856.8 376.5h0M858.6 376.2h0M860.4 376.2h0M862.2 376.4h0M864 376.2h0M865.8 377h0M867.6 377.1h0M869.4 376.7h0M871.2 376.3h0M873 376.6h0M874.8 376.5h0M876.6 377.3h0M878.4 376.9h0M880.2 377h0M882 376.7h0M883.8 376.2h0M885.6 376.7h0M887.4 376.7h0M889.2 377.2h0M891 377.2h0M892.8 376.9h0M894.6 377.2h0M896.4 377.9h0M898.2 377.1h0M900 377.2h0M901.8 377.5h0M903.6 377.4h0M905.4 377.5h0M907.2 377.9h0M909 378.4h0M910.8 377.2h0M912.6 377.9h0M914.4 377.9h0M916.2 377.9h0M918 378h0M919.8 378h0M921.6 378.5h0M923.4 378h0M925.2 378.2h0M927 378.3h0M928.8 378.4h0M930.6 378.3h0M932.4 378.8h0M934.2 378.5h0M936 378.6h0M937.8 378.6h0M939.6 378.3h0M941.4 378.5h0M943.2 378.4h0M945 378.9h0M946.8 378.7h0M948.6 378.6h0M950.4 379.1h0M952.2 379.3h0M954 378.5h0M955.8 379.8h0M957.6 379.3h0M959.4 379.3h0M961.2 379.8h0M963 379.5h0M964.8 379.3h0M966.6 380.3h0M968.4 379.2h0M970.2 379.6h0M972 380h0M973.8 379.4h0M975.6 379.8h0M977.4 380.1h0M979.2 380.8h0M981 379.7h0M982.8 380.1h0M984.6 380.4h0M986.4 380.3h0M988.2 379.9h0M990 380.5h0M991.8 380.4h0M993.6 380.6h0M995.4 380.9h0M997.2 381h0M999 380.8h0M1000.8 380.8h0M1002.6 380.4h0M1004.4 380.8h0M1006.2 381h0M1008 380.8h0M1009.8 381.1h0M1011.6 380.8h0M1013.4 381.7h0M1015.2 382h0M1017 381.2h0M1018.8 381.5h0M1020.6 381.3h0M1022.4 381.9h0M1024.2 381.7h0M1026 381.6h0M1027.8 381.6h0M1029.6 381.8h0M1031.4 381.5h0M1033.2 382.1h0M1035 381.7h0M1036.8 382.2h0M1038.6 382.1h0M1040.4 382.5h0M1042.2 382.2h0M1044 382.6h0M1045.8 382h0M1047.6 382.6h0M1049.4 382.4h0M1051.2 382.6h0M1053 382.7h0M1054.8 383h0M1056.6 382.1h0M1058.4 382.9h0M1060.2 382.4h0M1062 383.4h0M1063.8 382.4h0M1065.6 382.8h0M1067.4 382.6h0M1069.2 383.8h0M1071 382.9h0M1072.8 383.4h0M1074.6 383.3h0M1076.4 382.9h0M1078.2 383.5h0M1080 383.9h0M1081.8 383.7h0M1083.6 384.2h0M1085.4 383.8h0M1087.2 384h0M1089 383.9h0M1090.8 384.2h0M1092.6 384.9h0M1094.4 384.4h0M1096.2 384.4h0M1098 384.2h0M1099.8 384.2h0M1101.6 385.1h0M1103.4 384.3h0M1105.2 384.4h0M1107 384.8h0M1108.8 384.7h0M1110.6 385.6h0M1112.4 384.2h0M1114.2 385.2h0M1116 385.4h0M1117.8 384.9h0M1119.6 385.1h0M1121.4 385.6h0M1123.2 386.1h0M1125 385.3h0M1126.8 385.1h0M1128.6 386.1h0M1130.4 386.4h0M1132.2 385.8h0M1134 385.2h0M1135.8 386.6h0M1137.6 386.1h0M1139.4 386.6h0M1141.2 386.3h0M1143 386.3h0M1144.8 386.3h0M1146.6 387.1h0M1148.4 387.1h0M1150.2 386h0M1152 386.5h0M1153.8 387.5h0M1155.6 386.8h0M1157.4 386.6h0M1159.2 387.1h0M1161 387.2h0M1162.8 387.3h0M1164.6 387.2h0M1166.4 387.4h0M1168.2 387.4h0M1170 387.7h0M1171.8 387.4h0M1173.6 387.7h0M1175.4 387.8h0M1177.2 388.4h0M1179 388.2h0M1180.8 388.1h0M1182.6 388.4h0M1184.4 388.4h0M1186.2 388.7h0M1188 388.6h0M1189.8 389.1h0M1191.6 389.1h0M1193.4 388.7h0M1195.2 388.6h0M1197 389.2h0M1198.8 389.1h0M1200.6 389h0M1202.4 388.6h0M1204.2 388.5h0M1206 389.4h0M1207.8 389.6h0M1209.6 389.7h0M1211.4 389.1h0M1213.2 390h0M1215 389.5h0M1216.8 389.9h0M1218.6 390h0M1220.4 389.6h0M1222.2 389.8h0M1224 389.4h0M1225.8 389.9h0M1227.6 389.6h0M1229.4 390.5h0M1231.2 390.4h0M1233 390.8h0M1234.8 390.7h0M1236.6 390.4h0M1238.4 390.9h0M1240.2 390.7h0M1242 391.1h0M1243.8 391.1h0M1245.6 390.7h0M1247.4 391.2h0M1249.2 391.3h0M1251 391.2h0M1252.8 391.7h0M1254.6 392.1h0M1256.4 391.4h0M1258.2 391.5h0M1260 390.9h0M1261.8 391.7h0M1263.6 391.7h0M1265.4 391.2h0M1267.2 392.1h0M1269 392.3h0M1270.8 391.9h0M1272.6 392.1h0M1274.4 392h0M1276.2 392.6h0M1278 391.9h0M1279.8 392.4h0M1281.6 393.3h0M1283.4 392.7h0M1285.2 392.9h0M1287 392.8h0M1288.8 392.5h0M1290.6 393h0M1292.4 393.2h0M1294.2 392.8h0M1296 393.3h0M1297.8 393.7h0M1299.6 393.7h0M1301.4 392.8h0M1303.2 393.1h0M1305 393h0M1306.8 394h0M1308.6 393.9h0M1310.4 394h0M1312.2 393.5h0M1314 393.5h0M1315.8 394h0M1317.6 394.1h0M1319.4 393.8h0M1321.2 394.2h0M1323 394.5h0M1324.8 394.4h0M1326.6 394h0M1328.4 393.7h0M1330.2 394.4h0M1332 394.7h0M1333.8 394.6h0M1335.6 394.6h0M1337.4 394.6h0M1339.2 395.1h0M1341 394.9h0M1342.8 395.1h0M1344.6 394.7h0M1346.4 394.9h0M1348.2 395.3h0M1350 394.9h0M1351.8 394.9h0M1353.6 395.3h0M1355.4 395.9h0M1357.2 395.6h0M1359 396.2h0M1360.8 395.7h0M1362.6 395.7h0M1364.4 395.4h0M1366.2 395.7h0M1368 396.5h0M1369.8 396.2h0M1371.6 396.4h0M1373.4 396.5h0M1375.2 396.3h0M1377 396.3h0M1378.8 396.5h0M1380.6 396.8h0M1382.4 396.8h0M1384.2 396.9h0M1386 396.9h0M1387.8 396.6h0M1389.6 396.9h0M1391.4 396.7h0M1393.2 397.5h0M1395 396.5h0M1396.8 397.2h0M1398.6 398.2h0M1400.4 397.3h0M1402.2 397.1h0M1404 397.6h0M1405.8 398.1h0M1407.6 397.7h0M1409.4 398h0M1411.2 397.9h0M1413 397.8h0M1414.8 399.1h0M1416.6 398.1h0M1418.4 398h0M1420.2 398.1h0M1422 398.4h0M1423.8 398.5h0M1425.6 398.7h0M1427.4 398.5h0M1429.2 398h0M1431 398.8h0M1432.8 398.5h0M1434.6 398.6h0M1436.4 398.2h0M1438.2 398.6h0M1440 398.6h0M1441.8 398.9h0M1443.6 398.4h0M1445.4 399h0M1447.2 399.1h0M1449 398.7h0M1450.8 398.9h0M1452.6 398.8h0M1454.4 399.5h0M1456.2 398.3h0M1458 399.1h0M1459.8 398.7h0M1461.6 399.2h0M1463.4 399.6h0M1465.2 399.2h0M1467 399.5h0M1468.8 399.1h0M1470.6 400.2h0M1472.4 399.8h0M1474.2 399.9h0M1476 399.1h0M1477.8 399.2h0M1479.6 400h0M1481.4 399.6h0M1483.2 399.6h0M1485 399.8h0M1486.8 399.3h0M1488.6 400.1h0M1490.4 399.8h0M1492.2 400h0M1494 399.6h0M1495.8 400.1h0M1497.6 399.7h0M1499.4 400.3h0M1501.2 400.4h0M1503 400.3h0M1504.8 400.2h0M1506.6 400.3h0M1508.4 399.1h0M1510.2 400.4h0M1512 400h0M1513.8 400.2h0M1515.6 400h0M1517.4 399.7h0M1519.2 400h0M1521 400.4h0M1522.8 400.7h0M1524.6 400h0M1526.4 399.9h0M1528.2 400.7h0M1530 399.9h0M1531.8 401h0M1533.6 400.3h0M1535.4 400h0M1537.2 400.6h0M1539 400.9h0M1540.8 399.8h0M1542.6 400.8h0M1544.4 400.2h0M1546.2 400.8h0M1548 400.2h0M1549.8 399.7h0M1551.6 400.5h0M1553.4 400.6h0M1555.2 401h0M1557 400.9h0M1558.8 400.5h0M1560.6 400.2h0M1562.4 400.1h0M1564.2 400.2h0M1566 400h0M1567.8 400.2h0M1569.6 399.4h0M1571.4 400.4h0M1573.2 400.3h0M1575 401.2h0M1576.8 400.6h0M1578.6 400.1h0M1580.4 400.5h0M1582.2 399.9h0M1584 400.1h0M1585.8 399.6h0M1587.6 400.8h0M1589.4 400.5h0M1591.2 399.9h0M1593 400.3h0M1594.8 400.6h0M1596.6 400.5h0M1598.4 400.4h0M1600.2 400h0M1602 400.1h0M1603.8 400.3h0M1605.6 400.6h0M1607.4 400h0M1609.2 399.9h0M1611 400.7h0M1612.8 400h0M1614.6 400.7h0M1616.4 400.4h0M1477.5 915.5h0"/>
<path stroke="#8b0000" stroke-width="15" stroke-linecap="round" d="M407.3 613.1h0M407 597.7h0M410.9 586.8h0M412.5 576.7h0M414.1 568.3h0M415.7 558.9h0M417.3 550.9h0M418.9 544.3h0M420.5 536.2h0M422.1 528.3h0M423.7 523.1h0M425.3 519h0M426.9 514.7h0M428.5 510.8h0M430.1 507.4h0M431.7 503.9h0M433.3 501h0M434.9 497.9h0M436.5 495.6h0M438.1 493h0M439.7 491.4h0M441 489.8h0M442.8 488.7h0M444.6 487h0M446.4 486.2h0M448.2 485h0M450 484.4h0M451.8 484h0M453.6 483.2h0M455.4 482.8h0M457.2 482.4h0M459 481.8h0M460.8 482h0M462.6 481.8h0M464.4 481.3h0M466.2 481.4h0M468 481.1h0M469.8 481h0M471.6 481h0M473.4 480.9h0M475.2 481.2h0M477 480.6h0M478.8 480.9h0M480.6 480.9h0M482.4 480.4h0M484.2 480.4h0M486 480.7h0M487.8 480.5h0M489.6 480.6h0M491.4 480.7h0M493.2 480.5h0M495 480.3h0M496.8 480.1h0M498.6 480.6h0M500.4 480.4h0M502.2 480.7h0M504 480.7h0M505.8 480.5h0M507.6 481.1h0M509.4 481.1h0M511.2 481.2h0M513 481h0M514.8 481.2h0M516.6 481.3h0M518.4 481.5h0M520.2 481.5h0M522 481.9h0M523.8 482h0M525.6 482.3h0M527.4 482.4h0M529.2 482.9h0M531 483h0M532.8 482.9h0M534.6 483.5h0M536.4 483.9h0M538.2 484.4h0M540 484.5h0M541.8 484.8h0M543.6 485h0M545.4 485.5h0M547.2 485.5h0M549 485.7h0M550.8 485.8h0M552.6 486.1h0M554.4 486.1h0M556.2 486h0M558 486.5h0M559.8 486.5h0M561.6 486.8h0M563.4 487h0M565.2 487.4h0M567 487.6h0M568.8 487.6h0M570.6 487.9h0M572.4 488h0M574.2 488.6h0M576 488.6h0M577.8 488.9h0M579.6 488.8h0M581.4 488.6h0M583.2 489.1h0M585 488.9h0M586.8 488.8h0M588.6 488.6h0M590.4 488.6h0M592.2 488.3h0M594 487.8h0M595.8 488h0M597.6 487.5h0M599.4 487.1h0M601.2 486.9h0M603 486.2h0M604.8 485.4h0M606.6 484.4h0M608.4 483.9h0M610.2 483.1h0M612 482.1h0M613.8 480.9h0M615.6 480.1h0M617.4 479h0M619.2 478.3h0M621 477.4h0M622.8 476.6h0M624.6 475.4h0M626.4 474.7h0M628.2 474h0M630 473.1h0M631.8 472.5h0M633.6 472.1h0M635.4 471.2h0M637.2 470.6h0M639 469.8h0M640.8 469.2h0M642.6 468.2h0M644.4 467.8h0M646.2 467.4h0M648 466.8h0M649.8 466h0M651.6 465.2h0M653.4 464.3h0M655.2 463.5h0M657 462.8h0M658.8 462h0M660.6 461h0M662.4 460.3h0M664.2 459.1h0M666 457.9h0M667.8 457h0M669.6 455.7h0M671.4 454.6h0M673.2 453.8h0M675 452.3h0M676.8 451.1h0M678.6 450h0M680.4 448.7h0M682.2 447.1h0M684 446.1h0M685.8 444.7h0M687.6 443.3h0M689.4 442.1h0M691.2 440.6h0M693 439.5h0M694.8 438.4h0M696.6 437.4h0M698.4 436.1h0M700.2 435h0M702 434.1h0M703.8 433h0M705.6 431.8h0M707.4 430.8h0M709.2 429.4h0M711 428.3h0M712.8 427.3h0M714.6 426.1h0M716.4 425h0M718.2 424.3h0M720 423h0M721.8 421.8h0M723.6 421h0M725.4 420.2h0M727.2 418.9h0M729 418.1h0M730.8 416.9h0M732.6 415.9h0M734.4 414.9h0M736.2 414h0M738 413.3h0M739.8 411.9h0M741.6 411.3h0M743.4 410h0M745.2 409.2h0M747 408.4h0M748.8 407.5h0M750.6 406.5h0M752.4 405.4h0M754.2 404.8h0M756 403.8h0M757.8 403.5h0M759.6 402.3h0M761.4 401.6h0M763.2 400.7h0M765 400h0M766.8 399.2h0M768.6 398.9h0M770.4 398h0M772.2 397.4h0M774 396.5h0M775.8 395.9h0M777.6 395.5h0M779.4 394.5h0M781.2 393.8h0M783 393.5h0M784.8 392.7h0M786.6 392.3h0M788.4 391.9h0M790.2 391.2h0M792 390.9h0M793.8 390.3h0M795.6 390.1h0M797.4 389.7h0M799.2 389.1h0M801 388.7h0M802.8 388.3h0M804.6 388.1h0M806.4 387.9h0M808.2 387.2h0M810 387.2h0M811.8 386.6h0M813.6 386.4h0M815.4 385.9h0M817.2 386.2h0M819 385.7h0M820.8 385.4h0M822.6 385h0M824.4 385.1h0M826.2 384.3h0M828 384.4h0M829.8 384.5h0M831.6 383.9h0M833.4 383.7h0M835.2 383.6h0M837 383.2h0M838.8 383.1h0M840.6 383h0M842.4 382.7h0M844.2 382.5h0M846 382.2h0M847.8 382.2h0M849.6 381.9h0M851.4 382h0M853.2 381.7h0M855 381.4h0M856.8 380.9h0M858.6 381.2h0M860.4 381.1h0M862.2 380.7h0M864 380.4h0M865.8 380.4h0M867.6 380.6h0M869.4 380.2h0M871.2 380.2h0M873 380.1h0M874.8 380.2h0M876.6 379.9h0M878.4 379.7h0M880.2 379.6h0M882 379.8h0M883.8 379.6h0M885.6 379.3h0M887.4 379h0M889.2 379h0M891 379.1h0M892.8 378.8h0M894.6 379h0M896.4 378.8h0M898.2 378.8h0M900 378.8h0M901.8 378.7h0M903.6 378.4h0M905.4 378.5h0M907.2 378.9h0M909 378.3h0M910.8 378.4h0M912.6 378.7h0M914.4 378.5h0M916.2 378.4h0M918 378.3h0M919.8 378.6h0M921.6 378.7h0M923.4 378.8h0M925.2 378.6h0M927 378.8h0M928.8 378.5h0M930.6 378.7h0M932.4 378.6h0M934.2 378.8h0M936 378.9h0M937.8 379h0M939.6 378.7h0M941.4 379.1h0M943.2 378.9h0M945 378.8h0M946.8 379h0M948.6 378.9h0M950.4 379.1h0M952.2 379.2h0M954 379.2h0M955.8 379.4h0M957.6 379.3h0M959.4 379.4h0M961.2 379.2h0M963 379.5h0M964.8 379.4h0M966.6 379.6h0M968.4 379.7h0M970.2 379.8h0M972 379.5h0M973.8 379.6h0M975.6 379.9h0M977.4 380h0M979.2 380.1h0M981 380.2h0M982.8 380.3h0M984.6 380.3h0M986.4 380.3h0M988.2 380.2h0M990 380.2h0M991.8 380.4h0M993.6 380.5h0M995.4 380.6h0M997.2 380.6h0M999 380.6h0M1000.8 380.8h0M1002.6 380.8h0M1004.4 380.9h0M1006.2 380.9h0M1008 380.9h0M1009.8 380.8h0M1011.6 381.1h0M1013.4 381.2h0M1015.2 381.1h0M1017 381.2h0M1018.8 381.6h0M1020.6 381.2h0M1022.4 381.4h0M1024.2 381.5h0M1026 381.4h0M1027.8 381.6h0M1029.6 382h0M1031.4 381.9h0M1033.2 381.9h0M1035 382h0M1036.8 382h0M1038.6 382.2h0M1040.4 382.1h0M1042.2 382.1h0M1044 382.2h0M1045.8 382.4h0M1047.6 382.4h0M1049.4 382.5h0M1051.2 382.2h0M1053 382.8h0M1054.8 383h0M1056.6 382.9h0M1058.4 382.7h0M1060.2 382.7h0M1062 383h0M1063.8 382.9h0M1065.6 383.2h0M1067.4 383.1h0M1069.2 383.4h0M1071 383.5h0M1072.8 383.1h0M1074.6 383.5h0M1076.4 383.4h0M1078.2 383.4h0M1080 383.6h0M1081.8 383.7h0M1083.6 384h0M1085.4 383.7h0M1087.2 384.1h0M1089 384.3h0M1090.8 384.2h0M1092.6 384.3h0M1094.4 384.3h0M1096.2 384.2h0M1098 384.5h0M1099.8 384.6h0M1101.6 384.7h0M1103.4 385h0M1105.2 384.8h0M1107 384.9h0M1108.8 385.1h0M1110.6 384.8h0M1112.4 384.9h0M1114.2 385.1h0M1116 385.1h0M1117.8 385.4h0M1119.6 385.3h0M1121.4 385.7h0M1123.2 385.7h0M1125 385.7h0M1126.8 385.6h0M1128.6 385.8h0M1130.4 386h0M1132.2 385.8h0M1134 386h0M1135.8 386.2h0M1137.6 386.2h0M1139.4 386.5h0M1141.2 386.5h0M1143 386.3h0M1144.8 386.5h0M1146.6 386.4h0M1148.4 386.7h0M1150.2 386.6h0M1152 386.9h0M1153.8 386.9h0M1155.6 387.1h0M1157.4 387h0M1159.2 386.9h0M1161 387.5h0M1162.8 387.3h0M1164.6 387.6h0M1166.4 387.5h0M1168.2 387.6h0M1170 387.9h0M1171.8 387.8h0M1173.6 388h0M1175.4 387.6h0M1177.2 388.1h0M1179 388h0M1180.8 388.1h0M1182.6 388.2h0M1184.4 388.3h0M1186.2 388.6h0M1188 388.2h0M1189.8 388.5h0M1191.6 388.5h0M1193.4 388.9h0M1195.2 388.7h0M1197 388.9h0M1198.8 388.9h0M1200.6 389.1h0M1202.4 389.3h0M1204.2 389.1h0M1206 389.3h0M1207.8 389.1h0M1209.6 389.5h0M1211.4 389.6h0M1213.2 389.5h0M1215 389.8h0M1216.8 389.5h0M1218.6 389.6h0M1220.4 389.7h0M1222.2 389.9h0M1224 390.1h0M1225.8 390.2h0M1227.6 390.3h0M1229.4 390.5h0M1231.2 390.4h0M1233 390.3h0M1234.8 390.4h0M1236.6 391h0M1238.4 390.4h0M1240.2 390.8h0M1242 391.1h0M1243.8 391.1h0M1245.6 390.9h0M1247.4 391.2h0M1249.2 391.4h0M1251 391.5h0M1252.8 391.3h0M1254.6 391.6h0M1256.4 391.6h0M1258.2 391.8h0M1260 391.9h0M1261.8 391.7h0M1263.6 391.6h0M1265.4 392h0M1267.2 392.3h0M1269 392.2h0M1270.8 392.2h0M1272.6 392.6h0M1274.4 392.1h0M1276.2 392.5h0M1278 392.4h0M1279.8 392.5h0M1281.6 392.6h0M1283.4 392.9h0M1285.2 392.6h0M1287 392.7h0M1288.8 392.7h0M1290.6 393h0M1292.4 393h0M1294.2 393.2h0M1296 393h0M1297.8 393.2h0M1299.6 393.5h0M1301.4 393.4h0M1303.2 393.6h0M1305 393.6h0M1306.8 393.6h0M1308.6 393.4h0M1310.4 393.9h0M1312.2 393.8h0M1314 394h0M1315.8 393.7h0M1317.6 393.8h0M1319.4 393.8h0M1321.2 394h0M1323 394.4h0M1324.8 394.4h0M1326.6 394.4h0M1328.4 394.5h0M1330.2 394.6h0M1332 394.6h0M1333.8 394.7h0M1335.6 394.8h0M1337.4 394.5h0M1339.2 394.8h0M1341 395.1h0M1342.8 395h0M1344.6 395.1h0M1346.4 395.1h0M1348.2 395.2h0M1350 395.5h0M1351.8 395.3h0M1353.6 395.3h0M1355.4 395h0M1357.2 395.5h0M1359 395.4h0M1360.8 395.4h0M1362.6 395.9h0M1364.4 396h0M1366.2 395.7h0M1368 396.1h0M1369.8 396.2h0M1371.6 396.1h0M1373.4 396.4h0M1375.2 396.1h0M1377 396.2h0M1378.8 396.3h0M1380.6 396.4h0M1382.4 396.8h0M1384.2 396.5h0M1386 396.6h0M1387.8 396.7h0M1389.6 397h0M1391.4 397h0M1393.2 397.2h0M1395 397.1h0M1396.8 397.1h0M1398.6 397.3h0M1400.4 397.4h0M1402.2 397.4h0M1404 397.6h0M1405.8 397.9h0M1407.6 397.6h0M1409.4 397.8h0M1411.2 398.1h0M1413 397.9h0M1414.8 397.9h0M1416.6 397.9h0M1418.4 398.2h0M1420.2 398.3h0M1422 398.3h0M1423.8 398.4h0M1425.6 398.6h0M1427.4 398.6h0M1429.2 398.3h0M1431 398.6h0M1432.8 398.7h0M1434.6 398.8h0M1436.4 398.7h0M1438.2 398.7h0M1440 398.8h0M1441.8 398.6h0M1443.6 398.9h0M1445.4 398.9h0M1447.2 399.1h0M1449 398.9h0M1450.8 399h0M1452.6 399h0M1454.4 399h0M1456.2 399.3h0M1458 399.2h0M1459.8 399.3h0M1461.6 399.1h0M1463.4 399.3h0M1465.2 399.1h0M1467 399.3h0M1468.8 399.3h0M1470.6 399.5h0M1472.4 399.5h0M1474.2 399.5h0M1476 399.7h0M1477.8 399.6h0M1479.6 399.7h0M1481.4 399.7h0M1483.2 399.6h0M1485 399.6h0M1486.8 399.8h0M1488.6 399.7h0M1490.4 399.8h0M1492.2 400h0M1494 399.9h0M1495.8 399.8h0M1497.6 399.7h0M1499.4 399.9h0M1501.2 399.9h0M1503 400.1h0M1504.8 399.9h0M1506.6 399.9h0M1508.4 400.1h0M1510.2 399.9h0M1512 400h0M1513.8 400.3h0M1515.6 400.3h0M1517.4 400.2h0M1519.2 400.1h0M1521 400h0M1522.8 400.2h0M1524.6 400.2h0M1526.4 400.2h0M1528.2 400.1h0M1530 400.2h0M1531.8 400.2h0M1533.6 400.3h0M1535.4 400.4h0M1537.2 400.3h0M1539 400h0M1540.8 400.1h0M1542.6 400h0M1544.4 400.2h0M1546.2 400.4h0M1548 400.4h0M1549.8 400.2h0M1551.6 400.4h0M1553.4 400.2h0M1555.2 400.1h0M1557 400.1h0M1558.8 400.2h0M1560.6 400.6h0M1562.4 400.2h0M1564.2 400.6h0M1566 400.6h0M1567.8 400.4h0M1569.6 400.4h0M1571.4 400.3h0M1573.2 400.4h0M1575 400.5h0M1576.8 400.4h0M1578.6 400.6h0M1580.4 400.6h0M1582.2 400.5h0M1584 400.5h0M1585.8 400.4h0M1587.6 400.5h0M1589.4 400.3h0M1591.2 400.5h0M1593 400.5h0M1594.8 400.3h0M1596.6 400.8h0M1598.4 400.3h0M1600.2 400.3h0M1602 400.5h0M1603.8 400.2h0M1605.6 400.4h0M1607.4 400.3h0M1609.2 400.3h0M1611 400.5h0M1612.8 400.5h0M1614.6 400.7h0M1616.4 400.6h0M1477.5 971h0"/>
</g>
<path fill="none" stroke="#fff" stroke-width="2" stroke-linecap="square" d="M407.3 613.1h0M410.9 586.8h0M414.1 568.3h0M417.3 550.9h0"/>
<g fill="#fff"><rect x="1476.5" y="859" width="2" height="3"/><rect x="404.5" y="213" width="2" height="3"/><rect x="409.5" y="289.5" width="2.5" height="2.5"/><rect x="1476.5" y="969.5" width="1.5" height="3"/></g>
<g fill="none" stroke-width="5.5">
<path stroke="#4169e1" d="M406.8 2035.9h30.6m-15.3 -15.3v30.6M419 2230.8h30.6m-15.3 -15.3v30.6M431.2 2268.3h30.6m-15.3 -15.3v30.6M443.4 2277.4h30.6m-15.3 -15.3v30.6M455.6 2281.7h30.6m-15.3 -15.3v30.6M467.9 2284.4h30.6m-15.3 -15.3v30.6M480.1 2285.7h30.6m-15.3 -15.3v30.6M492.3 2287.1h30.6m-15.3 -15.3v30.6M504.5 2287.1h30.6m-15.3 -15.3v30.6M516.7 2287.1h30.6m-15.3 -15.3v30.6M528.9 2287.1h30.6m-15.3 -15.3v30.6M541.2 2287.1h30.6m-15.3 -15.3v30.6M553.4 2287.1h30.6m-15.3 -15.3v30.6M565.6 2287.1h30.6m-15.3 -15.3v30.6M577.8 2287.1h30.6m-15.3 -15.3v30.6M590 2287.1h30.6m-15.3 -15.3v30.6M602.3 2287.1h30.6m-15.3 -15.3v30.6M614.5 2287.1h30.6m-15.3 -15.3v30.6M626.7 2287.1h30.6m-15.3 -15.3v30.6M638.9 2287.1h30.6m-15.3 -15.3v30.6M651.1 2287.1h30.6m-15.3 -15.3v30.6M663.4 2287.1h30.6m-15.3 -15.3v30.6M675.6 2287.1h30.6m-15.3 -15.3v30.6M687.8 2287.1h30.6m-15.3 -15.3v30.6M700 2287.1h30.6m-15.3 -15.3v30.6M712.2 2287.1h30.6m-15.3 -15.3v30.6M724.5 2287.1h30.6m-15.3 -15.3v30.6M736.7 2287.1h30.6m-15.3 -15.3v30.6M748.9 2287.1h30.6m-15.3 -15.3v30.6M761.1 2287.1h30.6m-15.3 -15.3v30.6M773.3 2287.1h30.6m-15.3 -15.3v30.6M785.5 2287.1h30.6m-15.3 -15.3v30.6M797.8 2287.1h30.6m-15.3 -15.3v30.6M810 2287.1h30.6m-15.3 -15.3v30.6M822.2 2287.1h30.6m-15.3 -15.3v30.6M834.4 2287.1h30.6m-15.3 -15.3v30.6M846.6 2287.1h30.6m-15.3 -15.3v30.6M858.9 2287.1h30.6m-15.3 -15.3v30.6M871.1 2287.1h30.6m-15.3 -15.3v30.6M883.3 2287.1h30.6m-15.3 -15.3v30.6M895.5 2287.1h30.6m-15.3 -15.3v30.6M907.7 2287.1h30.6m-15.3 -15.3v30.6M920 2287.1h30.6m-15.3 -15.3v30.6M932.2 2287.1h30.6m-15.3 -15.3v30.6M944.4 2287.1h30.6m-15.3 -15.3v30.6M956.6 2287.1h30.6m-15.3 -15.3v30.6M968.8 2287.1h30.6m-15.3 -15.3v30.6M981.1 2287.1h30.6m-15.3 -15.3v30.6M993.3 2287.1h30.6m-15.3 -15.3v30.6M1005.5 2287.1h30.6m-15.3 -15.3v30.6M1017.7 2287.1h30.6m-15.3 -15.3v30.6M1029.9 2287.1h30.6m-15.3 -15.3v30.6M1042.1 2287.1h30.6m-15.3 -15.3v30.6M1054.4 2287.1h30.6m-15.3 -15.3v30.6M1066.6 2287.1h30.6m-15.3 -15.3v30.6M1078.8 2287.1h30.6m-15.3 -15.3v30.6M1091 2287.1h30.6m-15.3 -15.3v30.6M1103.2 2287.1h30.6m-15.3 -15.3v30.6M1115.5 2287.1h30.6m-15.3 -15.3v30.6M1127.7 2287.1h30.6m-15.3 -15.3v30.6M1139.9 2287.1h30.6m-15.3 -15.3v30.6M1152.1 2287.1h30.6m-15.3 -15.3v30.6M1164.3 2287.1h30.6m-15.3 -15.3v30.6M1176.6 2285.7h30.6m-15.3 -15.3v30.6M1188.8 2285.7h30.6m-15.3 -15.3v30.6M1201 2285.7h30.6m-15.3 -15.3v30.6M1213.2 2285.7h30.6m-15.3 -15.3v30.6M1225.4 2284.7h30.6m-15.3 -15.3v30.6M1237.6 2283.7h30.6m-15.3 -15.3v30.6M1249.9 2282.8h30.6m-15.3 -15.3v30.6M1262.1 2281.8h30.6m-15.3 -15.3v30.6M1274.3 2280.8h30.6m-15.3 -15.3v30.6M1286.5 2277.9h30.6m-15.3 -15.3v30.6M1298.7 2277h30.6m-15.3 -15.3v30.6M1311 2273.7h30.6m-15.3 -15.3v30.6M1323.2 2270.8h30.6m-15.3 -15.3v30.6M1335.4 2267.9h30.6m-15.3 -15.3v30.6M1347.6 2264.8h30.6m-15.3 -15.3v30.6M1359.8 2260h30.6m-15.3 -15.3v30.6M1372.1 2254.8h30.6m-15.3 -15.3v30.6M1384.3 2252.8h30.6m-15.3 -15.3v30.6M1396.5 2246.6h30.6m-15.3 -15.3v30.6M1408.7 2244.7h30.6m-15.3 -15.3v30.6M1420.9 2240.7h30.6m-15.3 -15.3v30.6M1433.2 2238.9h30.6m-15.3 -15.3v30.6M1445.4 2237.8h30.6m-15.3 -15.3v30.6M1457.6 2234.9h30.6m-15.3 -15.3v30.6M1469.8 2232h30.6m-15.3 -15.3v30.6M1482 2229.8h30.6m-15.3 -15.3v30.6M1494.2 2233.9h30.6m-15.3 -15.3v30.6M1506.5 2242.8h30.6m-15.3 -15.3v30.6M1518.7 2246.6h30.6m-15.3 -15.3v30.6M1530.9 2252.8h30.6m-15.3 -15.3v30.6M1543.1 2259h30.6m-15.3 -15.3v30.6M1555.3 2262.9h30.6m-15.3 -15.3v30.6M1567.6 2266.9h30.6m-15.3 -15.3v30.6M1579.8 2271.8h30.6m-15.3 -15.3v30.6M1592 2271h30.6m-15.3 -15.3v30.6M1451.5 1414.3h30.6m-15.3 -15.3v30.6"/>
<path stroke="#ff0000" d="M451.3 1548.7l14.8 14.8m0 -14.8l-14.8 14.8M463.5 1866.9l14.8 14.8m0 -14.8l-14.8 14.8M475.8 1993.7l14.8 14.8m0 -14.8l-14.8 14.8M488 2038.5l14.8 14.8m0 -14.8l-14.8 14.8M500.2 2050.1l14.8 14.8m0 -14.8l-14.8 14.8M512.4 2048.8l14.8 14.8m0 -14.8l-14.8 14.8M524.6 2041.6l14.8 14.8m0 -14.8l-14.8 14.8M536.8 2034.7l14.8 14.8m0 -14.8l-14.8 14.8M549.1 2021.7l14.8 14.8m0 -14.8l-14.8 14.8M561.3 2014.4l14.8 14.8m0 -14.8l-14.8 14.8M573.5 2004.7l14.8 14.8m0 -14.8l-14.8 14.8M585.7 1994.7l14.8 14.8m0 -14.8l-14.8 14.8M597.9 1992.4l14.8 14.8m0 -14.8l-14.8 14.8M610.2 1984.5l14.8 14.8m0 -14.8l-14.8 14.8M622.4 1969.2l14.8 14.8m0 -14.8l-14.8 14.8M634.6 1966.7l14.8 14.8m0 -14.8l-14.8 14.8M646.8 1951.2l14.8 14.8m0 -14.8l-14.8 14.8M659 1948.9l14.8 14.8m0 -14.8l-14.8 14.8M671.3 1945.4l14.8 14.8m0 -14.8l-14.8 14.8M683.5 1969.6l14.8 14.8m0 -14.8l-14.8 14.8M695.7 2007.3l14.8 14.8m0 -14.8l-14.8 14.8M707.9 2037.8l14.8 14.8m0 -14.8l-14.8 14.8M720.1 2072.4l14.8 14.8m0 -14.8l-14.8 14.8M732.4 2094.4l14.8 14.8m0 -14.8l-14.8 14.8M744.6 2120.8l14.8 14.8m0 -14.8l-14.8 14.8M756.8 2135.3l14.8 14.8m0 -14.8l-14.8 14.8M769 2155.2l14.8 14.8m0 -14.8l-14.8 14.8M781.2 2172.4l14.8 14.8m0 -14.8l-14.8 14.8M793.4 2192.3l14.8 14.8m0 -14.8l-14.8 14.8M805.7 2209.1l14.8 14.8m0 -14.8l-14.8 14.8M817.9 2222.6l14.8 14.8m0 -14.8l-14.8 14.8M830.1 2234.2l14.8 14.8m0 -14.8l-14.8 14.8M842.3 2244.5l14.8 14.8m0 -14.8l-14.8 14.8M854.5 2251.2l14.8 14.8m0 -14.8l-14.8 14.8M866.8 2257.4l14.8 14.8m0 -14.8l-14.8 14.8M879 2261.8l14.8 14.8m0 -14.8l-14.8 14.8M891.2 2265.7l14.8 14.8m0 -14.8l-14.8 14.8M903.4 2269l14.8 14.8m0 -14.8l-14.8 14.8M915.6 2271.5l14.8 14.8m0 -14.8l-14.8 14.8M927.9 2273.4l14.8 14.8m0 -14.8l-14.8 14.8M940.1 2275.4l14.8 14.8m0 -14.8l-14.8 14.8M952.3 2276.7l14.8 14.8m0 -14.8l-14.8 14.8M964.5 2277.9l14.8 14.8m0 -14.8l-14.8 14.8M976.7 2278.6l14.8 14.8m0 -14.8l-14.8 14.8M989 2279.2l14.8 14.8m0 -14.8l-14.8 14.8M1001.2 2279.8l14.8 14.8m0 -14.8l-14.8 14.8M1013.4 2280.2l14.8 14.8m0 -14.8l-14.8 14.8M1025.6 2280.6l14.8 14.8m0 -14.8l-14.8 14.8M1037.8 2280.9l14.8 14.8m0 -14.8l-14.8 14.8M1050 2281.4l14.8 14.8m0 -14.8l-14.8 14.8M1062.3 2281.4l14.8 14.8m0 -14.8l-14.8 14.8M1074.5 2281.4l14.8 14.8m0 -14.8l-14.8 14.8M1086.7 2281.4l14.8 14.8m0 -14.8l-14.8 14.8M1098.9 2281.4l14.8 14.8m0 -14.8l-14.8 14.8M1111.1 2281.4l14.8 14.8m0 -14.8l-14.8 14.8M1123.4 2281.4l14.8 14.8m0 -14.8l-14.8 14.8M1135.6 2281.4l14.8 14.8m0 -14.8l-14.8 14.8M1147.8 2281.4l14.8 14.8m0 -14.8l-14.8 14.8M1160 2281.4l14.8 14.8m0 -14.8l-14.8 14.8M1172.2 2281.4l14.8 14.8m0 -14.8l-14.8 14.8M1184.5 2281.4l14.8 14.8m0 -14.8l-14.8 14.8M1196.7 2281.4l14.8 14.8m0 -14.8l-14.8 14.8M1208.9 2281.4l14.8 14.8m0 -14.8l-14.8 14.8M1221.1 2281.4l14.8 14.8m0 -14.8l-14.8 14.8M1233.3 2281.4l14.8 14.8m0 -14.8l-14.8 14.8M1245.5 2281.4l14.8 14.8m0 -14.8l-14.8 14.8M1257.8 2281.4l14.8 14.8m0 -14.8l-14.8 14.8M1270 2281.4l14.8 14.8m0 -14.8l-14.8 14.8M1282.2 2281.4l14.8 14.8m0 -14.8l-14.8 14.8M1294.4 2281.4l14.8 14.8m0 -14.8l-14.8 14.8M1306.6 2281.4l14.8 14.8m0 -14.8l-14.8 14.8M1318.9 2281.4l14.8 14.8m0 -14.8l-14.8 14.8M1331.1 2281.4l14.8 14.8m0 -14.8l-14.8 14.8M1343.3 2281.4l14.8 14.8m0 -14.8l-14.8 14.8M1355.5 2281.4l14.8 14.8m0 -14.8l-14.8 14.8M1367.7 2281.4l14.8 14.8m0 -14.8l-14.8 14.8M1380 2281.4l14.8 14.8m0 -14.8l-14.8 14.8M1392.2 2281.4l14.8 14.8m0 -14.8l-14.8 14.8M1404.4 2281.4l14.8 14.8m0 -14.8l-14.8 14.8M1416.6 2281.4l14.8 14.8m0 -14.8l-14.8 14.8M1428.8 2281.4l14.8 14.8m0 -14.8l-14.8 14.8M1441.1 2281.4l14.8 14.8m0 -14.8l-14.8 14.8M1453.3 2281.4l14.8 14.8m0 -14.8l-14.8 14.8M1465.5 2281.4l14.8 14.8m0 -14.8l-14.8 14.8M1477.7 2281.4l14.8 14.8m0 -14.8l-14.8 14.8M1489.9 2281.4l14.8 14.8m0 -14.8l-14.8 14.8M1502.1 2281.4l14.8 14.8m0 -14.8l-14.8 14.8M1514.4 2281.4l14.8 14.8m0 -14.8l-14.8 14.8M1526.6 2281.4l14.8 14.8m0 -14.8l-14.8 14.8M1538.8 2281.4l14.8 14.8m0 -14.8l-14.8 14.8M1551 2281.4l14.8 14.8m0 -14.8l-14.8 14.8M1563.2 2281.4l14.8 14.8m0 -14.8l-14.8 14.8M1575.5 2281.4l14.8 14.8m0 -14.8l-14.8 14.8M1587.7 2281.4l14.8 14.8m0 -14.8l-14.8 14.8M1599.9 2281.4l14.8 14.8m0 -14.8l-14.8 14.8M1459.4 1462l14.8 14.8m0 -14.8l-14.8 14.8"/>
</g>
<rect x="296.6" y="95.5" width="1321.4" height="917.4" stroke="#000" fill="none" stroke-width="5"/>
<rect x="385.4" y="1372.1" width="1221.9" height="917" stroke="#000" fill="none" stroke-width="5"/>
<text x="262" y="114.4" text-anchor="end">10</text>
<text x="262" y="267.3" text-anchor="end">5</text>
<text x="262" y="420.2" text-anchor="end">0</text>
<text x="262" y="573.1" text-anchor="end"><tspan dy="5.4">−</tspan><tspan dy="-5.4">5</tspan></text>
<text x="262" y="726" text-anchor="end"><tspan dy="5.4">−</tspan><tspan dy="-5.4">10</tspan></text>
<text x="262" y="878.9" text-anchor="end"><tspan dy="5.4">−</tspan><tspan dy="-5.4">15</tspan></text>
<text x="262" y="1031.8" text-anchor="end"><tspan dy="5.4">−</tspan><tspan dy="-5.4">20</tspan></text>
<text x="303.9" y="1087.3" text-anchor="middle">0</text>
<text x="524.1" y="1087.3" text-anchor="middle">50</text>
<text x="744.4" y="1087.3" text-anchor="middle">100</text>
<text x="964.6" y="1087.3" text-anchor="middle">150</text>
<text x="1184.8" y="1087.3" text-anchor="middle">200</text>
<text x="1405.1" y="1087.3" text-anchor="middle">250</text>
<text x="1625.3" y="1087.3" text-anchor="middle">300</text>
<text x="957.5" y="1170" text-anchor="middle">Distance between mass centre and surface (Å)</text>
<text transform="translate(116,776.3) rotate(-90)"><tspan letter-spacing="-0.55">Free energy</tspan> <tspan dx="-4.2">(</tspan><tspan class="i" dx="6.3">k</tspan><tspan class="s" dy="16.4" dx="-2.1">B</tspan><tspan class="i" dy="-16.4" dx="1.1">T</tspan><tspan dx="13.7">)</tspan></text>
<text x="826" y="882.7" text-anchor="end">0.001 <tspan class="i">e</tspan>/Å<tspan class="s" dy="-25.4">2</tspan></text>
<text x="826" y="938.2" text-anchor="end">0.005 <tspan class="i">e</tspan>/Å<tspan class="s" dy="-25.4">2</tspan></text>
<text x="826" y="993.7" text-anchor="end">0.01 <tspan class="i">e</tspan>/Å<tspan class="s" dy="-25.4">2</tspan></text>
<text x="1371.5" y="882.7" text-anchor="end"><tspan dy="5">−</tspan><tspan dy="-5">0.001</tspan> <tspan class="i">e</tspan>/Å<tspan class="s" dy="-25.4">2</tspan></text>
<text x="1371.5" y="938.2" text-anchor="end"><tspan dy="5">−</tspan><tspan dy="-5">0.005</tspan> <tspan class="i">e</tspan>/Å<tspan class="s" dy="-25.4">2</tspan></text>
<text x="1371.5" y="993.7" text-anchor="end"><tspan dy="5">−</tspan><tspan dy="-5">0.01</tspan> <tspan class="i">e</tspan>/Å<tspan class="s" dy="-25.4">2</tspan></text>
<text class="cap" x="887" y="1316" text-anchor="middle">(<tspan class="b">a</tspan>)</text>
<text x="352.2" y="1389.7" text-anchor="end">0.04</text>
<text x="352.2" y="1504.3" text-anchor="end">0.035</text>
<text x="352.2" y="1618.9" text-anchor="end">0.03</text>
<text x="352.2" y="1733.6" text-anchor="end">0.025</text>
<text x="352.2" y="1848.2" text-anchor="end">0.02</text>
<text x="352.2" y="1962.8" text-anchor="end">0.015</text>
<text x="352.2" y="2077.4" text-anchor="end">0.01</text>
<text x="352.2" y="2192.1" text-anchor="end">0.005</text>
<text x="352.2" y="2306.7" text-anchor="end">0</text>
<text x="392.7" y="2363" text-anchor="middle">0</text>
<text x="637.1" y="2363" text-anchor="middle">0.2</text>
<text x="881.5" y="2363" text-anchor="middle">0.4</text>
<text x="1125.8" y="2363" text-anchor="middle">0.6</text>
<text x="1370.2" y="2363" text-anchor="middle">0.8</text>
<text x="1614.6" y="2363" text-anchor="middle">1</text>
<text x="996.5" y="2444.5" text-anchor="middle">Cosine of angle to surface normal</text>
<text transform="translate(110,1958) rotate(-90)">Probability</text>
<text x="1361.5" y="1438" text-anchor="end">0.01 <tspan class="i">e</tspan>/Å<tspan class="s" dy="-25.4">2</tspan></text>
<text x="1361.5" y="1492.5" text-anchor="end"><tspan dy="5">−</tspan><tspan dy="-5">0.01</tspan> <tspan class="i">e</tspan>/Å<tspan class="s" dy="-25.4">2</tspan></text>
<text class="cap" x="877.3" y="2590.5" text-anchor="middle">(<tspan class="b">b</tspan>)</text>
</svg></body></html>
